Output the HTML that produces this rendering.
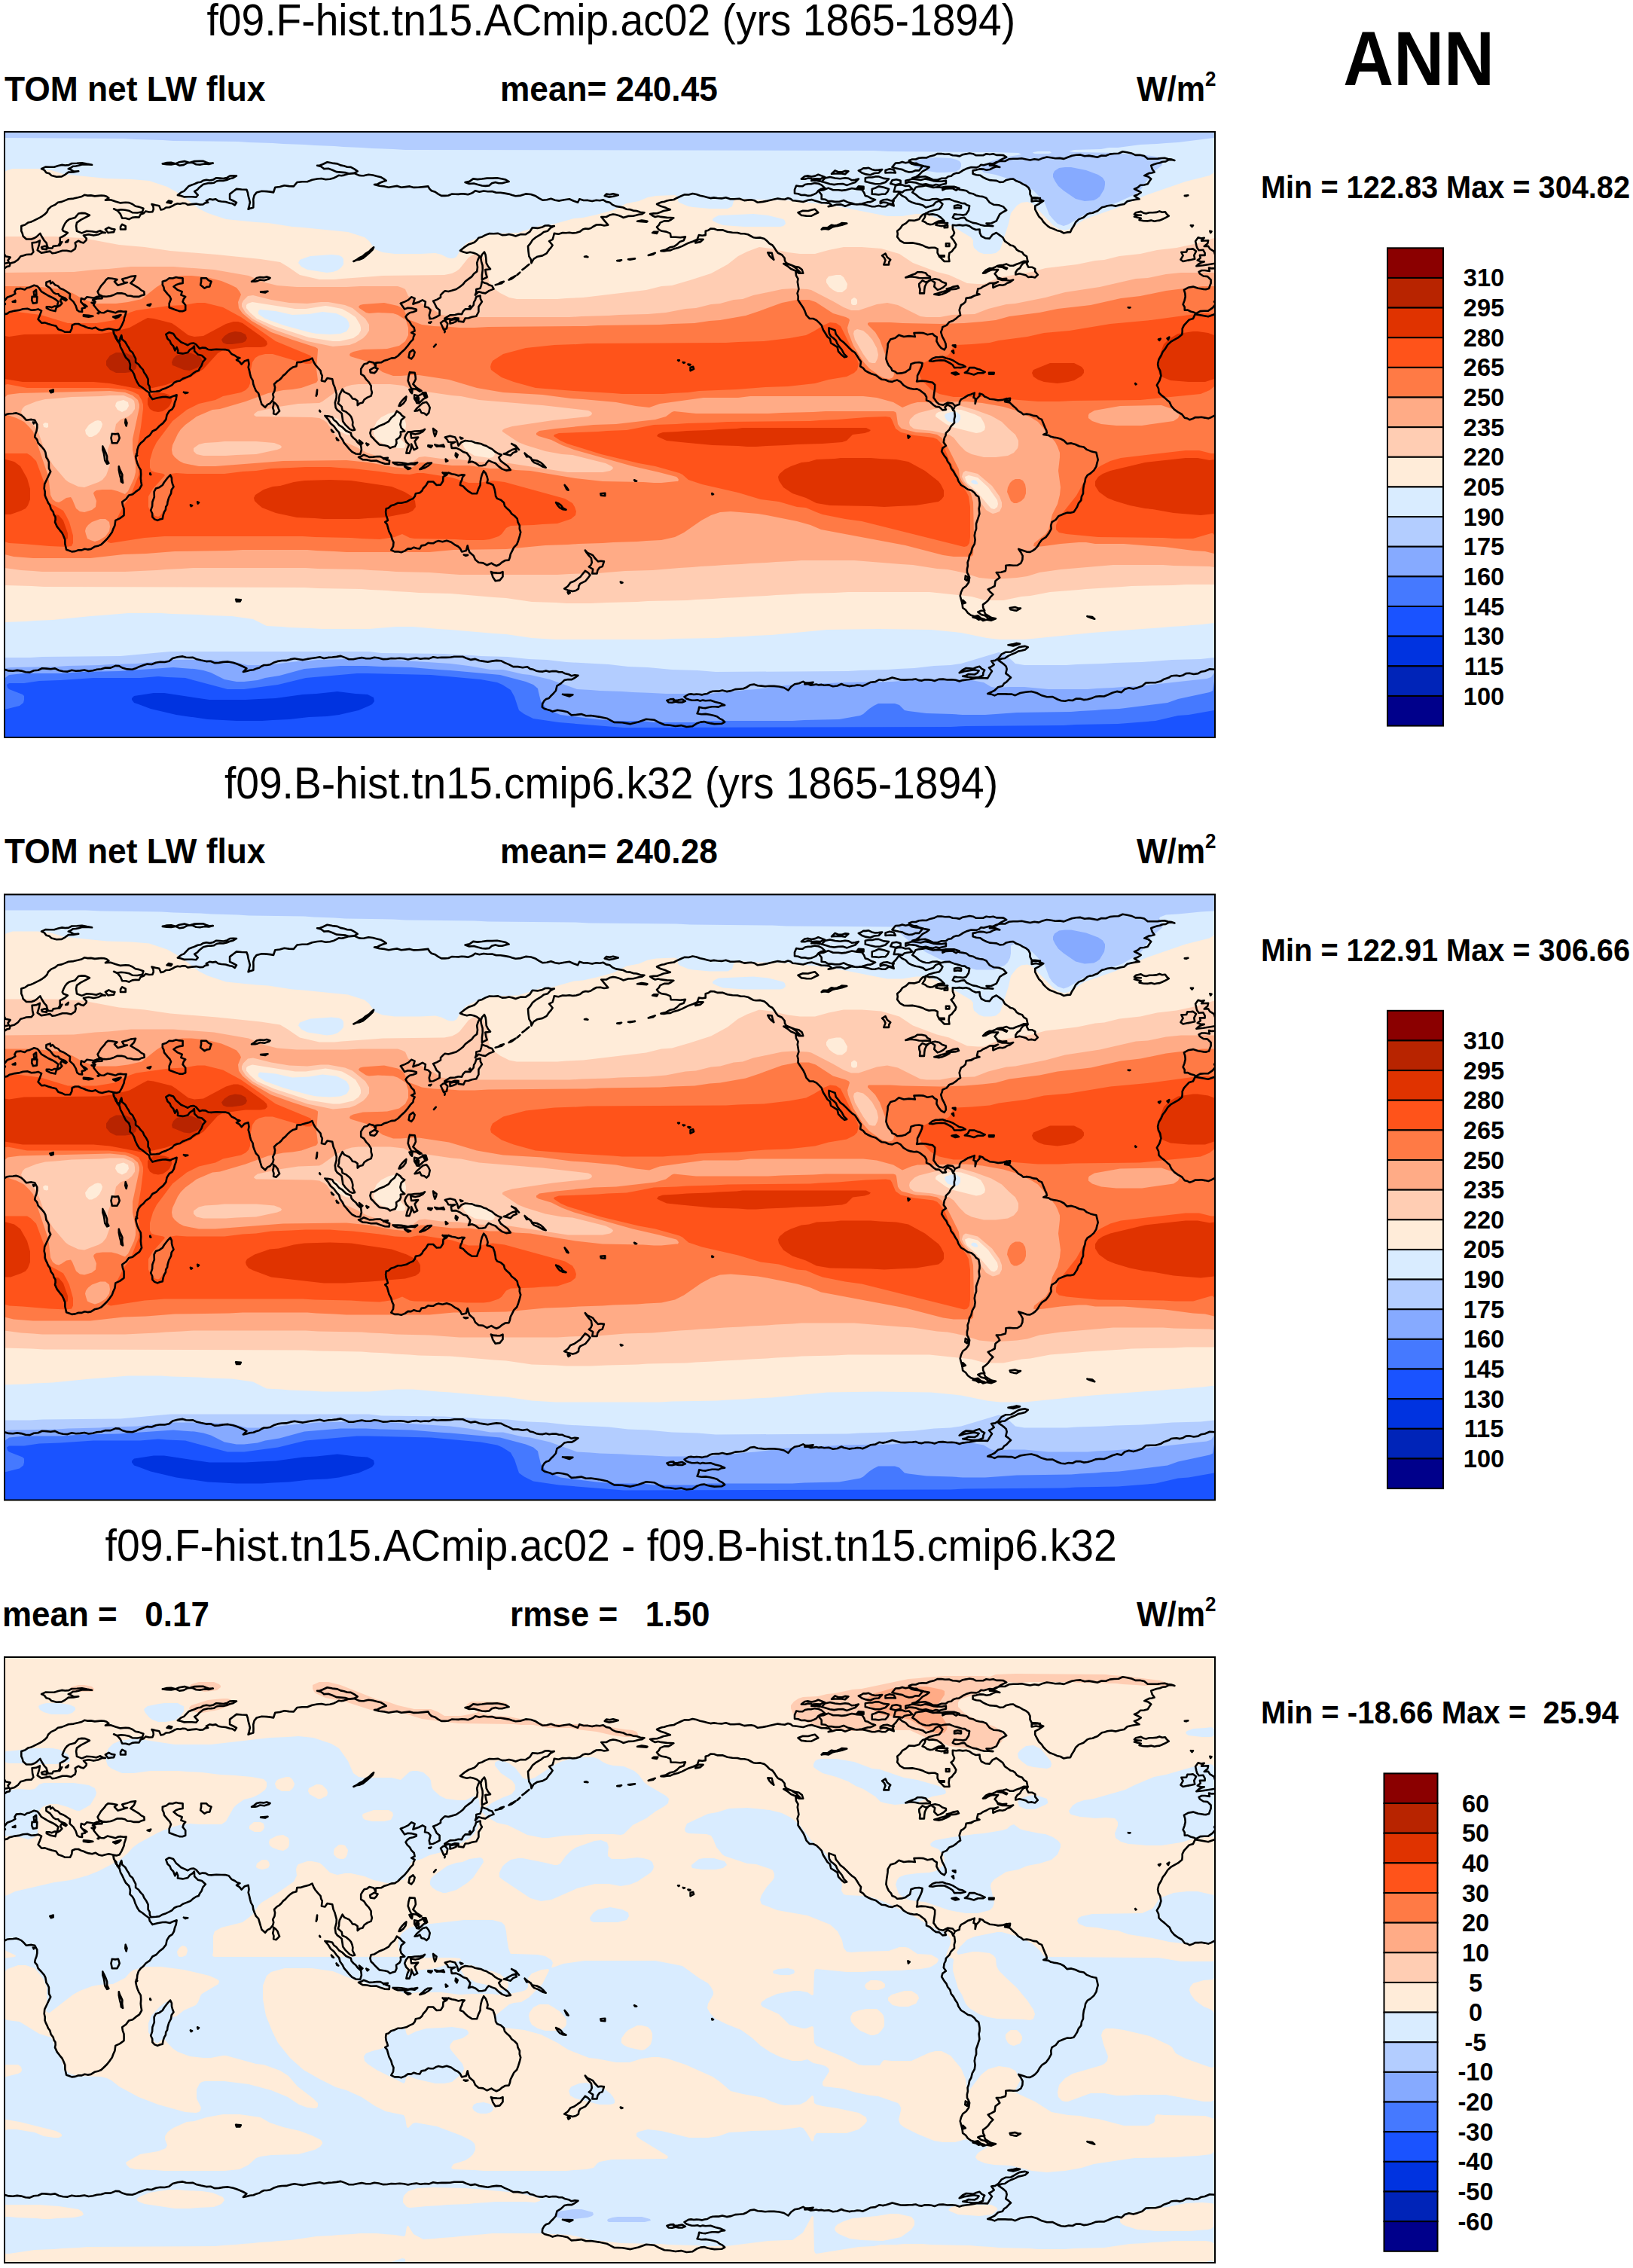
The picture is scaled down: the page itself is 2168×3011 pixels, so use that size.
<!DOCTYPE html>
<html lang="en"><head><meta charset="utf-8"><title>ANN TOM net LW flux</title>
<style>
html,body{margin:0;padding:0;background:#fff;}
svg{display:block;}
text{white-space:pre;font-family:"Liberation Sans",Arial,Helvetica,sans-serif;fill:#000;}
.t{font-size:56px;text-anchor:middle;}
.b{font-size:44px;font-weight:bold;}
.l{font-size:32.6px;font-weight:bold;text-anchor:middle;}
.mm{font-size:41px;font-weight:bold;}
.coast{fill:none;stroke:#000;stroke-width:2.6;stroke-linejoin:round;stroke-linecap:round;}
</style></head><body>
<svg width="2168" height="3011" viewBox="0 0 2168 3011">
<rect width="2168" height="3011" fill="#fff"/>
<defs><clipPath id="mc"><rect x="0" y="0" width="1607" height="804"/></clipPath></defs>
<g transform="translate(6,175)" clip-path="url(#mc)">
<g fill-rule="evenodd" stroke="none">
<rect x="0" y="0" width="1607" height="804" fill="#0033e0"/>
<path fill="#1a53ff" d="M2,0 1606,0 1606,804 0,804 0,0ZM433,744 414,746 396,747 360,752 338,753 320,754 272,754 212,745 198,745 172,749 169,752 169,754 172,758 178,760 194,766 228,774 270,780 290,781 308,782 342,782 356,781 378,780 404,777 428,776 444,774 470,768 484,762 488,760 491,756 490,751 482,747 466,746 442,743Z"/>
<path fill="#4579ff" d="M2,0 1606,0 1606,768 1572,774 1558,775 1528,782 1478,786 1422,787 1406,788 1276,789 1256,790 822,791 736,784 702,779 690,773 683,768 677,750 672,741 661,734 654,731 632,727 566,721 482,719 468,719 400,725 363,734 318,740 296,740 240,725 216,724 204,723 180,725 118,725 74,728 46,729 26,732 6,732 3,734 4,738 6,740 24,747 26,749 26,754 25,758 20,762 0,767 0,0Z"/>
<path fill="#86aaff" d="M2,0 1606,0 1606,730 1604,742 1600,744 1558,753 1544,758 1480,766 1458,767 1448,768 1428,769 1416,770 1344,771 1302,774 1272,774 1258,773 1224,772 1200,769 1195,768 1188,761 1182,759 1166,759 1160,759 1154,762 1148,766 1140,773 1136,775 1108,780 1062,781 1046,782 934,782 918,784 862,784 846,782 810,782 786,780 738,774 724,768 718,764 712,756 709,744 708,739 702,734 692,730 658,721 592,715 576,714 540,711 499,710 480,709 446,709 422,711 398,713 365,722 346,725 336,728 318,730 308,730 292,727 274,718 264,715 252,713 236,712 224,711 152,716 102,717 76,719 26,719 6,721 2,724 0,726 0,0Z"/>
<path fill="#b3cdff" d="M2,0 1606,0 1606,718 1602,724 1596,726 1532,733 1506,736 1484,737 1472,738 1450,739 1438,740 1386,740 1354,737 1334,737 1316,738 1310,737 1300,731 1278,727 1216,727 1178,730 1112,731 1096,732 1062,733 1052,734 1036,735 998,740 984,741 936,746 878,746 860,745 834,744 820,743 790,742 778,741 760,740 724,727 698,721 688,720 662,714 645,714 616,709 592,706 498,700 486,699 470,699 456,700 416,701 406,702 390,703 348,708 322,708 304,703 282,702 272,701 224,701 176,706 140,707 126,708 84,709 70,710 8,711 2,712 0,714 0,0ZM1400,48 1394,52 1392,56 1392,60 1395,66 1399,72 1406,78 1422,89 1434,92 1446,91 1450,89 1454,86 1460,76 1461,70 1461,66 1458,61 1452,57 1436,51 1416,47 1408,47Z"/>
<path fill="#d9ecff" d="M2,8 158,9 174,10 210,11 224,12 310,13 324,14 356,15 370,16 398,17 412,18 438,19 450,20 474,21 488,22 516,23 532,24 1154,25 1174,26 1312,27 1346,28 1350,30 1322,35 1310,39 1298,45 1296,48 1296,50 1300,54 1316,57 1344,66 1365,77 1380,92 1387,110 1392,116 1398,122 1406,125 1412,123 1432,111 1479,93 1499,84 1509,76 1522,57 1526,53 1536,45 1538,40 1536,36 1534,34 1516,31 1494,30 1480,28 1420,27 1413,26 1420,24 1456,23 1466,21 1478,21 1508,17 1530,16 1542,15 1558,14 1606,8 1606,698 1588,700 1550,701 1510,704 1474,705 1458,706 1424,707 1410,708 1354,708 1342,706 1328,693 1320,691 1270,706 1256,708 1234,709 1208,712 1186,713 1172,714 1136,715 1120,716 944,717 932,716 920,715 886,714 854,711 828,710 802,707 746,704 720,701 696,700 668,697 632,696 620,695 598,694 584,693 500,692 484,690 220,690 154,696 50,697 34,698 0,698 0,8ZM1218,36 1210,38 1206,40 1206,42 1207,46 1214,48 1226,52 1238,54 1248,54 1262,53 1268,50 1270,46 1270,42 1268,39 1264,37 1256,35 1236,34ZM1366,27 1372,26 1382,26 1388,26 1390,28 1386,29 1374,29 1368,29 1365,28Z"/>
<path fill="#ffecd9" d="M11,49 44,49 62,51 78,56 96,58 136,62 168,63 192,65 216,73 232,82 258,102 270,108 294,116 334,120 350,121 382,126 396,127 456,133 478,140 484,145 492,156 502,160 518,162 552,162 572,161 580,163 588,167 592,168 596,168 600,166 607,154 613,148 632,139 652,135 682,134 710,125 724,124 756,115 768,114 786,110 808,104 826,95 842,92 854,87 865,85 890,84 894,86 894,92 896,94 908,99 914,100 936,102 960,102 966,99 968,92 970,90 981,89 996,90 1040,91 1096,97 1172,112 1192,112 1210,109 1224,109 1244,117 1283,140 1286,144 1286,150 1287,154 1294,160 1300,162 1310,162 1316,161 1322,156 1333,122 1336,108 1344,98 1350,94 1358,93 1364,95 1392,124 1400,129 1408,131 1414,129 1434,116 1474,102 1516,84 1568,66 1600,58 1606,54 1606,652 1590,654 1576,655 1566,656 1548,657 1538,658 1444,665 1354,674 1322,674 1304,672 1270,665 1230,661 1160,660 1092,661 1018,668 994,669 982,670 960,671 946,672 886,673 870,674 732,674 700,672 666,667 650,666 592,661 576,660 542,657 520,657 484,660 422,660 406,659 378,658 368,657 348,656 330,647 302,643 272,642 258,641 222,640 208,639 164,639 128,642 114,643 64,648 40,649 28,650 0,651 0,53 4,51ZM972,110 948,111 942,114 940,116 940,118 946,121 954,124 982,126 1030,126 1034,125 1037,122 1036,118 1034,116 1014,111 994,109ZM420,164 406,165 400,167 392,170 390,174 394,179 402,183 428,187 436,186 442,184 447,180 450,176 450,172 450,169 448,166 444,164 434,163ZM339,236 337,238 337,242 346,248 371,257 404,266 414,268 432,269 446,268 454,265 456,262 458,258 457,253 454,248 447,244 440,241 422,239 404,242 382,243 360,238ZM1257,372 1250,374 1248,376 1249,380 1252,384 1258,386 1262,387 1266,386 1269,382 1269,376 1264,372ZM1283,464 1284,466 1288,468 1290,468 1292,468 1292,466 1290,463 1286,462Z"/>
<path fill="#ffcdb3" d="M2,139 10,139 68,139 84,140 104,141 152,150 186,153 220,158 282,163 340,169 366,173 376,179 392,190 418,196 438,196 448,195 490,192 502,191 584,190 594,188 600,185 604,182 616,167 622,163 628,162 634,164 638,170 642,182 643,198 650,208 658,214 670,220 680,222 690,222 734,222 746,221 768,220 852,210 872,205 886,204 910,197 938,188 960,176 974,165 986,159 1002,153 1018,155 1040,160 1056,162 1076,162 1094,157 1114,153 1138,153 1164,155 1188,162 1206,174 1238,186 1254,190 1278,201 1292,202 1300,202 1322,193 1364,186 1382,181 1424,176 1448,171 1460,170 1480,165 1508,162 1530,157 1556,154 1584,148 1606,141 1606,601 1568,601 1552,602 1496,603 1484,604 1436,607 1426,608 1388,611 1362,616 1350,617 1326,622 1302,622 1284,617 1228,611 1120,611 1102,612 1058,613 1046,614 1024,615 1012,616 990,617 976,618 954,619 940,620 918,621 906,622 854,623 840,624 800,625 778,626 746,626 732,625 700,624 666,619 650,618 592,613 550,612 538,611 518,610 508,609 486,608 474,607 416,606 398,605 52,604 36,603 0,602 0,140ZM1104,190 1094,192 1091,196 1091,200 1095,206 1100,210 1106,213 1112,213 1116,210 1118,208 1119,202 1114,193 1110,190ZM1125,222 1124,223 1124,228 1126,230 1130,230 1132,228 1132,223 1130,221 1128,220ZM329,226 323,228 321,230 321,234 326,240 335,248 358,258 404,273 436,278 445,278 458,275 463,274 470,269 473,264 473,260 472,256 466,246 457,240 448,235 433,232 426,231 400,235 386,235ZM150,358 148,360 147,364 150,369 156,372 162,369 165,364 164,359 158,356ZM1257,368 1240,372 1237,374 1236,376 1236,378 1250,388 1258,392 1290,400 1296,399 1301,396 1302,392 1301,388 1299,384 1296,379 1288,375 1270,369ZM510,374 500,379 494,385 490,394 490,402 495,410 502,414 522,420 530,420 532,418 532,414 526,408 525,404 526,400 532,395 533,391 533,388 532,384 528,376 524,373 518,372ZM433,380 434,384 442,396 454,402 458,402 459,398 454,392 442,381 436,379ZM120,384 112,389 107,396 108,401 112,405 116,405 122,402 126,398 129,392 130,388 128,384 124,383ZM51,388 52,392 56,393 58,392 58,390 58,387 54,386ZM611,410 608,414 610,419 614,424 624,430 630,431 644,433 648,432 650,430 651,428 650,424 644,419 624,410 618,409ZM1275,458 1276,462 1278,466 1291,478 1308,498 1310,500 1314,501 1318,498 1319,494 1318,489 1306,472 1292,459 1280,456Z"/>
<path fill="#ffab86" d="M168,179 224,179 236,180 278,183 324,191 346,200 362,204 388,206 454,206 472,205 522,205 528,207 532,209 536,218 542,222 566,234 580,243 586,244 612,246 750,246 766,245 802,244 816,243 854,242 878,240 904,235 918,234 938,229 950,228 968,223 980,222 994,217 1032,209 1046,208 1066,209 1071,210 1100,225 1114,233 1124,237 1134,237 1158,229 1172,227 1186,230 1216,245 1224,246 1242,246 1258,243 1288,242 1306,235 1330,229 1342,228 1382,220 1408,213 1454,206 1502,195 1518,194 1542,189 1562,187 1606,187 1606,578 1600,577 1552,576 1538,575 1472,575 1402,581 1374,585 1358,590 1344,592 1314,594 1294,592 1272,585 1252,581 1238,580 1206,575 1190,574 1128,569 1058,569 1046,570 1024,571 1012,572 990,573 978,574 956,575 943,576 924,577 913,578 896,579 860,582 824,583 788,586 750,587 734,588 604,588 564,585 520,584 508,583 486,582 474,581 416,580 400,579 250,579 235,580 214,581 202,582 180,583 160,584 50,584 38,583 22,582 0,579 0,187 92,186 120,183 138,182ZM323,218 317,224 315,228 315,232 320,240 329,248 336,252 356,262 402,278 436,285 458,283 466,280 476,274 480,270 484,264 484,256 479,248 462,234 452,230 430,226 420,226 402,228 378,227 354,223 330,217ZM1128,264 1127,268 1129,276 1140,295 1148,306 1152,307 1156,307 1159,301 1160,296 1158,287 1152,276 1146,269 1140,264 1132,262ZM461,336 454,338 440,345 422,358 418,360 390,361 364,365 336,371 332,374 331,376 334,378 340,378 408,379 418,380 424,383 428,386 432,392 438,402 450,411 466,418 481,426 518,438 532,440 536,441 540,440 550,432 558,431 580,434 604,435 628,438 670,440 748,452 794,452 804,450 807,448 808,446 806,444 798,440 754,429 740,428 718,424 692,416 682,412 661,398 661,396 664,394 674,391 728,383 775,378 779,376 780,374 779,372 775,370 714,363 700,362 690,361 630,356 606,351 594,350 560,345 544,344 530,337 512,335 470,335ZM89,352 68,354 54,355 42,358 27,364 24,367 22,372 24,376 37,388 42,393 46,402 54,425 64,442 81,462 85,465 98,471 106,472 125,465 130,462 135,456 140,442 137,430 137,422 146,398 148,388 154,382 164,378 169,374 173,368 173,362 172,357 168,354 158,350 140,350 128,351ZM1242,366 1214,373 1208,376 1202,382 1201,386 1202,390 1207,394 1212,395 1232,397 1254,402 1260,406 1268,416 1276,424 1284,428 1300,432 1316,432 1332,430 1340,426 1345,420 1346,416 1346,410 1342,402 1334,395 1324,385 1310,377 1288,369 1270,364 1260,364ZM283,412 266,413 258,415 251,420 251,424 255,428 264,430 294,430 308,429 334,428 362,422 367,420 368,418 366,416 358,413 334,411 292,411ZM1273,452 1272,454 1271,458 1274,464 1286,478 1303,502 1308,505 1312,507 1316,506 1321,504 1324,498 1324,492 1321,484 1311,470 1292,454 1280,451 1276,450Z"/>
<path fill="#ff7a45" d="M236,191 248,191 268,193 288,198 300,203 308,207 312,212 314,216 310,226 311,234 316,241 328,251 354,266 382,276 413,286 416,288 416,290 414,314 416,330 414,333 394,340 382,342 370,343 350,347 320,358 286,368 276,369 255,378 240,389 234,395 230,401 223,416 222,422 223,428 226,432 232,437 238,440 258,444 280,444 370,437 454,436 484,439 516,445 536,447 542,445 552,439 558,439 594,443 617,443 644,447 668,447 678,449 698,450 758,460 794,464 848,465 862,466 872,466 892,464 894,464 895,462 894,460 892,458 869,452 834,444 756,422 740,416 726,409 709,404 706,402 706,400 710,397 732,394 782,389 812,388 864,382 878,378 886,372 889,371 918,374 1014,374 1032,373 1074,372 1090,371 1180,371 1183,372 1184,374 1186,388 1188,391 1191,394 1210,399 1228,400 1238,402 1244,406 1250,414 1260,434 1267,448 1268,458 1271,464 1283,480 1286,492 1287,536 1286,562 1283,564 1278,564 1260,564 1246,562 1196,549 1084,528 1070,522 1052,517 1012,509 1000,507 964,504 950,505 938,509 925,516 902,532 890,538 872,542 852,543 840,544 808,545 794,546 762,547 748,548 718,549 666,554 596,555 564,558 454,558 438,557 414,556 402,555 316,555 298,556 226,557 188,560 158,561 114,566 38,566 12,564 0,561 0,373 4,376 16,380 26,385 33,392 38,398 57,454 59,464 61,482 64,488 68,491 72,492 76,490 82,486 88,485 90,488 95,500 100,504 106,505 116,502 121,498 122,490 118,480 119,478 122,476 130,475 142,475 150,477 160,481 164,477 172,460 174,452 174,442 170,422 170,408 179,366 179,362 177,356 170,350 160,346 140,344 20,347 4,349 0,353 0,205 38,205 76,209 90,214 104,222 122,228 148,228 164,226 182,222 202,206 220,195 224,193ZM127,514 116,518 111,522 108,526 107,530 108,534 110,540 114,542 120,544 126,542 134,537 139,530 140,524 139,518 134,514ZM1590,205 1606,205 1606,560 1594,557 1578,556 1540,551 1524,550 1486,547 1448,547 1436,545 1426,545 1402,547 1380,550 1370,551 1366,550 1367,546 1382,534 1386,528 1391,508 1398,494 1401,482 1402,472 1399,450 1401,432 1401,426 1398,418 1395,412 1372,385 1364,380 1346,371 1326,365 1298,360 1276,358 1212,359 1204,361 1192,366 1180,359 1158,353 1140,351 1010,351 990,351 974,353 928,353 870,361 856,366 838,364 812,359 768,355 752,354 714,349 662,346 627,340 590,329 550,323 538,323 526,324 516,324 502,319 482,305 462,299 459,298 458,296 459,294 463,292 476,289 508,288 524,284 532,278 536,270 536,260 533,250 522,243 516,241 496,240 484,241 480,240 471,234 470,232 472,230 476,229 504,227 522,231 528,234 531,238 536,249 554,256 570,258 592,259 604,260 624,260 642,259 772,258 788,257 870,256 886,255 916,254 936,251 950,250 984,244 1002,238 1032,227 1052,223 1068,223 1077,226 1100,241 1117,246 1121,248 1122,250 1119,260 1120,266 1127,284 1140,305 1148,314 1162,324 1168,327 1174,328 1178,327 1180,325 1181,322 1180,318 1173,306 1162,276 1156,266 1146,256 1146,254 1148,253 1176,253 1192,254 1242,255 1274,254 1298,252 1316,250 1334,245 1374,240 1398,235 1442,230 1482,221 1508,218 1542,211ZM1481,364 1447,370 1440,374 1439,376 1439,380 1444,384 1456,388 1476,390 1510,390 1552,384 1558,380 1560,376 1558,372 1556,370 1536,363ZM1342,461 1348,461 1352,463 1355,468 1356,474 1356,480 1354,486 1350,490 1344,493 1340,493 1336,490 1331,478 1332,472 1335,466 1338,463Z"/>
<path fill="#ff531a" d="M256,227 266,227 290,233 314,246 360,278 406,297 408,300 409,304 408,307 406,308 400,308 356,295 346,295 338,297 333,300 329,306 327,316 326,334 324,339 320,343 314,346 290,351 280,356 258,361 242,369 223,384 202,412 197,422 193,436 193,446 195,450 200,452 211,454 213,456 197,474 191,484 191,490 191,498 195,506 200,510 204,511 206,510 214,500 216,494 224,470 223,464 218,456 221,454 228,453 242,454 292,454 316,451 334,450 354,447 380,446 400,445 432,445 444,446 462,447 498,451 518,454 538,455 548,453 556,453 594,459 616,466 630,466 648,463 664,465 744,487 754,493 757,498 759,504 758,509 752,514 734,520 714,521 702,522 672,523 666,526 660,534 656,537 644,541 636,542 614,542 598,541 544,540 538,539 528,534 518,538 498,541 474,540 460,539 412,538 396,537 212,537 200,538 186,539 141,546 138,545 136,544 145,530 148,516 158,496 167,484 178,456 179,442 176,420 181,392 184,368 184,362 182,356 178,349 170,345 160,342 138,340 30,340 4,335 0,336 0,241 8,239 16,239 48,243 84,254 122,254 146,250 166,240 175,237 218,231 238,230ZM1588,241 1596,241 1606,242 1606,338 1600,343 1588,348 1508,356 1418,357 1400,358 1372,358 1334,355 1312,354 1298,352 1260,352 1241,348 1230,342 1218,330 1213,320 1214,314 1218,308 1231,301 1252,297 1255,294 1259,286 1264,283 1284,282 1308,280 1320,277 1358,272 1380,267 1414,264 1468,255 1522,250ZM1096,253 1104,254 1110,258 1132,302 1134,308 1133,312 1132,316 1128,320 1118,325 1094,329 1076,334 1040,338 1010,339 972,342 922,344 908,346 886,347 874,348 820,348 808,347 756,344 705,340 676,332 660,326 650,319 646,316 645,312 646,308 648,304 662,295 692,287 730,283 760,282 774,281 958,280 974,279 1008,278 1042,274 1064,270 1074,265 1089,256ZM1144,379 1170,378 1176,379 1178,382 1183,394 1190,399 1208,403 1233,406 1238,408 1242,412 1248,420 1255,438 1263,452 1267,464 1277,478 1280,484 1282,498 1282,538 1281,546 1278,550 1274,551 1270,550 1138,517 1116,514 1086,508 1078,505 1064,499 1052,498 1028,491 1004,488 974,479 926,468 908,462 900,455 896,453 864,444 842,440 792,428 747,414 738,410 729,404 730,402 736,400 788,398 800,397 826,396 847,392 862,389 892,388 906,387 942,386 960,385 1070,384 1082,383 1106,382 1118,381ZM1568,423 1586,423 1602,427 1606,427 1606,535 1604,533 1602,533 1578,540 1570,540 1554,540 1538,539 1452,538 1410,534 1400,532 1396,528 1396,522 1400,512 1423,483 1438,456 1442,452 1456,443 1468,437 1482,433ZM2,427 30,427 35,430 42,437 52,464 56,484 58,490 62,494 73,500 78,503 82,510 86,518 91,536 91,546 89,550 82,551 60,550 24,547 6,546 0,544 0,427Z"/>
<path fill="#e03300" d="M190,247 198,248 222,254 228,258 244,270 252,272 264,271 294,255 304,252 310,252 316,254 344,274 348,278 349,282 346,285 340,286 320,286 290,290 283,294 264,315 246,326 238,330 228,331 214,336 188,342 182,342 140,334 118,332 24,332 0,328 0,271 6,272 26,269 128,268 142,266 166,260 184,250ZM1578,265 1584,265 1598,267 1606,270 1606,328 1594,332 1572,332 1548,330 1538,326 1533,322 1531,314 1533,298 1539,282 1546,275 1558,268ZM1388,307 1406,307 1420,307 1430,312 1433,316 1433,320 1430,324 1420,330 1412,332 1398,334 1380,332 1372,329 1366,325 1364,320 1366,316ZM198,347 204,346 212,347 218,349 221,352 222,354 222,358 219,364 216,367 210,371 204,372 198,371 193,368 190,362 190,354 192,351ZM980,393 1118,393 1144,393 1150,396 1148,398 1142,400 1126,402 1118,410 1112,412 1086,414 1052,415 1038,416 1012,417 998,418 986,418 974,417 940,416 898,412 879,410 870,406 866,404 868,401 874,399 894,398 906,397 936,396 948,395 972,394ZM1110,433 1150,433 1162,434 1184,435 1200,438 1222,450 1240,464 1243,468 1247,476 1247,480 1247,484 1244,488 1240,491 1210,496 1186,497 1168,498 1150,497 1096,496 1078,493 1064,486 1046,480 1034,472 1028,463 1027,458 1029,454 1036,448 1044,444 1058,439 1068,438 1078,435 1102,434ZM1568,433 1584,433 1600,436 1606,435 1606,507 1588,509 1552,506 1524,501 1514,500 1494,496 1474,490 1464,486 1453,478 1448,470 1448,464 1452,458 1458,454 1468,450 1514,439ZM2,435 13,438 21,444 30,460 34,474 34,488 31,496 28,500 22,503 8,508 0,508 0,435ZM398,463 432,462 460,463 514,471 531,478 541,484 545,490 546,498 542,503 536,506 504,512 482,513 470,514 424,514 412,513 388,512 360,506 342,499 336,494 332,490 331,486 333,482 344,475 356,471 366,470 384,465ZM66,509 68,508 72,509 78,516 84,533 84,540 82,541 80,540 76,534 66,516Z"/>
<path fill="#b82400" d="M306,265 314,266 320,269 322,274 320,278 316,280 302,282 295,282 290,280 288,276 292,271 298,267ZM148,293 160,293 171,298 174,302 176,307 175,312 174,315 168,319 160,320 148,320 140,316 135,310 135,304 140,297ZM240,293 248,294 260,299 263,304 262,308 256,313 246,317 238,316 226,311 223,310 222,306 224,301 228,297Z"/>
</g>
<path class="coast" d="M1580.7,242.1 1598.1,245.2 1607.0,242.1M0.0,242.1 0.0,242.1 3.6,241.4 6.5,239.2 9.9,238.4 13.4,237.6 19.0,236.9 24.5,235.2 30.3,234.7 35.7,236.7 40.2,236.4 44.6,235.4 49.1,237.6 46.9,243.4 44.6,248.8 49.1,253.7 53.7,253.4 58.0,255.0 63.1,256.5 68.3,257.7 71.4,262.2 76.0,263.7 80.4,265.8 87.0,265.8 89.3,261.3 89.7,256.8 93.8,255.0 98.2,255.0 101.4,256.7 104.9,257.8 108.1,259.3 111.6,260.4 116.3,261.3 120.9,259.8 124.9,262.4 129.5,263.5 133.9,262.3 138.4,261.3 144.2,262.6 145.1,268.0 148.3,272.0 149.5,276.9 152.7,280.9 154.0,285.9 156.4,290.2 158.5,294.8 161.1,299.8 165.2,303.7 166.9,309.2 166.5,314.9 169.7,317.9 171.9,321.6 173.7,327.3 176.3,332.8 178.9,336.9 183.0,339.5 187.3,343.0 191.9,346.2 192.8,350.2 196.4,355.1 203.0,353.2 209.8,352.0 214.7,351.9 219.5,353.0 223.9,350.9 228.6,349.3 227.7,355.1 226.0,359.4 225.0,364.0 222.7,368.1 218.7,370.7 215.5,375.9 214.3,381.9 210.3,386.9 205.3,390.8 201.5,395.0 196.4,397.5 192.8,402.9 187.5,406.5 184.5,410.2 180.8,413.2 177.8,417.3 176.3,422.1 175.9,426.8 174.1,431.0 175.0,435.5 176.3,440.0 178.2,444.6 180.8,448.9 181.2,454.5 180.8,460.1 181.3,464.5 182.1,469.0 179.1,474.4 174.1,477.9 170.1,481.2 165.2,482.4 161.4,487.5 156.2,491.3 156.9,495.9 158.5,500.3 158.6,504.7 158.5,509.2 153.2,513.1 147.3,515.9 146.4,522.6 144.4,527.0 142.8,531.5 139.6,536.1 136.1,540.5 133.6,543.0 131.0,545.5 128.3,548.0 125.0,549.4 119.5,550.8 114.7,553.9 110.5,554.6 106.4,553.7 102.5,555.4 98.2,555.2 93.9,556.9 89.3,557.4 85.8,556.0 82.1,554.8 81.3,551.0 80.4,547.2 80.3,541.4 78.1,536.0 76.3,532.4 73.7,529.3 69.7,524.1 67.0,518.1 67.7,514.7 67.5,511.2 65.5,508.2 64.7,504.7 61.6,500.7 60.3,495.8 58.0,492.8 56.6,489.2 54.9,485.9 53.6,482.4 53.7,477.9 52.7,473.5 53.2,467.6 55.8,462.3 58.4,456.7 61.2,451.1 59.0,446.9 58.9,442.2 58.9,438.6 57.5,435.3 55.5,432.3 54.9,428.8 54.3,425.3 52.7,422.1 48.8,417.5 44.6,413.2 43.2,408.7 40.2,405.1 40.9,401.2 42.4,397.5 43.3,393.1 43.3,388.6 40.2,382.8 35.7,381.9 29.0,382.8 25.8,379.3 22.3,376.1 19.0,374.6 15.6,373.4 11.2,374.0 6.7,374.3 3.2,374.8 0.0,376.5 0.0,376.5M1607.0,376.5 1602.6,378.7 1598.1,380.6 1593.6,379.6 1589.1,378.8 1585.1,379.1 1581.0,379.0 1577.4,380.9 1573.5,382.3 1570.4,380.5 1566.8,379.7 1563.1,375.0 1557.9,372.1 1553.0,368.6 1549.0,364.0 1546.7,358.7 1543.3,355.9 1540.0,352.9 1536.0,349.8 1532.5,346.2 1532.1,341.0 1529.8,336.3 1533.3,330.5 1535.4,323.9 1534.2,317.1 1531.9,313.0 1531.1,308.2 1532.4,302.2 1535.6,297.0 1537.6,292.2 1540.9,288.1 1544.3,282.6 1549.0,278.3 1553.4,275.8 1557.9,273.4 1563.3,268.9 1563.7,265.1 1563.7,261.3 1565.9,256.9 1569.1,253.3 1572.8,249.4 1578.0,247.9 1580.7,242.1M220.1,455.6 221.9,459.3 222.0,463.5 223.0,467.5 224.5,471.2 221.7,475.3 221.0,480.2 218.2,485.5 216.5,491.3 216.1,494.9 214.2,498.0 213.9,501.6 212.0,504.7 210.6,509.1 209.8,513.7 206.4,514.5 203.1,515.9 199.2,514.4 196.4,511.4 196.2,506.7 194.2,502.5 196.1,497.1 196.4,491.3 198.8,484.9 198.6,477.9 200.9,473.5 205.7,471.9 209.8,469.0 211.8,465.5 214.3,462.3 217.0,458.8 220.1,455.6M145.5,268.4 148.2,274.7 152.7,278.3 153.1,276.9 153.7,273.4 155.3,270.2 156.2,275.6 160.3,279.0 162.9,283.6 165.0,286.8 166.5,290.3 170.0,293.1 171.9,297.0 174.1,301.2 174.1,306.0 178.0,308.7 180.8,312.7 183.7,315.6 185.3,319.4 188.2,323.6 190.6,328.3 190.6,335.0 192.6,338.1 192.8,341.7 194.2,345.3 200.9,344.8 205.6,344.1 209.8,341.7 214.4,340.2 218.7,338.1 222.4,336.1 225.2,333.0 228.9,331.3 233.0,330.5 236.7,327.8 241.0,326.1 246.9,323.8 250.4,320.6 254.4,318.0 257.6,317.1 259.3,313.6 261.6,310.4 263.4,305.4 266.9,301.5 262.0,297.0 256.7,295.7 252.2,291.2 251.8,284.5 250.0,286.8 246.1,289.3 243.3,293.0 236.6,294.4 229.9,293.5 230.3,290.3 228.6,285.9 226.3,290.3 224.1,284.5 221.0,281.4 219.6,277.5 216.5,274.7 214.3,268.9 218.7,266.2 224.1,268.0 227.7,273.4 231.1,276.2 234.4,279.2 238.8,281.1 243.3,283.2 247.0,281.0 251.3,280.5 254.4,282.3 258.9,287.7 262.8,286.6 266.9,286.9 270.4,289.0 274.5,289.4 281.2,288.7 287.9,289.0 292.9,289.1 297.7,290.3 301.3,294.8 305.8,297.0 308.9,299.2 312.5,300.2 308.0,302.8 311.9,305.2 314.7,308.6 318.4,304.6 323.6,302.8 324.5,308.2 323.7,312.7 325.0,317.1 326.0,321.6 327.2,326.1 329.6,330.2 330.3,335.0 332.0,339.5 333.9,343.9 337.1,347.2 338.4,351.5 339.9,356.7 341.5,361.8 346.0,365.8 349.1,362.2 352.6,360.5 356.2,356.0 357.2,352.2 356.2,348.4 358.5,343.9 359.1,339.4 358.0,335.0 361.6,331.4 364.7,329.5 367.4,327.0 369.7,323.9 372.7,321.6 375.9,318.0 379.4,314.9 383.1,312.4 387.5,311.3 388.4,306.0 392.9,305.9 397.3,304.6 404.0,302.8 408.4,300.6 410.7,306.0 412.9,309.5 416.2,313.4 419.6,317.1 420.2,320.6 421.8,323.8 420.9,330.5 425.4,331.4 428.5,327.0 435.2,328.3 436.6,335.0 438.5,339.3 439.7,343.9 440.8,348.3 440.6,352.9 438.8,359.6 439.7,366.3 441.9,369.4 445.0,371.6 447.7,373.9 448.6,379.7 449.3,384.6 452.2,388.6 455.3,391.7 458.3,394.6 462.0,396.2 465.1,395.7 462.0,389.5 462.4,385.7 461.6,381.9 460.1,378.2 457.5,375.2 453.1,371.6 448.6,369.8 447.7,364.9 442.8,360.5 444.0,356.7 444.2,352.9 444.8,349.4 446.4,346.2 448.6,341.7 450.9,345.3 454.2,346.9 457.5,348.4 460.0,351.1 462.0,354.2 465.7,354.9 468.7,357.3 468.7,363.1 471.6,360.5 475.4,359.6 477.6,355.5 481.8,352.6 486.6,350.6 487.9,346.2 486.7,341.8 486.6,337.2 483.7,332.4 479.9,328.3 477.3,324.2 473.2,321.6 473.2,314.9 475.3,311.5 477.6,308.2 481.3,307.4 484.3,305.1 490.1,306.4 492.8,311.3 492.8,306.9 495.5,306.4 500.3,306.2 504.4,303.7 508.9,302.4 513.3,300.6 518.2,300.1 522.3,297.5 526.7,293.0 531.2,289.0 535.7,283.6 538.7,279.4 542.4,275.6 543.0,272.1 544.6,268.9 540.1,266.7 544.6,264.4 543.7,260.0 540.3,256.6 537.9,252.4 534.7,249.4 532.5,245.7 534.8,242.6 537.9,240.3 542.4,239.3 546.8,237.6 546.8,235.8 540.1,234.1 535.5,233.8 531.2,235.4 529.0,232.3 525.8,227.8 531.2,225.6 536.2,223.2 540.1,219.3 544.6,221.1 543.5,224.9 542.4,228.7 544.6,227.8 549.9,226.0 554.9,223.3 558.9,225.6 558.0,232.3 562.4,233.2 565.6,236.7 563.8,243.4 564.7,248.3 569.4,247.7 573.6,245.7 577.6,243.4 577.6,236.7 573.6,233.4 571.4,228.7 569.1,224.7 574.3,222.6 579.0,219.8 579.0,216.6 582.5,213.1 584.8,211.3 589.3,212.0 593.7,210.8 599.7,209.0 604.9,205.5 608.6,202.6 611.6,198.8 616.0,195.4 620.5,192.1 623.3,188.2 627.2,185.4 628.0,179.8 627.2,174.2 628.6,169.6 630.7,165.3 627.1,162.4 622.7,160.8 618.2,159.7 613.8,160.8 609.2,159.5 604.9,157.7 610.2,153.4 616.0,149.6 619.9,148.3 623.8,146.7 626.9,144.0 629.4,140.7 634.1,139.4 638.3,137.1 643.7,135.0 649.5,135.2 655.3,134.9 660.7,137.1 665.2,137.0 669.7,136.1 674.2,137.1 678.5,138.5 685.0,136.1 691.9,136.2 697.3,132.7 700.8,127.3 707.6,127.9 714.2,126.4 717.8,124.5 721.9,124.3 725.8,125.6 729.8,125.1 724.8,127.7 720.9,131.8 715.9,132.9 712.0,136.2 706.1,139.6 700.8,143.8 698.2,148.1 695.0,151.9 695.5,158.6 696.4,165.3 698.8,169.4 699.5,174.2 702.4,168.9 707.5,165.7 714.2,164.4 719.7,161.4 723.1,156.3 725.6,153.6 727.6,150.5 723.1,145.2 727.6,142.9 728.8,138.9 729.8,134.9 735.5,135.7 741.0,134.0 745.5,134.2 749.9,133.7 754.4,134.5 758.9,134.0 763.8,132.6 767.8,129.5 771.2,128.5 774.8,128.9 778.3,128.0 781.2,126.0 785.8,123.5 791.1,123.3 796.1,124.5 801.3,123.7 796.8,118.4 792.3,113.0 799.0,113.0 803.3,110.6 808.0,109.4 811.5,110.1 814.9,110.9 818.3,112.2 821.4,113.9 827.9,111.9 834.7,111.7 838.5,110.8 842.2,109.8 846.1,109.3 849.5,107.2 844.2,106.7 839.2,105.0 834.6,104.6 830.2,103.1 825.5,102.7 821.4,100.5 816.6,99.6 811.8,98.9 807.3,96.9 803.5,93.8 798.9,92.9 794.9,90.3 790.3,91.3 785.6,90.7 780.1,92.1 774.4,90.9 768.8,91.0 763.3,89.3 761.1,93.8 755.5,91.7 749.9,89.3 743.2,90.2 736.5,91.6 730.9,90.7 725.5,88.8 719.9,90.3 714.2,90.7 709.6,88.2 705.3,85.3 698.8,83.0 691.9,82.4 685.4,84.6 678.5,85.3 674.0,84.0 669.6,82.6 664.0,81.6 658.5,80.7 652.7,80.8 647.3,79.1 641.7,79.2 636.1,78.5 630.5,79.7 624.9,78.2 622.1,80.5 618.8,82.1 615.3,83.3 611.6,82.6 607.1,82.2 602.6,82.9 598.2,82.7 593.7,82.6 589.4,84.5 584.8,84.9 580.0,84.9 575.8,82.6 571.7,79.7 566.9,78.2 564.2,75.6 562.4,72.4 555.8,73.1 549.1,73.7 543.4,73.9 537.9,72.4 532.3,73.1 526.7,73.7 521.3,71.9 515.6,72.7 510.0,73.7 504.4,72.4 497.6,71.8 491.0,70.1 495.2,69.5 498.9,67.5 502.7,66.0 506.7,64.8 503.4,62.4 500.0,60.3 494.5,58.9 489.0,57.5 483.3,56.8 477.6,58.1 474.1,58.2 470.6,57.9 467.4,56.4 464.2,54.9 457.4,55.6 450.8,57.6 447.2,58.3 443.7,57.8 440.6,59.6 437.5,61.2 432.0,62.7 426.4,63.3 420.8,62.0 415.1,62.5 408.4,63.7 402.0,66.3 395.2,66.2 388.4,67.0 383.9,72.4 377.7,72.1 371.5,71.3 365.5,73.0 359.3,73.7 358.2,77.0 357.1,80.4 352.7,79.6 348.2,79.1 341.4,78.8 334.8,80.4 331.6,84.4 330.3,89.3 330.5,94.9 330.3,100.5 326.9,101.4 323.6,102.7 324.8,98.3 325.9,93.8 324.8,89.3 323.6,84.9 322.9,80.7 321.4,76.8 314.7,76.5 308.0,75.9 303.5,79.2 299.1,82.6 299.1,89.3 303.6,91.5 308.0,93.8 305.8,97.4 302.7,95.3 299.1,94.7 293.6,93.0 287.9,92.5 283.8,91.8 280.4,89.4 276.4,90.1 272.3,89.3 267.8,91.6 270.1,93.8 266.4,94.4 263.4,96.5 258.8,96.6 254.4,95.6 248.8,96.1 243.3,96.9 240.2,95.0 236.6,94.7 233.1,95.8 229.6,95.3 226.2,96.4 223.2,98.3 218.9,100.2 214.3,100.5 211.2,102.7 207.6,103.6 205.3,98.3 200.4,97.3 195.5,96.0 197.4,99.1 197.8,102.7 196.4,106.3 191.9,106.5 187.5,105.4 184.6,108.2 180.8,109.4 178.6,113.5 174.1,113.3 169.6,113.9 165.2,116.1 160.8,114.8 156.2,114.8 154.0,109.4 150.3,104.9 145.1,102.3 149.5,104.1 154.7,103.3 159.9,103.8 165.0,104.7 169.6,107.2 176.4,107.5 183.0,106.3 184.4,101.8 178.6,99.6 173.8,98.7 169.9,96.0 165.5,94.1 160.7,93.8 153.9,94.4 147.3,92.5 140.8,90.2 133.9,90.7 138.4,88.0 135.5,85.8 132.1,84.8 128.5,84.5 125.0,84.9 119.8,85.4 114.7,84.4 110.4,84.6 106.1,83.8 102.4,86.0 98.2,87.1 91.6,88.6 84.8,89.3 80.4,91.1 75.9,92.9 70.9,93.8 67.0,96.9 62.0,99.1 58.0,102.7 56.4,106.5 53.6,109.4 50.3,111.8 46.9,113.9 42.4,116.1 37.9,118.4 34.7,119.8 31.2,120.6 27.1,123.5 22.3,125.1 22.3,131.8 23.8,135.0 24.6,138.5 29.0,142.5 35.7,142.5 39.2,141.3 42.4,139.4 47.3,134.9 49.1,138.5 52.7,144.3 55.6,147.3 56.7,151.4 58.0,154.5 63.4,154.5 64.7,151.9 71.4,151.0 73.7,147.4 73.7,140.7 77.1,139.0 80.4,137.1 83.9,134.0 78.1,131.8 76.8,129.5 78.4,125.5 80.4,121.5 82.9,118.4 86.1,116.0 89.9,114.9 93.7,113.9 98.2,108.5 102.6,107.9 107.1,108.1 112.9,110.8 107.1,113.9 101.3,116.9 96.0,120.6 95.1,125.1 96.0,131.8 99.3,133.1 102.7,134.4 109.1,131.8 116.1,132.2 121.8,133.2 127.2,131.3 130.4,133.2 133.9,134.0 129.2,134.0 125.0,136.2 118.3,137.6 111.6,136.2 104.9,137.6 108.9,141.6 108.5,143.8 104.9,147.4 101.4,146.5 98.2,144.7 93.7,147.4 94.7,151.4 93.7,155.4 88.4,159.0 82.6,157.7 76.9,157.8 71.4,159.5 67.5,160.8 63.4,161.2 60.3,158.6 53.6,159.9 49.1,160.8 43.7,157.2 44.6,154.1 46.0,149.6 46.9,144.3 42.0,146.8 36.6,147.4 37.1,154.1 38.4,159.5 35.7,162.6 29.0,163.0 25.3,164.3 21.4,165.3 17.9,169.7 13.4,172.9 7.6,174.6 6.7,178.2 3.0,179.1 0.0,181.3 0.0,181.3M1607.0,181.3 1602.9,181.4 1599.0,180.5 1599.9,184.9 1593.6,184.0 1589.4,184.0 1585.6,185.8 1586.9,188.5 1591.6,191.5 1597.2,192.1 1601.6,196.5 1601.6,201.0 1600.2,204.5 1599.0,208.1 1595.4,209.1 1591.8,208.9 1588.2,208.3 1584.7,207.7 1578.1,205.6 1571.3,206.8 1565.9,209.9 1567.3,214.3 1567.7,218.9 1566.5,224.1 1564.6,229.1 1566.7,232.6 1566.8,236.7 1570.9,236.6 1574.6,238.5 1578.4,239.4 1582.0,241.2 1587.4,238.1 1592.7,237.8 1598.1,237.6 1601.0,235.6 1603.9,233.6 1607.0,229.8M0.0,229.8 0.9,228.7 0.0,227.1M1607.0,227.1 1606.1,225.6 1607.0,224.4M0.0,224.4 3.6,219.8 9.8,217.5 14.3,214.8 13.4,212.2 15.6,208.6 21.4,208.1 26.8,209.5 29.8,207.2 33.5,206.4 39.3,203.7 43.7,205.0 46.0,207.7 49.1,212.2 54.5,215.3 58.0,217.5 63.8,220.2 68.3,222.9 71.4,225.6 70.5,228.7 70.1,232.5 73.7,230.5 76.3,227.8 74.1,224.2 75.9,221.1 81.2,224.2 82.6,222.9 80.4,220.7 76.5,219.3 72.8,217.5 71.4,215.3 67.8,215.0 64.7,213.1 60.7,207.7 55.4,204.1 55.4,199.7 60.7,197.9 61.2,201.4 63.8,199.7 67.0,203.2 70.9,204.6 73.7,207.7 78.3,209.5 82.6,212.2 87.0,215.3 86.6,221.1 91.5,225.6 94.6,230.9 96.4,236.7 99.1,238.5 103.1,239.0 102.7,234.5 107.1,233.6 107.1,232.3 104.0,228.7 101.3,225.6 101.8,221.1 106.2,222.4 109.4,219.3 116.1,220.2 118.3,220.7 122.8,218.9 129.5,218.0 125.4,216.2 123.6,212.2 125.0,209.9 128.1,204.6 132.6,199.7 134.7,196.6 137.5,194.3 142.8,194.7 149.5,196.1 146.0,198.8 150.4,203.7 156.2,201.9 162.9,200.1 158.5,199.7 156.2,195.6 161.9,194.1 167.4,192.1 174.1,191.2 171.9,196.5 167.4,201.0 171.9,203.7 175.2,205.7 178.6,207.7 181.6,210.4 185.3,212.2 185.7,216.2 182.0,217.2 178.6,218.9 171.9,218.9 167.5,217.7 162.9,217.5 159.9,215.3 156.2,214.4 149.5,214.4 145.2,216.4 140.6,218.0 135.1,218.7 129.5,218.4 129.5,221.1 122.8,221.5 117.0,223.3 120.5,225.6 118.3,230.0 121.9,234.5 125.0,238.1 128.1,240.0 131.7,240.3 136.6,237.6 142.8,239.0 147.3,240.3 150.5,238.6 154.0,238.1 157.8,238.7 161.6,238.5 160.3,243.4 159.1,246.9 158.5,250.6 155.8,256.8 152.7,262.2 148.5,263.4 144.2,262.6 145.5,268.4M209.8,198.8 214.7,197.3 218.7,194.3 223.3,194.5 227.7,193.0 232.1,193.9 236.6,194.3 236.6,201.0 232.0,201.6 227.7,203.2 224.5,205.5 229.9,209.9 235.7,212.2 234.4,216.6 240.2,218.9 237.8,221.9 236.6,225.6 240.2,230.0 240.2,236.7 236.3,238.2 232.1,238.1 228.8,236.9 225.4,235.8 222.1,234.5 218.7,233.2 218.7,227.8 221.0,222.0 219.3,218.3 216.5,215.3 212.0,209.9 211.4,206.4 209.8,203.2 209.8,198.8M261.1,194.3 267.8,194.3 270.8,197.1 274.5,198.8 273.3,202.1 272.3,205.5 268.7,205.9 265.6,207.7 260.2,203.2 261.1,198.8 261.1,194.3M328.1,198.8 331.7,196.6 334.8,193.9 339.2,193.0 343.7,193.4 348.2,192.5 352.6,193.9 350.4,195.6 344.9,197.2 339.3,196.5 336.0,197.9 332.6,198.8 328.1,198.8M463.4,172.0 466.9,170.1 470.9,169.7 475.9,167.8 479.9,164.4 484.5,160.5 488.8,156.3 490.1,153.2 487.1,155.7 484.3,158.6 479.6,161.6 475.4,165.3 470.7,167.5 466.5,170.6 463.4,172.0M1582.4,178.2 1591.4,177.3 1602.5,175.5 1607.0,174.8M0.0,174.8 5.8,173.8 4.5,170.6 7.6,166.6 1.3,165.3 0.0,162.6 0.0,162.6M1607.0,162.6 1605.7,158.6 1600.3,155.4 1598.1,151.9 1592.7,151.9 1597.2,148.3 1598.1,144.3 1593.6,144.5 1589.1,144.7 1592.7,140.7 1588.6,141.5 1584.7,140.3 1581.1,145.2 1582.4,151.0 1583.3,154.1 1585.6,157.2 1591.4,156.8 1593.6,160.8 1593.6,163.9 1586.9,163.9 1587.8,167.5 1583.8,170.6 1588.1,172.2 1592.7,172.4 1588.3,173.8 1585.1,175.6 1582.4,178.2M1580.2,168.8 1579.3,163.9 1582.0,158.6 1578.0,155.4 1574.2,155.7 1570.4,155.9 1569.1,159.5 1562.4,159.9 1564.6,164.4 1561.5,169.7 1564.6,172.0 1571.3,170.6 1575.8,169.8 1580.2,168.8M1506.6,117.0 1512.1,118.2 1517.7,118.4 1522.2,117.6 1526.6,118.8 1530.1,118.0 1533.6,117.6 1536.8,116.2 1540.0,114.8 1545.8,111.7 1543.0,109.3 1540.9,106.3 1537.0,106.7 1533.3,105.4 1529.0,106.9 1524.4,107.2 1519.9,107.3 1515.5,108.5 1511.9,107.7 1508.8,105.9 1502.1,107.2 1499.9,109.4 1504.2,110.7 1508.8,110.8 1504.1,110.6 1499.9,112.6 1504.3,113.7 1508.8,114.8 1506.6,117.0M49.1,49.1 52.9,50.9 55.4,54.2 59.4,55.3 62.5,58.1 69.1,59.7 75.9,59.4 80.5,56.8 84.8,53.6 91.6,53.4 98.2,52.3 94.7,52.6 91.2,52.2 88.1,50.4 84.8,49.1 88.1,47.7 91.1,45.7 94.7,45.5 98.2,44.7 102.6,43.4 107.1,43.1 111.6,43.5 116.1,43.8 109.4,42.6 102.8,41.2 96.0,41.7 89.3,42.0 85.1,44.1 80.5,44.5 75.9,43.9 71.4,45.1 65.9,46.8 60.2,46.7 54.3,46.6 49.1,49.1M229.9,84.0 234.4,80.4 238.2,78.9 241.0,75.9 244.8,71.9 250.0,70.1 253.3,68.8 256.6,67.3 260.3,66.8 263.4,64.8 268.0,63.7 272.6,64.5 277.2,63.5 281.2,61.2 285.9,61.6 290.5,62.0 295.1,61.1 299.1,58.5 303.5,58.4 308.0,58.5 303.5,61.2 299.0,62.2 294.8,64.1 290.3,65.0 285.7,64.8 281.6,65.5 278.1,67.7 274.1,68.1 270.1,68.3 263.9,69.7 258.9,73.7 256.0,76.9 252.2,79.1 256.7,84.0 254.4,86.7 248.9,86.2 243.3,86.2 238.7,86.4 234.4,84.9 229.9,84.0M209.8,42.4 215.5,41.1 221.2,40.8 226.9,42.2 232.1,44.7 237.9,43.9 243.1,41.1 249.1,40.8 254.4,43.3 260.1,43.6 265.6,42.4 271.3,42.9 276.8,41.5 272.2,41.9 267.8,40.4 263.5,38.7 258.9,38.9 252.1,39.1 245.6,40.9 238.9,39.1 232.1,40.2 226.8,42.4 221.2,43.4 215.5,43.3 209.8,42.4M424.1,49.1 429.9,48.8 435.4,50.7 440.6,53.1 446.4,53.6 452.2,54.1 457.7,55.8 463.6,55.3 468.7,52.3 464.4,49.4 459.8,46.9 455.1,46.7 450.7,45.3 446.1,44.4 441.9,42.4 435.2,41.6 428.5,40.2 425.3,41.7 422.1,43.2 418.7,44.5 415.1,44.7 420.1,45.9 424.1,49.1M611.6,67.0 617.0,69.0 622.9,68.5 628.3,70.1 633.9,71.5 638.6,71.9 643.3,71.4 647.0,68.2 651.7,67.0 656.2,68.2 660.7,68.3 665.1,67.1 669.6,66.1 665.4,63.6 660.7,62.5 654.0,61.2 647.3,61.6 640.5,61.6 633.9,62.5 628.0,63.1 622.2,62.4 617.4,65.9 611.6,67.0M796.8,84.9 802.3,86.6 808.0,85.8 814.7,84.0 808.0,82.2 803.5,83.3 799.0,82.6 796.8,84.9M633.9,196.5 637.2,194.7 640.6,193.0 639.1,188.1 638.3,183.1 645.0,182.2 641.9,178.5 639.7,174.2 639.2,167.5 638.6,163.3 637.0,159.5 633.9,163.0 632.3,167.4 633.0,172.0 634.6,177.4 634.8,183.1 633.9,189.8 633.9,196.5M624.9,216.6 629.4,212.2 633.8,213.6 638.3,214.4 643.6,210.9 649.5,208.6 647.3,204.6 643.7,203.6 640.7,201.5 637.1,200.6 633.9,198.8 633.0,203.3 631.6,207.7 626.3,209.0 626.3,213.0 624.9,216.6M631.6,217.5 631.9,221.8 633.9,225.6 631.6,228.9 629.4,232.3 629.4,239.0 626.3,244.8 620.5,245.7 616.1,247.2 611.6,247.5 609.3,252.4 602.6,251.5 602.6,247.5 598.0,247.2 593.7,248.8 589.1,248.3 584.8,250.1 584.3,247.9 587.8,245.6 591.5,243.4 598.2,243.0 602.5,241.7 607.1,242.1 608.8,238.4 611.6,235.4 618.2,235.4 622.7,230.0 623.1,226.4 624.9,223.3 626.3,218.9 631.6,217.5M584.8,250.6 588.3,254.6 587.0,261.3 583.0,262.6 581.2,258.2 579.0,253.7 582.5,251.0 584.8,250.6M591.5,250.1 595.9,249.3 600.4,249.2 599.5,251.9 595.0,253.7 591.5,254.6 591.5,250.1M542.4,289.4 544.6,292.6 543.3,297.5 540.1,301.5 536.6,299.3 537.9,292.6 542.4,289.4M485.2,316.2 491.0,312.7 495.5,314.5 493.7,317.7 491.0,320.3 485.7,319.4 485.2,316.2M357.1,358.7 360.1,361.0 362.5,364.0 363.7,367.4 365.1,370.7 360.7,375.2 357.1,374.3 357.5,370.2 356.2,366.3 357.2,362.5 357.1,358.7M537.9,319.4 544.6,319.8 545.5,324.0 545.9,328.3 544.3,331.7 542.4,335.0 546.8,339.5 550.1,341.7 553.5,343.9 551.3,344.8 546.8,341.7 540.1,340.8 537.9,336.3 535.7,330.5 536.4,324.9 537.9,319.4M544.6,370.7 547.6,366.9 551.3,363.6 555.2,360.1 560.2,358.7 562.9,362.2 564.7,366.3 563.3,373.0 560.2,376.1 557.3,373.7 553.5,373.0 551.3,368.5 548.2,370.3 544.6,370.7M544.6,355.1 549.1,350.6 553.5,348.4 558.0,346.2 558.9,349.6 560.2,352.9 556.4,354.5 553.5,357.3 550.0,360.5 546.8,358.2 544.6,355.1M523.6,364.0 525.2,360.3 527.6,357.1 530.4,354.1 533.4,351.5 532.5,356.4 529.6,360.4 525.8,363.6 523.6,364.0M486.6,395.3 491.0,394.4 496.8,390.8 500.6,389.2 504.4,387.7 509.8,384.7 513.3,379.7 518.0,375.9 520.9,370.7 525.4,373.9 527.8,376.9 531.2,378.8 526.7,382.8 525.4,388.6 526.7,393.1 531.2,397.5 525.8,398.4 526.1,402.2 524.5,405.6 520.0,408.7 520.5,413.3 518.7,417.6 515.2,418.4 512.0,419.9 508.6,417.3 504.4,416.3 497.7,415.4 494.8,412.5 491.9,409.6 489.4,406.8 486.6,404.2 485.4,399.8 486.6,395.3M425.4,377.0 430.4,377.6 435.2,378.8 437.2,382.5 440.6,385.0 444.0,389.3 448.6,392.2 453.5,397.0 459.8,399.8 460.7,403.6 463.4,406.5 466.4,409.0 468.7,412.3 473.2,416.3 473.9,422.2 472.3,427.9 466.5,427.5 461.4,424.9 457.5,420.8 454.2,416.9 450.9,413.2 448.6,408.4 445.5,404.2 444.1,399.2 440.6,395.3 437.3,390.8 433.0,387.3 429.6,381.8 425.4,377.0M470.0,431.9 473.6,430.8 476.7,428.8 480.6,430.3 484.3,431.9 489.5,431.6 494.6,431.0 499.1,431.1 503.1,433.3 506.9,435.4 511.1,436.4 510.7,440.9 505.2,440.7 500.0,439.1 493.5,436.5 486.6,436.8 481.1,435.5 475.4,435.1 470.0,431.9M533.4,426.6 534.7,420.8 537.0,415.4 533.2,411.5 531.2,406.5 532.9,402.2 535.7,398.4 540.2,398.3 544.6,397.5 550.2,397.4 555.8,396.2 558.0,394.9 555.2,398.2 551.3,400.2 545.3,401.6 539.2,400.2 540.1,406.5 544.6,406.1 549.1,405.6 544.6,410.9 546.2,415.5 548.2,419.9 543.7,422.1 541.7,418.4 540.1,414.5 539.7,420.7 537.5,426.6 533.4,426.6M551.3,448.0 554.8,445.3 558.0,442.2 562.1,439.7 566.9,439.5 562.4,443.5 558.2,446.0 553.5,447.6 551.3,448.0M515.6,439.1 522.3,439.1 526.7,439.4 531.2,440.0 535.7,441.0 540.1,440.0 544.2,439.8 548.2,439.1 544.6,441.8 539.0,440.9 533.4,442.2 527.9,442.3 522.3,442.2 518.7,441.1 515.6,439.1M569.1,394.0 573.6,397.5 572.9,401.0 571.4,404.2 570.0,399.8 569.1,394.0M571.4,415.4 577.0,416.7 582.5,415.4 583.9,418.1 578.8,417.3 573.6,417.6 571.4,415.4M584.8,405.6 591.5,403.8 598.2,405.6 601.0,410.9 602.6,416.7 606.3,412.3 611.6,410.0 616.0,410.5 620.5,410.9 624.8,412.7 629.4,413.6 633.0,414.3 636.2,416.0 639.7,417.0 642.8,419.0 647.2,421.1 650.8,424.3 655.1,427.0 659.8,428.8 656.2,432.4 658.7,436.9 662.9,440.0 668.0,443.8 671.8,448.9 666.1,449.6 660.7,447.6 655.9,444.1 651.7,440.0 647.2,438.4 642.8,436.4 640.3,439.1 638.3,442.2 633.9,443.3 629.4,443.1 625.4,439.7 620.5,437.7 616.0,439.1 617.5,435.9 618.2,432.4 616.0,429.5 613.8,426.6 609.0,425.0 604.9,422.1 599.5,419.6 593.7,419.9 592.8,414.5 598.2,411.8 593.7,412.3 589.2,411.8 587.5,408.3 584.8,405.6M662.9,427.5 666.4,426.4 669.6,424.3 673.9,422.1 678.5,420.8 679.9,424.3 675.2,426.1 671.8,429.7 667.3,428.6 662.9,427.5M691.9,428.8 696.9,431.4 700.8,435.5 706.7,436.5 712.0,439.1 715.5,442.3 718.7,445.8 714.2,444.4 708.9,441.3 703.1,439.1 700.3,436.3 698.7,432.6 695.2,430.9 691.9,428.8M743.7,469.0 746.8,472.6 748.6,475.7 746.4,474.8 743.7,469.0M732.1,492.2 735.7,493.5 738.8,495.8 741.4,499.5 745.5,501.6 741.0,501.2 737.2,499.1 734.3,495.8 732.1,492.2M791.4,480.2 797.3,479.7 797.3,483.3 791.9,482.8 791.4,480.2M506.7,500.3 509.8,499.4 513.3,496.2 517.8,494.9 522.0,492.8 526.7,492.7 533.4,491.3 537.8,488.9 542.4,486.9 544.8,483.9 545.9,480.2 551.3,479.3 554.1,476.8 555.8,473.5 559.6,469.4 562.4,464.5 569.1,464.5 573.6,469.0 579.0,468.6 582.1,463.7 582.5,457.8 586.5,455.9 589.2,452.5 593.7,454.3 598.3,455.0 602.6,456.5 606.6,455.4 610.7,455.6 608.1,458.5 607.1,462.3 605.5,465.5 604.9,469.0 608.7,470.4 611.6,473.5 615.7,477.2 620.5,480.2 627.2,480.2 629.1,474.4 631.6,469.0 631.8,464.5 632.5,460.1 633.9,455.0 636.1,450.2 639.0,453.7 640.6,457.8 641.6,461.9 640.6,465.9 644.8,467.0 648.6,469.0 650.6,474.5 651.7,480.2 652.1,483.8 654.0,486.9 658.9,488.7 662.9,492.2 664.1,496.8 667.4,500.3 670.8,503.2 673.2,507.0 677.2,510.0 680.7,513.7 681.6,518.4 683.9,522.6 683.8,527.2 685.2,531.5 683.8,537.2 682.1,542.7 680.2,547.8 676.3,551.6 674.1,556.1 671.8,560.6 671.0,564.7 669.6,568.6 664.8,569.0 660.7,571.3 657.3,574.3 653.1,576.2 649.6,574.6 646.4,572.6 640.6,575.3 635.4,572.4 629.4,571.7 625.0,568.1 622.7,562.8 617.4,558.3 615.8,553.9 614.7,549.4 612.9,556.1 607.1,557.4 604.9,553.0 601.9,550.2 598.2,548.5 593.0,544.8 587.0,542.7 581.5,544.3 575.8,543.1 572.5,544.3 569.5,546.1 565.9,546.3 562.4,545.8 558.4,548.6 553.5,549.4 551.3,553.4 547.3,553.0 543.5,551.7 539.8,553.6 535.7,553.4 531.5,556.4 526.7,558.3 522.3,557.3 517.8,557.4 513.3,555.2 516.0,550.4 516.5,544.9 514.5,540.6 513.3,536.0 510.5,530.7 508.9,524.8 507.9,521.1 505.3,518.1 508.9,515.9 508.0,512.5 506.7,509.2 506.1,504.7 506.7,500.3M645.9,584.2 649.9,585.4 654.0,585.6 657.9,585.7 661.5,584.2 661.5,590.5 657.5,595.4 651.7,596.3 648.2,590.9 647.3,587.5 645.9,584.2M770.9,555.7 773.9,558.9 778.1,560.6 781.3,562.4 783.4,565.5 787.9,570.4 791.9,569.8 795.9,570.4 794.8,573.8 793.7,577.1 790.1,578.4 787.4,582.0 786.5,586.5 780.3,586.5 781.2,580.7 775.8,577.5 778.5,575.1 779.8,571.7 778.9,565.9 775.8,562.7 773.1,559.2 770.9,555.7M770.9,582.9 774.6,585.1 777.6,588.3 774.6,592.4 771.4,596.3 767.8,598.1 764.2,599.9 762.4,603.0 762.0,606.6 758.5,609.0 754.4,610.1 747.7,608.4 743.2,606.6 747.9,603.2 751.3,598.5 756.5,596.5 761.1,593.2 764.4,591.0 766.9,587.8 770.9,582.9M857.1,109.0 861.7,108.4 866.3,108.2 870.7,106.8 874.9,105.0 879.4,104.3 883.9,103.2 880.4,102.1 877.2,100.5 871.4,98.8 866.0,96.0 869.2,94.5 872.5,93.3 876.0,92.7 879.4,91.6 884.0,90.6 888.7,90.0 892.9,87.7 897.2,85.8 902.6,83.4 908.4,83.5 913.5,82.0 918.6,83.1 923.5,84.7 928.5,85.8 932.9,86.9 937.3,88.1 941.8,87.4 946.3,88.0 952.0,88.4 957.6,87.2 963.0,89.1 968.7,89.3 975.6,88.7 982.1,91.1 986.7,90.6 991.3,90.3 995.9,91.3 999.9,93.8 1006.6,92.9 1013.3,91.6 1017.7,90.5 1022.1,89.6 1026.6,88.6 1031.2,89.3 1035.8,89.8 1040.1,88.0 1043.6,89.1 1046.4,91.3 1049.9,91.5 1053.5,92.0 1060.3,93.0 1066.9,90.7 1071.5,90.1 1076.0,91.4 1080.4,92.7 1084.7,94.2 1088.2,94.3 1091.8,94.4 1095.3,95.1 1098.1,97.4 1093.7,99.2 1099.3,98.3 1104.8,96.6 1110.6,96.4 1116.0,98.7 1120.4,97.1 1124.9,95.6 1131.6,96.5 1138.3,96.0 1145.0,97.4 1151.7,99.2 1156.2,99.1 1160.6,97.9 1165.0,99.2 1169.5,99.2 1174.0,96.0 1177.4,97.0 1180.7,98.3 1179.8,94.8 1178.5,91.6 1183.4,86.8 1187.4,81.3 1191.5,84.8 1196.3,87.1 1200.2,91.3 1205.2,93.8 1209.6,95.3 1214.2,96.0 1219.1,97.4 1223.1,100.5 1228.0,99.1 1232.8,97.6 1236.2,93.6 1241.0,91.6 1245.4,96.0 1243.6,99.6 1241.0,102.7 1234.2,104.1 1227.6,105.9 1223.3,108.4 1218.6,110.3 1216.1,113.0 1214.2,116.1 1207.6,117.9 1200.8,117.5 1196.8,121.4 1191.9,124.2 1189.0,128.4 1185.2,131.8 1185.8,135.6 1185.2,139.4 1188.8,144.3 1194.1,147.4 1199.7,147.6 1205.2,147.4 1209.8,148.3 1214.4,149.3 1218.9,150.7 1223.1,152.8 1226.9,154.1 1231.0,153.7 1235.0,153.8 1238.7,155.4 1238.6,160.6 1241.0,165.3 1244.3,168.6 1247.7,172.0 1254.4,172.0 1253.6,166.4 1254.4,160.8 1257.5,158.9 1259.7,155.9 1262.3,153.2 1263.3,149.6 1260.3,144.5 1256.6,139.8 1259.6,137.5 1261.0,134.0 1258.9,129.1 1258.8,123.7 1263.3,124.2 1267.7,123.6 1272.2,124.4 1276.7,123.7 1281.2,125.2 1285.1,128.1 1289.6,130.0 1294.5,129.5 1294.9,134.2 1296.8,138.5 1302.0,141.2 1307.9,141.6 1311.5,136.7 1316.8,134.0 1321.1,137.1 1325.4,140.3 1328.0,145.1 1332.5,148.3 1335.3,150.4 1338.8,151.2 1341.7,153.4 1343.6,156.3 1347.1,158.6 1351.0,159.7 1353.4,163.2 1357.0,165.3 1358.4,172.0 1353.0,171.8 1348.1,174.2 1343.6,175.8 1339.2,177.8 1334.5,177.7 1330.3,175.6 1325.9,176.8 1321.3,177.3 1317.9,178.1 1314.7,179.8 1311.5,181.2 1307.9,181.3 1302.9,183.6 1299.0,187.6 1302.6,187.1 1305.6,185.2 1308.9,183.8 1312.4,183.1 1319.1,183.1 1314.6,188.5 1317.3,191.6 1319.1,195.2 1324.5,196.9 1330.2,197.0 1334.8,197.8 1339.2,196.5 1334.7,199.7 1331.3,200.7 1328.4,202.8 1324.9,203.7 1321.3,203.2 1316.8,204.8 1312.4,206.8 1312.4,202.3 1315.8,201.0 1319.1,199.2 1313.6,200.9 1307.9,201.0 1303.6,203.5 1299.0,205.5 1295.9,207.7 1292.3,208.6 1291.0,214.4 1294.5,215.7 1287.8,217.5 1282.5,219.9 1276.7,220.7 1275.8,225.6 1273.2,228.2 1270.0,230.0 1268.7,233.3 1267.7,236.7 1269.1,243.4 1266.0,245.4 1263.3,247.9 1259.2,250.8 1254.4,252.4 1250.7,256.9 1245.4,259.1 1244.6,262.5 1243.2,265.8 1244.9,271.6 1247.7,276.9 1249.5,281.2 1249.9,285.9 1247.7,289.4 1243.2,286.8 1239.9,282.6 1237.4,277.8 1237.8,272.5 1234.6,270.7 1232.0,268.0 1225.3,269.3 1220.0,267.1 1214.2,266.7 1207.5,267.1 1208.8,272.0 1204.8,271.5 1200.8,271.1 1193.9,272.0 1187.4,269.8 1182.4,273.8 1176.2,275.6 1172.7,281.4 1172.5,285.9 1171.8,290.3 1171.0,295.9 1170.4,301.5 1171.9,306.1 1174.0,310.4 1176.9,313.3 1178.5,317.1 1182.1,318.3 1185.2,320.7 1190.8,320.4 1196.3,318.9 1199.1,316.8 1202.1,314.9 1203.5,308.2 1208.7,306.5 1214.2,306.0 1218.6,306.9 1217.9,311.0 1216.4,314.9 1214.2,319.4 1212.0,323.6 1211.9,328.3 1211.1,331.4 1217.1,330.6 1223.1,331.0 1227.5,332.0 1232.0,332.8 1235.2,335.9 1235.1,341.1 1234.3,346.2 1233.4,352.9 1235.5,355.7 1237.4,358.7 1241.0,361.8 1246.3,362.7 1252.1,359.6 1258.8,360.5 1261.9,364.0 1259.3,369.8 1257.5,365.4 1252.1,362.2 1248.5,365.4 1249.9,368.9 1245.4,369.4 1241.0,365.4 1236.5,364.9 1233.4,362.7 1228.5,358.2 1224.0,356.4 1224.0,352.0 1221.9,348.3 1218.6,345.7 1215.1,343.0 1211.4,341.4 1207.5,341.7 1202.9,340.9 1198.6,339.5 1193.5,336.4 1189.6,331.9 1185.2,329.6 1181.7,330.4 1178.5,331.9 1173.8,331.2 1169.5,329.2 1164.7,328.8 1160.6,326.1 1156.6,322.9 1151.7,321.6 1147.1,319.5 1142.8,317.1 1139.9,313.7 1136.1,311.3 1137.0,305.1 1134.1,301.2 1131.6,297.0 1128.9,293.0 1124.9,290.3 1121.5,287.1 1118.2,283.6 1113.7,279.2 1109.8,276.4 1107.0,272.5 1103.7,268.6 1102.6,263.5 1098.6,261.9 1094.5,260.4 1094.5,264.2 1095.0,268.0 1097.1,271.5 1100.3,273.8 1103.8,277.0 1105.7,281.4 1108.4,285.4 1111.5,289.0 1114.6,294.8 1118.2,298.4 1115.1,299.3 1110.8,295.7 1107.0,291.7 1105.7,285.9 1101.5,283.2 1097.2,280.5 1095.9,274.7 1092.4,271.9 1090.1,268.0 1086.8,262.7 1084.7,256.8 1081.4,253.4 1078.0,250.1 1073.6,248.0 1068.7,247.9 1064.5,243.4 1062.4,237.6 1060.2,233.2 1056.8,228.3 1053.5,223.3 1053.7,218.8 1052.6,214.4 1054.4,208.9 1053.5,203.2 1052.8,199.2 1053.5,195.2 1051.0,190.8 1050.4,185.8 1055.1,187.8 1060.2,187.6 1058.8,183.1 1054.5,179.7 1049.0,178.7 1043.4,176.5 1037.9,174.2 1036.0,171.1 1035.6,167.5 1031.9,163.2 1026.7,160.8 1024.3,157.6 1022.2,154.1 1019.5,150.5 1015.5,148.3 1012.4,145.0 1008.8,142.0 1003.4,140.4 997.7,140.7 994.1,140.2 991.0,138.5 986.8,136.2 982.1,135.3 977.5,135.3 973.1,134.0 966.4,133.7 959.7,132.7 953.2,130.3 946.3,130.4 942.0,128.8 937.4,128.6 934.3,130.8 930.7,131.8 930.7,137.1 926.3,137.8 921.8,137.1 919.6,142.9 914.1,145.5 908.4,147.4 903.9,149.6 899.5,151.9 894.0,154.0 888.3,155.4 884.1,157.4 879.4,157.7 875.4,158.4 871.4,158.1 877.9,156.4 883.9,153.2 888.7,152.3 892.8,149.6 896.6,145.9 901.7,144.3 903.9,139.4 897.2,140.3 891.0,139.8 884.7,139.8 883.9,134.9 878.5,132.6 872.7,131.8 868.7,129.9 866.0,126.4 868.7,123.9 870.5,120.6 875.8,118.4 881.6,118.4 885.1,116.5 888.3,114.3 883.9,114.0 879.4,113.9 875.5,113.4 871.6,112.9 867.7,112.1 863.8,113.0 860.2,111.3 857.1,109.0M1055.7,185.8 1049.0,184.0 1044.1,182.0 1040.1,178.7 1034.3,175.1 1039.5,175.4 1044.5,176.9 1047.9,179.1 1051.2,181.3 1055.7,185.8M1021.3,169.7 1018.2,167.3 1015.5,164.4 1013.3,160.4 1018.7,160.8 1020.0,166.2 1021.3,169.7M917.3,147.4 924.0,146.1 927.6,142.9 921.8,142.9 917.3,145.2 917.3,147.4M1342.3,189.4 1347.4,188.2 1352.6,189.4 1356.2,190.6 1359.3,193.0 1363.8,192.4 1368.2,193.4 1371.8,189.8 1368.2,185.4 1368.2,181.8 1364.0,179.7 1359.3,179.6 1357.0,175.1 1358.8,172.0 1352.6,174.2 1350.0,177.3 1348.1,180.9 1344.6,183.2 1342.3,186.7 1342.3,189.4M1319.1,179.1 1324.9,179.7 1330.2,182.2 1331.1,180.9 1326.4,179.1 1321.3,178.7 1319.1,179.1M1228.0,304.2 1231.8,300.9 1236.5,299.3 1241.0,299.1 1245.4,298.8 1249.8,300.5 1254.4,301.5 1259.0,303.4 1263.3,306.0 1267.4,308.6 1272.2,309.5 1275.8,311.8 1270.0,313.1 1265.5,313.0 1261.0,313.1 1258.8,309.5 1255.6,307.4 1252.1,305.5 1247.9,303.5 1243.2,303.3 1236.5,303.7 1232.3,304.8 1228.0,304.2M1274.9,319.8 1278.9,317.3 1281.1,313.1 1287.8,313.1 1291.5,314.7 1295.4,315.8 1301.7,318.9 1299.0,320.3 1292.3,320.3 1286.9,322.5 1281.1,320.7 1274.9,319.8M1257.5,320.3 1263.3,319.4 1266.9,321.6 1262.4,322.5 1257.5,320.3M1307.0,319.8 1313.7,319.8 1313.3,321.6 1307.0,321.6 1307.0,319.8M1258.8,283.6 1262.4,283.2 1262.4,285.9 1258.8,283.6M1257.9,291.2 1260.2,293.9 1259.7,290.3 1257.9,291.2M1331.1,354.2 1335.1,353.8 1334.7,356.9 1331.1,356.9 1331.1,354.2M910.6,317.1 915.1,314.9 914.2,311.8 910.6,312.7 910.6,317.1M907.5,308.6 910.6,309.1 909.3,310.0 907.5,308.6M900.8,306.0 903.0,306.4 901.7,306.9 900.8,306.0M894.1,303.3 895.9,303.3 895.0,304.2 894.1,303.3M1196.3,193.4 1200.7,191.4 1205.2,189.8 1208.9,188.6 1211.9,186.3 1217.6,186.2 1223.1,187.6 1225.4,190.6 1228.9,192.1 1228.9,194.3 1223.8,194.1 1218.6,194.3 1214.1,194.0 1209.7,193.0 1203.0,192.3 1196.3,193.4M1215.1,214.4 1220.9,214.4 1221.2,209.9 1221.8,205.5 1224.0,201.0 1227.6,197.4 1228.9,197.4 1223.1,199.7 1218.6,197.4 1214.2,201.9 1214.4,205.6 1215.5,209.0 1215.1,214.4M1229.8,196.5 1235.4,195.2 1241.0,196.5 1245.1,199.5 1249.9,201.0 1249.9,203.2 1246.4,206.4 1242.3,208.6 1238.7,209.9 1234.3,205.5 1235.2,200.1 1229.8,196.5M1234.3,215.7 1241.0,216.6 1245.5,215.4 1249.9,213.5 1254.8,210.8 1251.1,210.4 1247.7,211.7 1243.1,212.9 1238.7,214.4 1234.3,215.7M1250.8,208.6 1257.0,209.1 1263.3,208.6 1266.9,207.3 1265.5,204.6 1258.8,205.9 1254.9,207.6 1250.8,208.6M1167.3,176.4 1174.0,176.4 1174.3,172.8 1176.2,169.7 1171.9,166.5 1169.5,161.7 1165.1,164.4 1167.9,167.1 1169.5,170.6 1167.3,176.4M1057.9,110.8 1064.6,111.6 1071.3,111.7 1075.7,109.3 1080.3,107.2 1075.8,102.7 1071.3,103.8 1066.9,105.0 1059.9,104.7 1053.5,107.2 1057.9,110.8M1084.7,129.5 1089.2,128.7 1093.7,129.5 1098.9,126.5 1104.8,125.1 1111.7,123.8 1118.2,121.5 1111.5,121.0 1108.4,122.8 1105.1,124.0 1101.6,124.6 1098.1,123.7 1093.0,127.0 1087.0,127.3 1084.7,129.5M1249.9,72.8 1256.6,72.8 1263.3,73.7 1267.7,76.8 1272.4,77.4 1277.1,78.2 1280.9,81.2 1285.6,82.2 1289.8,84.4 1294.4,85.5 1299.1,86.1 1303.5,88.0 1305.6,91.0 1307.9,93.8 1313.5,96.8 1319.9,97.2 1325.9,99.4 1330.2,104.1 1325.6,106.5 1321.3,109.4 1319.1,113.9 1316.8,118.4 1310.4,121.2 1303.5,121.5 1307.5,124.3 1312.4,125.1 1306.7,124.8 1301.0,124.8 1295.4,123.4 1290.1,121.5 1285.7,120.9 1281.6,119.1 1277.4,117.3 1274.4,113.9 1270.4,114.2 1266.6,115.5 1262.5,115.7 1258.8,113.9 1261.0,109.4 1264.9,109.8 1268.9,110.0 1272.8,110.6 1276.7,109.4 1280.0,104.3 1281.1,98.3 1277.7,97.3 1274.8,95.1 1271.2,95.0 1267.7,93.8 1264.4,92.7 1260.9,91.9 1257.6,90.6 1254.4,89.3 1248.7,89.6 1243.2,90.7 1237.7,89.1 1232.0,89.3 1227.5,90.7 1222.8,90.5 1218.3,89.2 1214.2,87.1 1210.0,83.4 1205.2,80.4 1207.6,77.1 1209.7,73.7 1214.1,72.6 1218.6,72.3 1223.1,71.3 1227.6,72.4 1233.0,74.0 1238.7,73.4 1244.3,73.9 1249.9,72.8M1084.7,89.3 1089.4,89.7 1093.5,92.1 1098.1,92.1 1102.6,92.9 1108.4,92.7 1114.0,90.9 1119.2,93.4 1124.9,94.7 1129.3,96.2 1133.9,96.1 1138.4,95.6 1142.8,94.2 1146.2,93.2 1149.7,93.1 1153.0,91.7 1156.1,90.2 1152.7,89.1 1149.4,87.7 1146.3,85.8 1142.8,84.9 1141.0,80.6 1138.3,76.8 1131.6,76.1 1124.9,75.0 1120.5,76.2 1116.1,77.4 1111.6,77.9 1107.0,77.3 1100.1,77.3 1093.7,74.6 1087.2,77.3 1080.3,78.2 1084.7,83.5 1084.7,89.3M1049.0,81.7 1053.6,82.3 1057.8,84.0 1062.4,83.8 1066.9,84.9 1070.7,84.5 1074.4,83.1 1077.9,81.3 1080.3,78.2 1084.5,75.7 1089.2,74.6 1084.7,70.6 1080.5,68.8 1075.9,68.1 1071.4,69.1 1066.9,69.2 1062.8,70.0 1059.3,72.3 1055.3,72.3 1051.2,71.5 1049.0,76.8 1049.0,81.7M1205.2,61.2 1210.9,60.8 1216.4,59.7 1222.2,59.2 1227.6,61.2 1232.8,63.7 1238.7,63.8 1244.1,61.7 1249.9,61.6 1253.0,59.3 1256.8,58.7 1259.7,56.2 1263.3,54.9 1267.0,54.6 1270.3,52.7 1273.3,50.7 1276.7,49.1 1283.3,47.0 1290.3,47.4 1293.7,46.1 1296.4,43.7 1300.0,44.3 1303.5,43.3 1308.2,42.0 1313.1,42.9 1317.4,40.8 1321.3,38.0 1325.7,35.7 1330.2,33.5 1326.2,31.1 1321.6,30.7 1316.9,30.9 1312.6,29.2 1308.0,30.0 1303.4,29.3 1299.2,31.2 1294.5,31.3 1289.9,31.3 1285.7,29.2 1281.2,28.5 1276.7,29.4 1272.1,30.2 1268.0,32.4 1263.4,31.5 1258.8,31.3 1253.9,29.6 1248.7,29.7 1243.6,29.0 1238.4,29.1 1233.8,31.3 1228.7,32.4 1223.9,34.5 1218.6,34.4 1214.0,34.7 1209.8,36.5 1205.2,36.5 1200.8,38.0 1203.6,40.5 1207.1,41.7 1210.9,41.9 1214.2,43.8 1220.8,45.6 1227.6,46.9 1223.4,50.2 1218.6,52.7 1214.2,57.2 1210.0,59.9 1205.2,61.2M1196.3,68.3 1200.7,66.5 1205.3,66.9 1209.9,67.5 1214.2,69.2 1218.7,70.1 1223.2,69.3 1227.6,70.6 1232.1,71.4 1236.6,70.1 1241.1,71.1 1245.5,69.7 1249.9,68.8 1249.9,64.8 1244.3,65.7 1238.6,65.8 1233.0,65.1 1227.6,63.4 1221.9,62.4 1216.4,64.0 1210.8,63.3 1205.2,62.5 1200.8,63.8 1196.3,64.8 1196.3,68.3M1178.5,46.9 1183.0,48.2 1187.5,49.3 1192.1,50.1 1196.3,52.3 1200.7,53.5 1205.3,53.1 1209.6,51.3 1214.2,51.4 1218.6,46.0 1214.2,44.1 1209.5,43.8 1204.8,42.8 1200.8,40.2 1196.3,41.2 1191.8,39.9 1187.5,41.4 1182.9,41.5 1178.5,46.9M1084.7,66.1 1090.2,67.6 1095.7,69.2 1101.4,70.1 1107.0,69.2 1112.9,69.1 1118.5,70.9 1123.9,68.9 1129.4,67.0 1133.8,62.5 1129.3,63.7 1124.7,64.2 1120.6,61.9 1116.0,61.2 1109.3,62.2 1102.6,61.5 1095.9,60.0 1089.2,61.6 1084.7,66.1M1180.7,79.5 1186.3,79.3 1191.9,80.4 1194.7,78.1 1198.2,77.2 1201.8,76.8 1205.2,75.9 1200.8,71.5 1196.2,72.0 1191.9,70.5 1187.3,70.3 1182.9,71.5 1181.8,75.5 1180.7,79.5M1151.7,82.6 1156.2,82.9 1160.6,83.5 1165.0,82.8 1169.5,82.6 1172.3,79.6 1174.0,75.9 1167.4,73.7 1160.6,72.4 1156.3,74.5 1151.7,75.9 1151.7,82.6M1218.6,118.4 1222.0,119.8 1224.9,122.0 1228.4,123.1 1232.0,122.8 1235.7,120.9 1239.4,118.9 1243.5,118.4 1247.7,118.4 1243.2,113.9 1238.1,110.5 1232.0,109.4 1227.4,109.9 1223.1,108.1 1221.7,113.6 1218.6,118.4M1142.8,66.1 1149.4,67.8 1156.1,69.2 1162.9,69.0 1169.5,67.0 1174.0,62.5 1167.1,61.9 1160.6,59.4 1156.1,59.4 1151.7,60.5 1147.2,60.5 1142.8,61.2 1142.8,66.1M1406.1,134.4 1410.5,133.4 1415.1,133.1 1416.9,128.9 1419.5,125.1 1422.1,120.0 1426.2,116.1 1432.4,113.8 1437.4,109.4 1440.8,108.1 1444.5,107.7 1447.8,106.2 1451.2,105.0 1454.1,102.6 1457.0,100.3 1460.6,99.5 1464.2,98.3 1469.8,97.5 1475.5,98.6 1480.9,97.0 1486.5,96.0 1490.6,92.3 1495.9,91.0 1501.2,89.9 1506.6,89.3 1503.1,87.2 1499.9,84.9 1504.6,83.3 1508.8,80.4 1504.4,78.0 1499.9,75.9 1504.4,74.0 1508.1,70.8 1513.0,70.5 1517.7,69.2 1519.9,65.8 1522.2,62.5 1518.2,59.4 1513.3,58.1 1516.5,56.5 1519.6,54.9 1523.2,54.5 1526.6,53.6 1523.7,49.5 1522.2,44.7 1525.9,43.2 1529.8,42.0 1533.7,41.2 1537.5,39.7 1541.6,39.4 1545.3,37.3 1549.4,37.0 1553.4,38.0 1549.1,36.6 1544.6,36.0 1540.2,34.8 1535.7,35.0 1531.2,35.6 1526.7,35.8 1522.2,35.8 1517.7,35.7 1513.1,31.9 1507.3,30.7 1501.4,30.9 1496.0,28.4 1490.3,27.2 1484.5,26.3 1479.0,28.7 1473.1,29.0 1467.4,29.6 1462.1,31.8 1456.3,31.5 1450.9,33.7 1445.3,32.6 1439.7,31.6 1434.0,32.2 1428.4,30.4 1422.7,30.8 1417.1,31.7 1411.7,33.7 1406.4,35.9 1400.8,34.9 1395.1,35.2 1389.4,34.3 1383.8,33.5 1378.3,34.9 1373.0,37.1 1367.3,36.3 1361.6,37.5 1356.1,36.4 1350.5,35.3 1344.8,35.8 1339.2,35.7 1333.4,36.3 1328.2,39.0 1322.4,38.8 1316.8,40.2 1312.4,42.4 1307.9,44.7 1314.8,44.6 1321.3,46.9 1316.7,46.3 1312.3,47.9 1308.2,50.0 1303.7,50.7 1299.2,49.6 1294.6,49.4 1290.1,50.6 1285.6,51.4 1285.6,55.8 1290.2,57.2 1295.1,57.7 1299.1,60.4 1303.5,62.5 1307.8,64.1 1312.4,64.5 1317.1,64.9 1321.3,66.9 1326.1,66.5 1330.0,63.9 1334.5,62.9 1339.2,62.5 1343.4,65.3 1348.1,67.0 1351.9,69.4 1355.9,71.2 1359.4,74.1 1361.5,78.2 1361.5,82.9 1363.7,87.1 1367.9,87.2 1372.0,87.7 1375.4,90.2 1379.3,91.6 1374.0,95.3 1368.2,98.3 1368.2,103.0 1370.4,107.2 1373.1,112.2 1377.1,116.1 1379.2,119.5 1382.0,122.4 1385.0,125.1 1388.3,127.3 1392.8,128.9 1397.2,130.9 1401.9,132.0 1406.1,134.4M1261.9,364.0 1267.7,361.8 1268.1,358.2 1270.0,355.1 1274.4,352.9 1278.6,350.1 1283.4,348.4 1287.8,346.6 1286.5,352.9 1288.7,353.8 1288.9,357.3 1288.7,360.9 1290.1,355.1 1294.5,350.6 1294.5,347.5 1298.4,348.7 1301.2,351.5 1304.6,352.9 1307.9,354.7 1313.5,355.3 1319.1,356.4 1324.8,355.9 1330.2,354.2 1328.0,358.2 1334.7,359.6 1339.2,364.0 1342.8,367.1 1345.9,370.7 1349.5,372.6 1352.6,375.2 1357.0,374.6 1361.5,375.2 1365.8,376.9 1370.4,377.4 1373.3,380.4 1377.1,381.9 1379.3,387.5 1381.6,393.1 1383.2,396.3 1383.8,399.8 1379.3,402.0 1386.0,402.9 1389.2,404.8 1392.7,405.6 1397.2,406.2 1401.7,407.4 1406.6,410.0 1410.6,414.1 1416.3,413.4 1421.7,415.0 1427.1,417.5 1432.9,418.5 1436.9,421.9 1441.8,423.9 1445.6,425.0 1449.4,425.7 1450.6,430.6 1451.7,435.5 1450.4,439.9 1449.4,444.4 1446.3,449.4 1441.8,453.4 1437.7,455.9 1435.1,460.1 1434.4,464.6 1432.9,469.0 1432.1,474.6 1432.0,480.2 1429.9,484.4 1429.3,489.1 1425.9,493.1 1424.0,498.0 1421.8,501.4 1419.5,504.7 1415.1,505.7 1410.6,505.6 1405.0,507.7 1399.4,510.1 1395.7,515.0 1390.5,518.1 1389.3,522.5 1389.6,527.1 1386.5,532.9 1382.5,538.2 1377.5,541.3 1374.0,545.8 1371.6,550.2 1368.2,553.9 1365.0,556.1 1361.5,557.9 1356.9,557.6 1352.6,556.1 1346.3,553.9 1349.2,558.2 1351.7,562.8 1351.4,567.9 1349.4,572.6 1344.7,575.5 1339.2,575.8 1334.3,575.2 1329.3,575.8 1329.5,579.4 1328.9,582.9 1323.0,584.8 1316.8,585.1 1319.4,588.3 1321.3,591.8 1318.4,594.1 1315.5,596.3 1314.6,603.0 1310.2,605.4 1305.7,607.5 1308.8,611.1 1312.4,614.2 1308.7,617.9 1305.7,622.2 1302.5,625.1 1299.0,627.6 1299.2,631.8 1301.2,635.6 1296.6,635.7 1292.3,637.4 1296.8,641.0 1301.7,642.2 1305.7,645.4 1310.7,646.8 1316.0,646.3 1310.2,648.6 1304.5,647.6 1299.0,649.0 1293.8,645.3 1287.8,643.2 1283.0,641.8 1278.9,638.7 1276.1,634.8 1272.2,632.0 1271.5,626.4 1270.0,620.9 1268.7,616.0 1270.0,611.0 1272.3,606.2 1276.7,603.0 1280.2,597.9 1281.1,591.8 1279.8,588.4 1278.0,585.1 1277.9,580.6 1278.9,576.2 1278.6,571.6 1280.2,567.3 1281.0,562.5 1283.4,558.3 1284.8,552.4 1287.8,547.2 1288.6,541.6 1287.8,536.0 1288.6,531.4 1290.1,527.1 1290.0,520.2 1292.3,513.7 1294.4,507.1 1293.6,500.3 1294.5,496.4 1294.6,492.4 1294.0,488.5 1293.2,484.6 1290.0,482.4 1287.8,479.3 1283.8,476.1 1278.9,474.8 1274.6,471.7 1270.0,469.0 1266.4,463.6 1265.0,459.3 1262.4,455.6 1259.9,450.9 1256.6,446.7 1255.3,441.7 1252.1,437.7 1250.5,433.6 1247.7,430.1 1244.1,424.3 1245.4,419.9 1249.9,416.7 1246.8,412.3 1247.7,406.5 1249.4,403.3 1249.9,399.8 1254.4,395.3 1256.6,390.8 1261.0,386.4 1260.8,381.8 1261.9,377.4 1261.0,370.7 1259.3,369.8 1261.9,364.0M1334.7,632.0 1341.4,631.1 1345.1,632.3 1349.0,632.5 1343.6,635.6 1339.6,635.1 1335.6,634.3 1334.7,632.0M1300.8,636.9 1302.1,640.1 1310.2,645.0 1316.0,646.3M1437.4,643.2 1444.1,644.1 1447.2,646.8 1441.8,645.0 1437.4,643.2M307.1,620.9 313.8,621.3 312.5,623.5 308.0,623.5 307.1,620.9M1199.4,403.3 1201.7,404.7 1199.9,406.5 1199.4,403.3M246.9,495.4 249.1,496.2 247.7,497.1 246.9,495.4M256.2,491.3 258.0,492.2 256.7,493.6 256.2,491.3M237.9,345.7 243.3,346.2 240.2,347.1 237.9,345.7M144.2,245.7 149.5,244.3 154.5,243.0 151.8,245.7 147.3,247.5 144.2,245.7M104.9,243.4 111.6,243.9 117.4,244.8 111.6,245.7 104.9,244.8 104.9,243.4M55.8,232.3 59.4,232.2 62.8,233.2 66.1,231.6 69.6,231.4 68.4,234.7 67.4,238.1 61.4,236.8 55.8,234.1 55.8,232.3M36.6,218.9 43.3,218.9 43.1,222.9 42.9,226.9 37.9,227.8 36.2,223.5 36.6,218.9M38.8,212.2 42.0,209.9 42.4,216.6 39.3,216.6 38.8,212.2M10.7,225.6 14.3,223.8 14.3,226.0 10.7,225.6M1532.0,275.6 1534.7,274.7 1533.3,276.9 1532.0,275.6M1543.6,274.3 1546.3,272.5 1545.0,276.0 1543.6,274.3M1491.8,233.2 1494.5,233.2 1493.2,233.6 1491.8,233.2M1501.2,334.1 1502.5,335.0 1501.7,335.4 1501.2,334.1M1566.8,84.9 1571.3,84.4 1569.1,85.3 1566.8,84.9M1574.9,124.2 1578.0,124.2 1576.6,126.0 1574.9,124.2M1600.3,131.8 1602.5,132.2 1601.2,134.0 1600.3,131.8M81.2,146.5 84.8,143.4 83.9,146.1 81.2,146.5M137.5,134.0 141.3,133.5 145.1,133.1 146.4,129.5 142.2,128.9 138.4,126.9 133.9,129.5 137.5,134.0M154.0,129.5 160.7,129.5 160.7,125.1 156.2,122.8 154.0,126.0 154.0,129.5M215.6,93.8 221.0,94.7 222.3,92.5 217.8,91.6 215.6,93.8M854.8,163.9 861.5,162.6 863.8,160.8 860.4,161.9 857.1,163.0 854.8,163.9M828.1,169.3 837.0,168.4 830.3,169.7 828.1,169.3M813.3,171.1 819.1,170.2 816.9,171.5 813.3,171.1M770.0,165.7 774.5,166.2 772.3,165.3 770.0,165.7M840.1,118.8 846.4,119.3 852.6,119.7 853.5,118.8 849.7,118.1 845.9,117.5 840.1,118.8M860.2,134.0 866.0,134.9 867.3,132.7 862.4,132.7 860.2,134.0M651.7,203.2 655.4,202.3 658.4,200.1 662.9,198.8 659.9,201.2 656.2,201.9 651.7,203.2M669.6,196.5 673.2,195.3 676.3,193.0 678.5,191.2 675.2,193.0 671.8,194.7 669.6,196.5M687.4,183.1 690.9,180.6 694.1,177.8 696.4,176.0 691.0,180.5 687.4,183.1M680.7,189.8 684.3,186.7 682.1,188.9 680.7,189.8M570.0,285.4 572.7,282.3 570.9,284.5 570.0,285.4M413.8,350.6 415.1,342.6 414.7,348.4 413.8,350.6M470.9,409.6 475.4,413.2 473.2,415.4 470.9,409.6M673.2,414.1 678.5,416.7 683.0,422.1 680.7,419.9 677.2,416.6 673.2,414.1M690.6,426.6 695.5,431.0 693.2,431.5 690.6,426.6M836.1,462.3 839.2,463.6 837.0,463.6 836.1,462.3M939.2,480.2 941.0,481.1 939.6,481.5 939.2,480.2M817.8,597.6 820.5,598.5 818.7,599.0 817.8,597.6M747.7,611.0 750.8,611.9 748.6,613.3 747.7,611.0M609.8,561.5 615.1,561.9 612.4,562.8 609.8,561.5M581.6,452.5 587.0,452.9 583.9,454.7 581.6,452.5M1275.8,589.6 1278.9,590.9 1278.0,595.9 1275.3,594.1 1275.8,589.6M142.8,400.7 146.9,401.4 150.9,400.7 152.7,406.5 151.3,409.9 149.5,413.2 142.8,413.2 141.5,406.5 142.8,400.7M130.3,417.6 132.6,422.1 134.6,426.5 136.1,431.0 136.2,435.8 138.4,440.0 136.1,440.9 133.3,436.3 132.6,431.0 131.8,426.5 130.3,422.1 130.3,417.6M151.8,444.4 152.9,447.9 154.5,451.1 156.4,455.4 156.2,460.1 157.1,465.9 154.9,464.5 154.3,460.0 153.1,455.6 151.8,448.9 151.8,444.4M0.0,713.8 5.4,715.4 11.1,715.7 16.7,714.9 22.3,715.6 27.8,717.3 33.6,717.6 38.9,715.2 44.6,714.7 49.9,712.3 55.7,712.6 61.3,713.3 67.0,712.4 72.2,715.0 77.8,716.3 83.7,716.6 89.3,714.7 94.8,715.7 100.4,715.4 106.1,714.5 111.6,716.0 117.2,715.2 122.7,713.7 128.4,713.2 133.9,711.5 140.9,711.6 147.3,708.9 152.1,709.1 156.2,711.5 162.8,713.4 169.6,713.8 174.2,712.3 178.6,710.2 184.0,708.3 189.5,706.6 195.4,707.0 200.9,704.8 206.7,703.7 212.6,704.0 218.5,702.8 223.2,699.0 229.8,697.2 236.6,696.4 241.0,697.7 245.5,698.0 250.2,697.8 254.4,699.9 261.1,701.6 267.8,703.1 273.6,702.7 278.9,705.1 284.6,704.9 290.2,703.9 296.9,703.4 303.5,704.8 308.1,706.3 312.5,708.0 317.0,710.0 321.4,712.4 316.9,716.9 321.4,715.9 325.9,714.7 330.5,714.3 334.8,712.4 338.3,711.5 341.2,709.5 344.5,708.0 348.2,708.0 352.9,707.2 357.1,704.8 362.5,702.9 368.2,702.0 373.9,701.9 379.4,700.4 385.0,699.3 390.6,700.2 396.2,701.1 401.8,699.9 407.3,699.0 412.9,698.2 418.6,697.3 424.1,699.0 429.6,697.9 435.2,697.5 440.8,696.9 446.4,695.9 451.8,697.9 457.2,700.2 463.0,700.2 468.7,699.0 474.3,698.1 479.9,699.3 485.6,699.3 491.0,697.7 496.6,698.5 502.1,700.1 507.8,700.0 513.3,699.0 519.0,699.3 524.6,698.7 530.2,699.3 535.7,700.4 541.2,699.2 546.8,698.6 552.3,699.7 558.0,699.0 563.7,699.4 569.1,697.2 574.7,698.3 580.3,697.7 585.9,697.9 591.5,697.7 597.0,696.7 602.6,696.8 608.4,696.7 613.7,699.1 619.2,700.9 624.9,699.9 630.3,702.0 635.9,702.9 641.6,703.7 647.3,702.6 653.1,701.9 659.0,702.2 664.1,704.9 669.6,707.1 675.3,710.1 681.7,710.1 687.9,711.2 694.1,710.2 697.7,712.9 702.0,713.8 706.0,715.7 710.3,716.5 714.7,716.6 718.9,715.4 723.2,716.7 727.6,716.0 732.0,716.1 736.1,717.3 740.6,717.3 744.5,719.3 748.9,720.2 752.8,722.3 757.1,721.3 761.5,721.8 757.5,724.7 753.1,727.1 748.1,727.1 743.2,728.1 738.7,732.4 733.4,735.7 731.9,742.0 727.6,746.8 725.0,749.3 722.7,752.0 719.2,753.0 716.5,755.3 714.2,759.3 713.8,763.8 716.9,766.0 720.5,767.1 724.2,768.0 727.6,769.6 734.1,767.7 740.8,768.7 747.5,770.2 752.8,774.4 759.3,773.9 765.7,773.1 771.9,775.3 778.5,775.0 789.1,776.6 799.6,778.7 809.3,783.9 820.2,784.2 831.0,786.1 841.6,783.5 851.9,779.7 862.9,780.8 869.3,784.3 876.1,787.2 883.5,787.7 890.7,789.0 898.2,788.1 905.5,790.0 913.1,789.3 919.6,785.2 924.0,783.6 928.8,783.1 933.3,784.4 937.9,785.4 942.5,786.1 947.2,786.0 952.0,785.8 956.2,783.5 953.1,780.6 949.3,778.8 945.9,776.2 941.9,775.0 936.4,773.7 930.8,772.9 925.1,773.3 919.6,772.3 921.3,768.2 922.2,763.8 926.5,764.8 930.8,765.1 935.0,764.0 939.3,763.3 943.6,763.3 947.9,763.6 951.8,761.6 956.2,761.1 950.1,758.5 943.7,757.0 937.4,754.8 930.7,755.3 927.1,754.6 923.5,755.6 920.0,754.2 916.3,754.7 912.5,754.8 908.9,753.8 905.3,752.6 902.6,750.0 908.0,746.8 911.5,746.4 915.0,747.0 918.6,746.6 922.1,746.7 925.7,747.4 929.3,746.5 932.9,746.0 936.1,744.1 940.2,742.7 944.5,742.6 948.9,742.6 953.0,741.5 958.7,743.1 964.5,742.1 970.0,740.1 975.8,739.7 980.9,739.3 985.6,737.2 989.9,734.3 995.0,733.6 999.9,735.3 1005.0,735.6 1010.0,736.2 1015.1,735.7 1021.7,735.9 1028.3,736.5 1034.8,738.0 1040.5,741.5 1044.2,736.8 1049.0,733.3 1054.8,732.3 1060.2,729.9 1063.3,731.7 1066.7,733.1 1070.1,734.6 1073.9,734.3 1077.5,733.5 1081.1,734.4 1084.7,733.9 1088.3,734.8 1094.3,734.3 1099.9,736.3 1105.7,735.5 1111.1,733.0 1114.3,734.5 1117.9,735.2 1121.4,736.1 1125.0,735.5 1128.6,735.3 1132.1,734.6 1135.7,734.7 1139.2,735.7 1144.7,733.4 1150.1,730.7 1156.1,730.1 1161.5,727.2 1165.8,728.1 1170.2,727.3 1174.4,725.9 1178.5,724.5 1184.1,725.9 1189.6,727.5 1195.4,727.6 1201.2,727.2 1205.5,727.1 1209.7,726.5 1213.7,728.1 1217.9,728.6 1222.0,727.2 1226.4,727.4 1230.6,727.8 1234.7,729.0 1240.2,726.9 1246.0,726.6 1251.7,727.5 1257.5,727.2 1262.7,727.8 1267.7,729.4 1272.1,728.1 1276.6,727.5 1281.1,727.0 1285.6,726.3 1290.5,725.3 1295.4,724.9 1300.3,725.2 1305.2,725.4 1308.0,720.6 1311.0,716.0 1307.0,711.5 1310.5,709.8 1313.7,707.5 1310.2,702.6 1315.2,701.9 1319.5,699.0 1323.5,693.7 1329.4,690.7 1336.0,690.5 1339.9,688.4 1343.6,686.1 1347.1,684.1 1351.0,683.4 1355.0,682.9 1358.8,684.3 1355.0,687.4 1350.3,688.8 1345.8,689.6 1341.8,691.9 1337.1,693.7 1332.5,695.9 1328.0,699.0 1323.5,699.5 1319.5,701.7 1323.4,704.3 1327.1,707.1 1329.7,709.7 1330.7,713.3 1329.3,719.1 1332.9,721.6 1336.0,724.5 1333.0,727.3 1330.2,730.3 1327.0,732.4 1324.9,735.7 1319.0,737.3 1314.6,741.5 1310.0,743.8 1305.2,745.9 1310.0,746.6 1314.4,748.4 1318.8,746.4 1323.6,746.2 1328.2,746.4 1332.8,746.6 1337.4,746.6 1341.8,748.2 1348.5,745.0 1355.9,743.7 1363.3,743.0 1370.5,745.0 1377.0,748.3 1384.0,750.2 1391.5,750.1 1398.1,753.5 1402.9,755.2 1407.9,755.8 1412.9,754.6 1418.0,755.0 1422.5,752.6 1427.8,752.5 1432.7,754.1 1437.8,753.5 1443.2,752.0 1448.5,749.9 1454.1,749.2 1459.7,749.5 1465.3,747.2 1470.8,744.7 1476.8,742.9 1482.9,744.1 1487.2,740.0 1492.8,738.3 1498.6,739.6 1504.3,737.9 1510.4,735.7 1515.3,731.5 1521.6,731.3 1528.0,731.2 1531.7,730.3 1535.4,729.2 1538.6,727.1 1542.3,725.8 1545.8,724.6 1548.8,722.5 1552.4,722.0 1556.1,721.8 1560.4,722.6 1564.6,721.4 1568.5,719.1 1573.1,718.7 1578.8,720.0 1584.7,719.1 1588.8,716.7 1593.6,716.0 1600.0,713.2 1607.0,713.8M1267.7,718.2 1271.8,714.5 1276.7,712.0 1281.3,712.3 1285.9,712.9 1290.1,711.0 1294.5,709.8 1297.4,712.8 1301.2,714.7 1299.4,718.0 1299.0,721.8 1292.5,724.4 1285.6,724.5 1278.9,723.8 1272.2,722.7 1276.2,722.0 1279.8,720.0 1283.8,720.2 1287.8,720.5 1291.3,718.7 1293.6,715.6 1287.4,714.2 1281.1,715.1 1274.3,716.2 1267.7,718.2M888.3,754.9 893.9,754.6 899.5,753.5 903.9,755.8 899.6,757.5 895.0,757.5 891.5,756.7 888.3,754.9M741.0,746.8 754.4,747.3 749.9,749.5 741.0,746.8M1057.9,62.5 1062.6,62.8 1067.1,61.4 1071.6,62.3 1075.8,64.3 1079.2,63.5 1082.7,63.1 1085.7,61.1 1089.2,60.3 1084.8,58.4 1080.3,56.7 1076.1,58.6 1071.5,59.5 1067.0,58.4 1062.4,59.0 1057.9,62.5M1098.1,55.8 1102.6,55.5 1107.1,55.3 1111.6,55.4 1116.0,56.3 1120.4,52.3 1115.8,51.9 1111.4,53.4 1106.8,53.2 1102.6,51.4 1098.1,55.8M1138.3,54.5 1143.8,56.4 1149.5,57.3 1154.8,55.0 1160.6,54.5 1165.1,50.0 1160.5,50.6 1155.9,51.0 1151.4,49.9 1147.2,47.8 1143.7,48.4 1140.2,48.2 1137.2,50.3 1133.8,51.4 1138.3,54.5M1169.5,54.5 1176.2,54.0 1182.9,54.5 1180.7,50.5 1175.1,49.3 1169.5,50.9 1169.5,54.5M1176.2,68.8 1182.9,70.5 1189.6,68.8 1189.6,64.8 1184.1,63.3 1178.5,64.3 1176.2,68.8M1162.8,95.1 1166.7,93.6 1170.7,94.0 1174.5,95.4 1178.5,96.0 1180.7,91.6 1176.1,91.2 1171.8,89.8 1167.0,90.2 1162.8,92.5 1162.8,95.1M1261.0,101.4 1265.5,100.9 1270.0,101.4 1270.0,98.3 1265.5,97.2 1261.0,98.3 1261.0,101.4M1245.4,77.3 1249.7,75.4 1254.4,75.2 1259.2,75.3 1263.3,77.7 1267.7,75.0 1261.2,72.9 1254.4,72.8 1250.0,74.1 1245.4,74.6 1245.4,77.3M1236.5,123.7 1243.2,125.1 1249.9,124.2 1252.1,121.0 1245.4,120.7 1238.7,120.6 1236.5,123.7M1247.7,127.3 1252.1,126.9 1252.1,123.7 1248.5,123.7 1247.7,127.3M1241.0,165.7 1247.7,165.7 1247.7,164.4 1241.0,164.4 1241.0,165.7M1249.9,151.9 1254.4,151.9 1254.4,148.3 1249.9,148.3 1249.9,151.9M1363.7,92.5 1369.3,91.5 1374.9,92.5 1374.9,88.0 1369.3,88.4 1363.7,88.4 1363.7,92.5M1320.0,193.9 1325.0,195.4 1330.2,194.7 1328.0,196.5 1321.3,195.6 1320.0,193.9M1071.3,64.8 1077.0,64.4 1082.5,65.7 1082.5,62.5 1078.0,62.4 1073.6,62.5 1071.3,64.8M1131.6,75.0 1136.1,74.6 1140.5,75.9 1140.5,72.8 1133.8,72.4 1131.6,75.0M1277.6,220.7 1285.6,218.9 1283.4,220.2 1277.6,220.7M73.2,151.0 76.3,146.1 74.1,149.2 73.2,151.0M49.1,153.2 52.6,151.9 56.2,151.9 55.8,156.3 50.0,155.4 49.1,153.2M103.6,228.2 109.4,231.8 107.1,230.0 103.6,228.2M123.6,240.8 125.9,239.4 125.0,241.2 123.6,240.8M115.6,226.9 118.7,226.5 117.4,227.8 115.6,226.9M563.3,253.3 566.5,252.4 565.1,253.7 563.3,253.3M616.9,232.3 618.2,230.9 618.2,232.7 616.9,232.3M584.3,266.2 584.8,264.4 584.3,265.8M531.2,444.4 539.2,446.7 535.7,448.0 531.2,444.4M562.4,416.3 567.8,416.7 566.0,419.0 562.4,417.6 562.4,416.3M604.9,405.6 608.4,406.9 606.2,407.4 604.9,405.6M599.1,426.6 601.7,428.8 600.4,432.4 598.6,429.7 599.1,426.6M585.7,434.6 588.3,436.8 586.1,437.7 585.7,434.6M433.9,395.7 437.0,398.9 435.2,398.0 433.9,395.7M440.6,406.5 443.3,409.6 441.5,409.1 440.6,406.5M480.3,413.6 483.4,415.0 481.7,416.3 480.3,413.6M503.1,433.3 508.9,432.8 508.0,434.2 503.1,434.2 503.1,433.3M537.5,342.1 541.5,342.1 541.0,347.1 539.2,345.7 537.5,342.1M554.9,346.2 559.3,346.2 561.1,352.0 558.0,352.0 554.9,346.2M546.4,357.3 550.0,353.3 549.7,356.9 550.4,360.5 547.3,360.0 546.4,357.3M544.1,349.3 549.5,350.6 546.8,355.1 544.1,354.2 544.1,349.3M175.0,427.9 176.3,429.7 175.4,430.6 175.0,427.9M193.3,453.4 194.2,455.2 193.3,454.7 193.3,453.4M37.9,385.5 39.7,385.9 38.8,387.3 37.9,385.5M60.3,343.9 64.7,342.6 64.7,345.3 61.6,346.2 60.3,343.9M160.7,381.9 162.5,386.4 161.6,390.4 160.3,386.4 160.7,381.9M340.1,212.6 349.5,211.7 346.0,213.5 340.1,212.6M189.7,230.0 194.2,228.7 192.8,230.9 189.7,230.0M418.3,369.8 419.2,371.6 418.3,370.7M1292.3,642.3 1288.8,643.1 1285.6,644.5 1289.6,645.5 1293.2,647.7 1297.2,646.6 1301.2,647.2 1296.2,645.7 1292.3,642.3M1272.2,621.8 1275.8,625.3 1271.3,626.7 1272.2,621.8M1332.5,681.2 1338.1,680.4 1343.6,678.9 1348.1,679.8 1343.6,681.2 1339.2,682.5 1332.5,681.2M879.4,754.9 883.7,753.4 888.3,753.1 890.5,756.7 886.2,757.8 881.6,757.5 879.4,754.9M1062.4,731.6 1068.0,731.5 1073.6,730.7 1071.3,733.4 1066.9,732.9 1062.4,733.4 1062.4,731.6"/>
</g>
<rect x="6" y="175" width="1607" height="804" fill="none" stroke="#000" stroke-width="2"/>
<g transform="translate(6,1187.5)" clip-path="url(#mc)">
<g fill-rule="evenodd" stroke="none">
<rect x="0" y="0" width="1607" height="804" fill="#0033e0"/>
<path fill="#1a53ff" d="M2,0 1606,0 1606,804 0,804 0,0ZM433,744 414,746 396,747 360,752 338,753 320,754 272,754 212,745 198,745 172,749 169,752 169,754 172,758 178,760 194,766 228,774 270,780 290,781 308,782 342,782 356,781 378,780 404,777 428,776 444,774 470,768 484,762 488,760 491,756 490,751 482,747 466,746 442,743Z"/>
<path fill="#4579ff" d="M2,0 1606,0 1606,768 1572,774 1558,775 1528,782 1478,786 1422,787 1406,788 1276,789 1256,790 822,791 736,784 702,779 690,773 683,768 677,750 672,741 661,734 654,731 632,727 566,721 482,719 468,719 400,725 363,734 318,740 296,740 240,725 216,724 204,723 180,725 118,725 74,728 46,729 26,732 6,732 3,734 4,738 6,740 24,747 26,749 26,754 25,758 20,762 0,767 0,0Z"/>
<path fill="#86aaff" d="M2,0 1606,0 1606,730 1604,742 1600,744 1558,753 1544,758 1480,766 1458,767 1448,768 1428,769 1416,770 1344,771 1302,774 1272,774 1258,773 1224,772 1200,769 1195,768 1188,761 1182,759 1166,759 1160,759 1154,762 1148,766 1140,773 1136,775 1108,780 1062,781 1046,782 934,782 918,784 862,784 846,782 810,782 786,780 738,774 724,768 718,764 712,756 709,744 708,739 702,734 692,730 658,721 592,715 576,714 540,711 499,710 480,709 446,709 422,711 398,713 365,722 346,725 336,728 318,730 308,730 292,727 274,718 264,715 252,713 236,712 224,711 152,716 102,717 76,719 26,719 6,721 2,724 0,726 0,0Z"/>
<path fill="#b3cdff" d="M2,0 1606,0 1606,718 1602,724 1596,726 1532,733 1506,736 1484,737 1472,738 1450,739 1438,740 1386,740 1354,737 1334,737 1316,738 1310,737 1300,731 1278,727 1216,727 1178,730 1112,731 1096,732 1062,733 1052,734 1036,735 998,740 984,741 936,746 878,746 860,745 834,744 820,743 790,742 778,741 760,740 724,727 698,721 688,720 662,714 645,714 616,709 592,706 498,700 486,699 470,699 456,700 416,701 406,702 390,703 348,708 322,708 304,703 282,702 272,701 224,701 176,706 140,707 126,708 84,709 70,710 8,711 2,712 0,714 0,0ZM1400,48 1394,52 1392,56 1392,60 1395,66 1399,72 1406,78 1422,89 1434,92 1446,91 1450,89 1454,86 1460,76 1461,70 1461,66 1458,61 1452,57 1436,51 1416,47 1408,47Z"/>
<path fill="#d9ecff" d="M2,21 108,21 128,22 208,23 224,24 260,25 274,26 310,27 324,28 398,29 410,30 438,31 452,32 516,33 532,34 624,35 642,36 758,37 776,38 892,39 910,40 1019,41 1038,42 1182,43 1186,44 1188,45 1190,52 1194,56 1206,66 1224,77 1244,87 1290,100 1314,100 1328,94 1332,90 1335,84 1336,78 1336,68 1340,66 1344,66 1364,76 1370,82 1381,94 1387,110 1391,116 1398,122 1406,125 1412,123 1432,111 1484,92 1505,80 1510,75 1523,56 1537,44 1538,40 1536,36 1533,32 1534,30 1542,27 1558,26 1588,23 1606,22 1606,698 1588,700 1550,701 1510,704 1474,705 1458,706 1424,707 1410,708 1354,708 1342,706 1328,693 1320,691 1270,706 1256,708 1234,709 1208,712 1186,713 1172,714 1136,715 1120,716 944,717 932,716 920,715 886,714 854,711 828,710 802,707 746,704 720,701 696,700 668,697 632,696 620,695 598,694 584,693 500,692 484,690 220,690 154,696 50,697 34,698 0,698 0,21Z"/>
<path fill="#ffecd9" d="M11,49 44,49 62,51 78,56 96,58 136,62 168,63 192,65 216,73 232,82 258,102 270,108 294,116 334,120 350,121 382,126 396,127 456,133 478,140 484,145 492,156 502,160 518,162 552,162 572,161 580,163 588,167 592,168 596,168 600,166 607,154 613,148 632,139 652,135 682,134 710,125 724,124 756,115 768,114 786,110 808,104 826,95 842,92 854,87 865,85 890,84 894,86 894,92 896,94 908,99 914,100 936,102 960,102 966,99 968,92 970,90 981,89 996,90 1040,91 1096,97 1172,112 1192,112 1210,109 1224,109 1244,117 1283,140 1286,144 1286,150 1287,154 1294,160 1300,162 1310,162 1316,161 1322,156 1333,122 1336,108 1344,98 1350,94 1358,93 1364,95 1392,124 1400,129 1408,131 1414,129 1434,116 1474,102 1516,84 1568,66 1600,58 1606,54 1606,652 1590,654 1576,655 1566,656 1548,657 1538,658 1444,665 1354,674 1322,674 1304,672 1270,665 1230,661 1160,660 1092,661 1018,668 994,669 982,670 960,671 946,672 886,673 870,674 732,674 700,672 666,667 650,666 592,661 576,660 542,657 520,657 484,660 422,660 406,659 378,658 368,657 348,656 330,647 302,643 272,642 258,641 222,640 208,639 164,639 128,642 114,643 64,648 40,649 28,650 0,651 0,53 4,51ZM972,110 948,111 942,114 940,116 940,118 946,121 954,124 982,126 1030,126 1034,125 1037,122 1036,118 1034,116 1014,111 994,109ZM420,164 406,165 400,167 392,170 390,174 394,179 402,183 428,187 436,186 442,184 447,180 450,176 450,172 450,169 448,166 444,164 434,163ZM339,236 337,238 337,242 346,248 371,257 404,266 414,268 432,269 446,268 454,265 456,262 458,258 457,253 454,248 447,244 440,241 422,239 404,242 382,243 360,238ZM1257,372 1250,374 1248,376 1249,380 1252,384 1258,386 1262,387 1266,386 1269,382 1269,376 1264,372ZM1283,464 1284,466 1288,468 1290,468 1292,468 1292,466 1290,463 1286,462Z"/>
<path fill="#ffcdb3" d="M2,139 10,139 68,139 84,140 104,141 152,150 186,153 220,158 282,163 340,169 366,173 376,179 392,190 418,196 438,196 448,195 490,192 502,191 584,190 594,188 600,185 604,182 616,167 622,163 628,162 634,164 638,170 642,182 643,198 650,208 658,214 670,220 680,222 690,222 734,222 746,221 768,220 852,210 872,205 886,204 910,197 938,188 960,176 974,165 986,159 1002,153 1018,155 1040,160 1056,162 1076,162 1094,157 1114,153 1138,153 1164,155 1188,162 1206,174 1238,186 1254,190 1278,201 1292,202 1300,202 1322,193 1364,186 1382,181 1424,176 1448,171 1460,170 1480,165 1508,162 1530,157 1556,154 1584,148 1606,141 1606,601 1568,601 1552,602 1496,603 1484,604 1436,607 1426,608 1388,611 1362,616 1350,617 1326,622 1302,622 1284,617 1228,611 1120,611 1102,612 1058,613 1046,614 1024,615 1012,616 990,617 976,618 954,619 940,620 918,621 906,622 854,623 840,624 800,625 778,626 746,626 732,625 700,624 666,619 650,618 592,613 550,612 538,611 518,610 508,609 486,608 474,607 416,606 398,605 52,604 36,603 0,602 0,140ZM1104,190 1094,192 1091,196 1091,200 1095,206 1100,210 1106,213 1112,213 1116,210 1118,208 1119,202 1114,193 1110,190ZM1125,222 1124,223 1124,228 1126,230 1130,230 1132,228 1132,223 1130,221 1128,220ZM329,226 323,228 321,230 321,234 326,240 335,248 358,258 404,273 436,278 445,278 458,275 463,274 470,269 473,264 473,260 472,256 466,246 457,240 448,235 433,232 426,231 400,235 386,235ZM150,358 148,360 147,364 150,369 156,372 162,369 165,364 164,359 158,356ZM1257,368 1240,372 1237,374 1236,376 1236,378 1250,388 1258,392 1290,400 1296,399 1301,396 1302,392 1301,388 1299,384 1296,379 1288,375 1270,369ZM510,374 500,379 494,385 490,394 490,402 495,410 502,414 522,420 530,420 532,418 532,414 526,408 525,404 526,400 532,395 533,391 533,388 532,384 528,376 524,373 518,372ZM433,380 434,384 442,396 454,402 458,402 459,398 454,392 442,381 436,379ZM120,384 112,389 107,396 108,401 112,405 116,405 122,402 126,398 129,392 130,388 128,384 124,383ZM51,388 52,392 56,393 58,392 58,390 58,387 54,386ZM611,410 608,414 610,419 614,424 624,430 630,431 644,433 648,432 650,430 651,428 650,424 644,419 624,410 618,409ZM1275,458 1276,462 1278,466 1291,478 1308,498 1310,500 1314,501 1318,498 1319,494 1318,489 1306,472 1292,459 1280,456Z"/>
<path fill="#ffab86" d="M168,179 224,179 236,180 278,183 324,191 346,200 362,204 388,206 454,206 472,205 522,205 528,207 532,209 536,218 542,222 566,234 580,243 586,244 612,246 750,246 766,245 802,244 816,243 854,242 878,240 904,235 918,234 938,229 950,228 968,223 980,222 994,217 1032,209 1046,208 1066,209 1071,210 1100,225 1114,233 1124,237 1134,237 1158,229 1172,227 1186,230 1216,245 1224,246 1242,246 1258,243 1288,242 1306,235 1330,229 1342,228 1382,220 1408,213 1454,206 1502,195 1518,194 1542,189 1562,187 1606,187 1606,578 1600,577 1552,576 1538,575 1472,575 1402,581 1374,585 1358,590 1344,592 1314,594 1294,592 1272,585 1252,581 1238,580 1206,575 1190,574 1128,569 1058,569 1046,570 1024,571 1012,572 990,573 978,574 956,575 943,576 924,577 913,578 896,579 860,582 824,583 788,586 750,587 734,588 604,588 564,585 520,584 508,583 486,582 474,581 416,580 400,579 250,579 235,580 214,581 202,582 180,583 160,584 50,584 38,583 22,582 0,579 0,187 92,186 120,183 138,182ZM323,218 317,224 315,228 315,232 320,240 329,248 336,252 356,262 402,278 436,285 458,283 466,280 476,274 480,270 484,264 484,256 479,248 462,234 452,230 430,226 420,226 402,228 378,227 354,223 330,217ZM1128,264 1127,268 1129,276 1140,295 1148,306 1152,307 1156,307 1159,301 1160,296 1158,287 1152,276 1146,269 1140,264 1132,262ZM461,336 454,338 440,345 422,358 418,360 390,361 364,365 336,371 332,374 331,376 334,378 340,378 408,379 418,380 424,383 428,386 432,392 438,402 450,411 466,418 481,426 518,438 532,440 536,441 540,440 550,432 558,431 580,434 604,435 628,438 670,440 748,452 794,452 804,450 807,448 808,446 806,444 798,440 754,429 740,428 718,424 692,416 682,412 661,398 661,396 664,394 674,391 728,383 775,378 779,376 780,374 779,372 775,370 714,363 700,362 690,361 630,356 606,351 594,350 560,345 544,344 530,337 512,335 470,335ZM89,352 68,354 54,355 42,358 27,364 24,367 22,372 24,376 37,388 42,393 46,402 54,425 64,442 81,462 85,465 98,471 106,472 125,465 130,462 135,456 140,442 137,430 137,422 146,398 148,388 154,382 164,378 169,374 173,368 173,362 172,357 168,354 158,350 140,350 128,351ZM1242,366 1214,373 1208,376 1202,382 1201,386 1202,390 1207,394 1212,395 1232,397 1254,402 1260,406 1268,416 1276,424 1284,428 1300,432 1316,432 1332,430 1340,426 1345,420 1346,416 1346,410 1342,402 1334,395 1324,385 1310,377 1288,369 1270,364 1260,364ZM283,412 266,413 258,415 251,420 251,424 255,428 264,430 294,430 308,429 334,428 362,422 367,420 368,418 366,416 358,413 334,411 292,411ZM1273,452 1272,454 1271,458 1274,464 1286,478 1303,502 1308,505 1312,507 1316,506 1321,504 1324,498 1324,492 1321,484 1311,470 1292,454 1280,451 1276,450Z"/>
<path fill="#ff7a45" d="M236,191 248,191 268,193 288,198 300,203 308,207 312,212 314,216 310,226 311,234 316,241 328,251 354,266 382,276 413,286 416,288 416,290 414,314 416,330 414,333 394,340 382,342 370,343 350,347 320,358 286,368 276,369 255,378 240,389 234,395 230,401 223,416 222,422 223,428 226,432 232,437 238,440 258,444 280,444 370,437 454,436 484,439 516,445 536,447 542,445 552,439 558,439 594,443 617,443 644,447 668,447 678,449 698,450 758,460 794,464 848,465 862,466 872,466 892,464 894,464 895,462 894,460 892,458 869,452 834,444 756,422 740,416 726,409 709,404 706,402 706,400 710,397 732,394 782,389 812,388 864,382 878,378 886,372 889,371 918,374 1014,374 1032,373 1074,372 1090,371 1180,371 1183,372 1184,374 1186,388 1188,391 1191,394 1210,399 1228,400 1238,402 1244,406 1250,414 1260,434 1267,448 1268,458 1271,464 1283,480 1286,492 1287,536 1286,562 1283,564 1278,564 1260,564 1246,562 1196,549 1084,528 1070,522 1052,517 1012,509 1000,507 964,504 950,505 938,509 925,516 902,532 890,538 872,542 852,543 840,544 808,545 794,546 762,547 748,548 718,549 666,554 596,555 564,558 454,558 438,557 414,556 402,555 316,555 298,556 226,557 188,560 158,561 114,566 38,566 12,564 0,561 0,373 4,376 16,380 26,385 33,392 38,398 57,454 59,464 61,482 64,488 68,491 72,492 76,490 82,486 88,485 90,488 95,500 100,504 106,505 116,502 121,498 122,490 118,480 119,478 122,476 130,475 142,475 150,477 160,481 164,477 172,460 174,452 174,442 170,422 170,408 179,366 179,362 177,356 170,350 160,346 140,344 20,347 4,349 0,353 0,205 38,205 76,209 90,214 104,222 122,228 148,228 164,226 182,222 202,206 220,195 224,193ZM127,514 116,518 111,522 108,526 107,530 108,534 110,540 114,542 120,544 126,542 134,537 139,530 140,524 139,518 134,514ZM1590,205 1606,205 1606,560 1594,557 1578,556 1540,551 1524,550 1486,547 1448,547 1436,545 1426,545 1402,547 1380,550 1370,551 1366,550 1367,546 1382,534 1386,528 1391,508 1398,494 1401,482 1402,472 1399,450 1401,432 1401,426 1398,418 1395,412 1372,385 1364,380 1346,371 1326,365 1298,360 1276,358 1212,359 1204,361 1192,366 1180,359 1158,353 1140,351 1010,351 990,351 974,353 928,353 870,361 856,366 838,364 812,359 768,355 752,354 714,349 662,346 627,340 590,329 550,323 538,323 526,324 516,324 502,319 482,305 462,299 459,298 458,296 459,294 463,292 476,289 508,288 524,284 532,278 536,270 536,260 533,250 522,243 516,241 496,240 484,241 480,240 471,234 470,232 472,230 476,229 504,227 522,231 528,234 531,238 536,249 554,256 570,258 592,259 604,260 624,260 642,259 772,258 788,257 870,256 886,255 916,254 936,251 950,250 984,244 1002,238 1032,227 1052,223 1068,223 1077,226 1100,241 1117,246 1121,248 1122,250 1119,260 1120,266 1127,284 1140,305 1148,314 1162,324 1168,327 1174,328 1178,327 1180,325 1181,322 1180,318 1173,306 1162,276 1156,266 1146,256 1146,254 1148,253 1176,253 1192,254 1242,255 1274,254 1298,252 1316,250 1334,245 1374,240 1398,235 1442,230 1482,221 1508,218 1542,211ZM1481,364 1447,370 1440,374 1439,376 1439,380 1444,384 1456,388 1476,390 1510,390 1552,384 1558,380 1560,376 1558,372 1556,370 1536,363ZM1342,461 1348,461 1352,463 1355,468 1356,474 1356,480 1354,486 1350,490 1344,493 1340,493 1336,490 1331,478 1332,472 1335,466 1338,463Z"/>
<path fill="#ff531a" d="M256,227 266,227 290,233 314,246 360,278 406,297 408,300 409,304 408,307 406,308 400,308 356,295 346,295 338,297 333,300 329,306 327,316 326,334 324,339 320,343 314,346 290,351 280,356 258,361 242,369 223,384 202,412 197,422 193,436 193,446 195,450 200,452 211,454 213,456 197,474 191,484 191,490 191,498 195,506 200,510 204,511 206,510 214,500 216,494 224,470 223,464 218,456 221,454 228,453 242,454 292,454 316,451 334,450 354,447 380,446 400,445 432,445 444,446 462,447 498,451 518,454 538,455 548,453 556,453 594,459 616,466 630,466 648,463 664,465 744,487 754,493 757,498 759,504 758,509 752,514 734,520 714,521 702,522 672,523 666,526 660,534 656,537 644,541 636,542 614,542 598,541 544,540 538,539 528,534 518,538 498,541 474,540 460,539 412,538 396,537 212,537 200,538 186,539 141,546 138,545 136,544 145,530 148,516 158,496 167,484 178,456 179,442 176,420 181,392 184,368 184,362 182,356 178,349 170,345 160,342 138,340 30,340 4,335 0,336 0,241 8,239 16,239 48,243 84,254 122,254 146,250 166,240 175,237 218,231 238,230ZM1588,241 1596,241 1606,242 1606,338 1600,343 1588,348 1508,356 1418,357 1400,358 1372,358 1334,355 1312,354 1298,352 1260,352 1241,348 1230,342 1218,330 1213,320 1214,314 1218,308 1231,301 1252,297 1255,294 1259,286 1264,283 1284,282 1308,280 1320,277 1358,272 1380,267 1414,264 1468,255 1522,250ZM1096,253 1104,254 1110,258 1132,302 1134,308 1133,312 1132,316 1128,320 1118,325 1094,329 1076,334 1040,338 1010,339 972,342 922,344 908,346 886,347 874,348 820,348 808,347 756,344 705,340 676,332 660,326 650,319 646,316 645,312 646,308 648,304 662,295 692,287 730,283 760,282 774,281 958,280 974,279 1008,278 1042,274 1064,270 1074,265 1089,256ZM1144,379 1170,378 1176,379 1178,382 1183,394 1190,399 1208,403 1233,406 1238,408 1242,412 1248,420 1255,438 1263,452 1267,464 1277,478 1280,484 1282,498 1282,538 1281,546 1278,550 1274,551 1270,550 1138,517 1116,514 1086,508 1078,505 1064,499 1052,498 1028,491 1004,488 974,479 926,468 908,462 900,455 896,453 864,444 842,440 792,428 747,414 738,410 729,404 730,402 736,400 788,398 800,397 826,396 847,392 862,389 892,388 906,387 942,386 960,385 1070,384 1082,383 1106,382 1118,381ZM1568,423 1586,423 1602,427 1606,427 1606,535 1604,533 1602,533 1578,540 1570,540 1554,540 1538,539 1452,538 1410,534 1400,532 1396,528 1396,522 1400,512 1423,483 1438,456 1442,452 1456,443 1468,437 1482,433ZM2,427 30,427 35,430 42,437 52,464 56,484 58,490 62,494 73,500 78,503 82,510 86,518 91,536 91,546 89,550 82,551 60,550 24,547 6,546 0,544 0,427Z"/>
<path fill="#e03300" d="M190,247 198,248 222,254 228,258 244,270 252,272 264,271 294,255 304,252 310,252 316,254 344,274 348,278 349,282 346,285 340,286 320,286 290,290 283,294 264,315 246,326 238,330 228,331 214,336 188,342 182,342 140,334 118,332 24,332 0,328 0,271 6,272 26,269 128,268 142,266 166,260 184,250ZM1578,265 1584,265 1598,267 1606,270 1606,328 1594,332 1572,332 1548,330 1538,326 1533,322 1531,314 1533,298 1539,282 1546,275 1558,268ZM1388,307 1406,307 1420,307 1430,312 1433,316 1433,320 1430,324 1420,330 1412,332 1398,334 1380,332 1372,329 1366,325 1364,320 1366,316ZM198,347 204,346 212,347 218,349 221,352 222,354 222,358 219,364 216,367 210,371 204,372 198,371 193,368 190,362 190,354 192,351ZM980,393 1118,393 1144,393 1150,396 1148,398 1142,400 1126,402 1118,410 1112,412 1086,414 1052,415 1038,416 1012,417 998,418 986,418 974,417 940,416 898,412 879,410 870,406 866,404 868,401 874,399 894,398 906,397 936,396 948,395 972,394ZM1110,433 1150,433 1162,434 1184,435 1200,438 1222,450 1240,464 1243,468 1247,476 1247,480 1247,484 1244,488 1240,491 1210,496 1186,497 1168,498 1150,497 1096,496 1078,493 1064,486 1046,480 1034,472 1028,463 1027,458 1029,454 1036,448 1044,444 1058,439 1068,438 1078,435 1102,434ZM1568,433 1584,433 1600,436 1606,435 1606,507 1588,509 1552,506 1524,501 1514,500 1494,496 1474,490 1464,486 1453,478 1448,470 1448,464 1452,458 1458,454 1468,450 1514,439ZM2,435 13,438 21,444 30,460 34,474 34,488 31,496 28,500 22,503 8,508 0,508 0,435ZM398,463 432,462 460,463 514,471 534,478 548,485 552,492 552,500 550,503 546,506 532,510 485,514 466,515 452,516 424,516 354,508 330,499 324,496 321,492 320,488 322,484 332,478 352,471 364,470 384,465ZM66,509 68,508 72,509 78,516 84,533 84,540 82,541 80,540 76,534 66,516Z"/>
<path fill="#b82400" d="M306,265 314,266 320,269 322,274 320,278 316,280 302,282 295,282 290,280 288,276 292,271 298,267ZM148,293 160,293 171,298 174,302 176,307 175,312 174,315 168,319 160,320 148,320 140,316 135,310 135,304 140,297ZM240,293 248,294 260,299 263,304 262,308 256,313 246,317 238,316 226,311 223,310 222,306 224,301 228,297Z"/>
</g>
<path class="coast" d="M1580.7,242.1 1598.1,245.2 1607.0,242.1M0.0,242.1 0.0,242.1 3.6,241.4 6.5,239.2 9.9,238.4 13.4,237.6 19.0,236.9 24.5,235.2 30.3,234.7 35.7,236.7 40.2,236.4 44.6,235.4 49.1,237.6 46.9,243.4 44.6,248.8 49.1,253.7 53.7,253.4 58.0,255.0 63.1,256.5 68.3,257.7 71.4,262.2 76.0,263.7 80.4,265.8 87.0,265.8 89.3,261.3 89.7,256.8 93.8,255.0 98.2,255.0 101.4,256.7 104.9,257.8 108.1,259.3 111.6,260.4 116.3,261.3 120.9,259.8 124.9,262.4 129.5,263.5 133.9,262.3 138.4,261.3 144.2,262.6 145.1,268.0 148.3,272.0 149.5,276.9 152.7,280.9 154.0,285.9 156.4,290.2 158.5,294.8 161.1,299.8 165.2,303.7 166.9,309.2 166.5,314.9 169.7,317.9 171.9,321.6 173.7,327.3 176.3,332.8 178.9,336.9 183.0,339.5 187.3,343.0 191.9,346.2 192.8,350.2 196.4,355.1 203.0,353.2 209.8,352.0 214.7,351.9 219.5,353.0 223.9,350.9 228.6,349.3 227.7,355.1 226.0,359.4 225.0,364.0 222.7,368.1 218.7,370.7 215.5,375.9 214.3,381.9 210.3,386.9 205.3,390.8 201.5,395.0 196.4,397.5 192.8,402.9 187.5,406.5 184.5,410.2 180.8,413.2 177.8,417.3 176.3,422.1 175.9,426.8 174.1,431.0 175.0,435.5 176.3,440.0 178.2,444.6 180.8,448.9 181.2,454.5 180.8,460.1 181.3,464.5 182.1,469.0 179.1,474.4 174.1,477.9 170.1,481.2 165.2,482.4 161.4,487.5 156.2,491.3 156.9,495.9 158.5,500.3 158.6,504.7 158.5,509.2 153.2,513.1 147.3,515.9 146.4,522.6 144.4,527.0 142.8,531.5 139.6,536.1 136.1,540.5 133.6,543.0 131.0,545.5 128.3,548.0 125.0,549.4 119.5,550.8 114.7,553.9 110.5,554.6 106.4,553.7 102.5,555.4 98.2,555.2 93.9,556.9 89.3,557.4 85.8,556.0 82.1,554.8 81.3,551.0 80.4,547.2 80.3,541.4 78.1,536.0 76.3,532.4 73.7,529.3 69.7,524.1 67.0,518.1 67.7,514.7 67.5,511.2 65.5,508.2 64.7,504.7 61.6,500.7 60.3,495.8 58.0,492.8 56.6,489.2 54.9,485.9 53.6,482.4 53.7,477.9 52.7,473.5 53.2,467.6 55.8,462.3 58.4,456.7 61.2,451.1 59.0,446.9 58.9,442.2 58.9,438.6 57.5,435.3 55.5,432.3 54.9,428.8 54.3,425.3 52.7,422.1 48.8,417.5 44.6,413.2 43.2,408.7 40.2,405.1 40.9,401.2 42.4,397.5 43.3,393.1 43.3,388.6 40.2,382.8 35.7,381.9 29.0,382.8 25.8,379.3 22.3,376.1 19.0,374.6 15.6,373.4 11.2,374.0 6.7,374.3 3.2,374.8 0.0,376.5 0.0,376.5M1607.0,376.5 1602.6,378.7 1598.1,380.6 1593.6,379.6 1589.1,378.8 1585.1,379.1 1581.0,379.0 1577.4,380.9 1573.5,382.3 1570.4,380.5 1566.8,379.7 1563.1,375.0 1557.9,372.1 1553.0,368.6 1549.0,364.0 1546.7,358.7 1543.3,355.9 1540.0,352.9 1536.0,349.8 1532.5,346.2 1532.1,341.0 1529.8,336.3 1533.3,330.5 1535.4,323.9 1534.2,317.1 1531.9,313.0 1531.1,308.2 1532.4,302.2 1535.6,297.0 1537.6,292.2 1540.9,288.1 1544.3,282.6 1549.0,278.3 1553.4,275.8 1557.9,273.4 1563.3,268.9 1563.7,265.1 1563.7,261.3 1565.9,256.9 1569.1,253.3 1572.8,249.4 1578.0,247.9 1580.7,242.1M220.1,455.6 221.9,459.3 222.0,463.5 223.0,467.5 224.5,471.2 221.7,475.3 221.0,480.2 218.2,485.5 216.5,491.3 216.1,494.9 214.2,498.0 213.9,501.6 212.0,504.7 210.6,509.1 209.8,513.7 206.4,514.5 203.1,515.9 199.2,514.4 196.4,511.4 196.2,506.7 194.2,502.5 196.1,497.1 196.4,491.3 198.8,484.9 198.6,477.9 200.9,473.5 205.7,471.9 209.8,469.0 211.8,465.5 214.3,462.3 217.0,458.8 220.1,455.6M145.5,268.4 148.2,274.7 152.7,278.3 153.1,276.9 153.7,273.4 155.3,270.2 156.2,275.6 160.3,279.0 162.9,283.6 165.0,286.8 166.5,290.3 170.0,293.1 171.9,297.0 174.1,301.2 174.1,306.0 178.0,308.7 180.8,312.7 183.7,315.6 185.3,319.4 188.2,323.6 190.6,328.3 190.6,335.0 192.6,338.1 192.8,341.7 194.2,345.3 200.9,344.8 205.6,344.1 209.8,341.7 214.4,340.2 218.7,338.1 222.4,336.1 225.2,333.0 228.9,331.3 233.0,330.5 236.7,327.8 241.0,326.1 246.9,323.8 250.4,320.6 254.4,318.0 257.6,317.1 259.3,313.6 261.6,310.4 263.4,305.4 266.9,301.5 262.0,297.0 256.7,295.7 252.2,291.2 251.8,284.5 250.0,286.8 246.1,289.3 243.3,293.0 236.6,294.4 229.9,293.5 230.3,290.3 228.6,285.9 226.3,290.3 224.1,284.5 221.0,281.4 219.6,277.5 216.5,274.7 214.3,268.9 218.7,266.2 224.1,268.0 227.7,273.4 231.1,276.2 234.4,279.2 238.8,281.1 243.3,283.2 247.0,281.0 251.3,280.5 254.4,282.3 258.9,287.7 262.8,286.6 266.9,286.9 270.4,289.0 274.5,289.4 281.2,288.7 287.9,289.0 292.9,289.1 297.7,290.3 301.3,294.8 305.8,297.0 308.9,299.2 312.5,300.2 308.0,302.8 311.9,305.2 314.7,308.6 318.4,304.6 323.6,302.8 324.5,308.2 323.7,312.7 325.0,317.1 326.0,321.6 327.2,326.1 329.6,330.2 330.3,335.0 332.0,339.5 333.9,343.9 337.1,347.2 338.4,351.5 339.9,356.7 341.5,361.8 346.0,365.8 349.1,362.2 352.6,360.5 356.2,356.0 357.2,352.2 356.2,348.4 358.5,343.9 359.1,339.4 358.0,335.0 361.6,331.4 364.7,329.5 367.4,327.0 369.7,323.9 372.7,321.6 375.9,318.0 379.4,314.9 383.1,312.4 387.5,311.3 388.4,306.0 392.9,305.9 397.3,304.6 404.0,302.8 408.4,300.6 410.7,306.0 412.9,309.5 416.2,313.4 419.6,317.1 420.2,320.6 421.8,323.8 420.9,330.5 425.4,331.4 428.5,327.0 435.2,328.3 436.6,335.0 438.5,339.3 439.7,343.9 440.8,348.3 440.6,352.9 438.8,359.6 439.7,366.3 441.9,369.4 445.0,371.6 447.7,373.9 448.6,379.7 449.3,384.6 452.2,388.6 455.3,391.7 458.3,394.6 462.0,396.2 465.1,395.7 462.0,389.5 462.4,385.7 461.6,381.9 460.1,378.2 457.5,375.2 453.1,371.6 448.6,369.8 447.7,364.9 442.8,360.5 444.0,356.7 444.2,352.9 444.8,349.4 446.4,346.2 448.6,341.7 450.9,345.3 454.2,346.9 457.5,348.4 460.0,351.1 462.0,354.2 465.7,354.9 468.7,357.3 468.7,363.1 471.6,360.5 475.4,359.6 477.6,355.5 481.8,352.6 486.6,350.6 487.9,346.2 486.7,341.8 486.6,337.2 483.7,332.4 479.9,328.3 477.3,324.2 473.2,321.6 473.2,314.9 475.3,311.5 477.6,308.2 481.3,307.4 484.3,305.1 490.1,306.4 492.8,311.3 492.8,306.9 495.5,306.4 500.3,306.2 504.4,303.7 508.9,302.4 513.3,300.6 518.2,300.1 522.3,297.5 526.7,293.0 531.2,289.0 535.7,283.6 538.7,279.4 542.4,275.6 543.0,272.1 544.6,268.9 540.1,266.7 544.6,264.4 543.7,260.0 540.3,256.6 537.9,252.4 534.7,249.4 532.5,245.7 534.8,242.6 537.9,240.3 542.4,239.3 546.8,237.6 546.8,235.8 540.1,234.1 535.5,233.8 531.2,235.4 529.0,232.3 525.8,227.8 531.2,225.6 536.2,223.2 540.1,219.3 544.6,221.1 543.5,224.9 542.4,228.7 544.6,227.8 549.9,226.0 554.9,223.3 558.9,225.6 558.0,232.3 562.4,233.2 565.6,236.7 563.8,243.4 564.7,248.3 569.4,247.7 573.6,245.7 577.6,243.4 577.6,236.7 573.6,233.4 571.4,228.7 569.1,224.7 574.3,222.6 579.0,219.8 579.0,216.6 582.5,213.1 584.8,211.3 589.3,212.0 593.7,210.8 599.7,209.0 604.9,205.5 608.6,202.6 611.6,198.8 616.0,195.4 620.5,192.1 623.3,188.2 627.2,185.4 628.0,179.8 627.2,174.2 628.6,169.6 630.7,165.3 627.1,162.4 622.7,160.8 618.2,159.7 613.8,160.8 609.2,159.5 604.9,157.7 610.2,153.4 616.0,149.6 619.9,148.3 623.8,146.7 626.9,144.0 629.4,140.7 634.1,139.4 638.3,137.1 643.7,135.0 649.5,135.2 655.3,134.9 660.7,137.1 665.2,137.0 669.7,136.1 674.2,137.1 678.5,138.5 685.0,136.1 691.9,136.2 697.3,132.7 700.8,127.3 707.6,127.9 714.2,126.4 717.8,124.5 721.9,124.3 725.8,125.6 729.8,125.1 724.8,127.7 720.9,131.8 715.9,132.9 712.0,136.2 706.1,139.6 700.8,143.8 698.2,148.1 695.0,151.9 695.5,158.6 696.4,165.3 698.8,169.4 699.5,174.2 702.4,168.9 707.5,165.7 714.2,164.4 719.7,161.4 723.1,156.3 725.6,153.6 727.6,150.5 723.1,145.2 727.6,142.9 728.8,138.9 729.8,134.9 735.5,135.7 741.0,134.0 745.5,134.2 749.9,133.7 754.4,134.5 758.9,134.0 763.8,132.6 767.8,129.5 771.2,128.5 774.8,128.9 778.3,128.0 781.2,126.0 785.8,123.5 791.1,123.3 796.1,124.5 801.3,123.7 796.8,118.4 792.3,113.0 799.0,113.0 803.3,110.6 808.0,109.4 811.5,110.1 814.9,110.9 818.3,112.2 821.4,113.9 827.9,111.9 834.7,111.7 838.5,110.8 842.2,109.8 846.1,109.3 849.5,107.2 844.2,106.7 839.2,105.0 834.6,104.6 830.2,103.1 825.5,102.7 821.4,100.5 816.6,99.6 811.8,98.9 807.3,96.9 803.5,93.8 798.9,92.9 794.9,90.3 790.3,91.3 785.6,90.7 780.1,92.1 774.4,90.9 768.8,91.0 763.3,89.3 761.1,93.8 755.5,91.7 749.9,89.3 743.2,90.2 736.5,91.6 730.9,90.7 725.5,88.8 719.9,90.3 714.2,90.7 709.6,88.2 705.3,85.3 698.8,83.0 691.9,82.4 685.4,84.6 678.5,85.3 674.0,84.0 669.6,82.6 664.0,81.6 658.5,80.7 652.7,80.8 647.3,79.1 641.7,79.2 636.1,78.5 630.5,79.7 624.9,78.2 622.1,80.5 618.8,82.1 615.3,83.3 611.6,82.6 607.1,82.2 602.6,82.9 598.2,82.7 593.7,82.6 589.4,84.5 584.8,84.9 580.0,84.9 575.8,82.6 571.7,79.7 566.9,78.2 564.2,75.6 562.4,72.4 555.8,73.1 549.1,73.7 543.4,73.9 537.9,72.4 532.3,73.1 526.7,73.7 521.3,71.9 515.6,72.7 510.0,73.7 504.4,72.4 497.6,71.8 491.0,70.1 495.2,69.5 498.9,67.5 502.7,66.0 506.7,64.8 503.4,62.4 500.0,60.3 494.5,58.9 489.0,57.5 483.3,56.8 477.6,58.1 474.1,58.2 470.6,57.9 467.4,56.4 464.2,54.9 457.4,55.6 450.8,57.6 447.2,58.3 443.7,57.8 440.6,59.6 437.5,61.2 432.0,62.7 426.4,63.3 420.8,62.0 415.1,62.5 408.4,63.7 402.0,66.3 395.2,66.2 388.4,67.0 383.9,72.4 377.7,72.1 371.5,71.3 365.5,73.0 359.3,73.7 358.2,77.0 357.1,80.4 352.7,79.6 348.2,79.1 341.4,78.8 334.8,80.4 331.6,84.4 330.3,89.3 330.5,94.9 330.3,100.5 326.9,101.4 323.6,102.7 324.8,98.3 325.9,93.8 324.8,89.3 323.6,84.9 322.9,80.7 321.4,76.8 314.7,76.5 308.0,75.9 303.5,79.2 299.1,82.6 299.1,89.3 303.6,91.5 308.0,93.8 305.8,97.4 302.7,95.3 299.1,94.7 293.6,93.0 287.9,92.5 283.8,91.8 280.4,89.4 276.4,90.1 272.3,89.3 267.8,91.6 270.1,93.8 266.4,94.4 263.4,96.5 258.8,96.6 254.4,95.6 248.8,96.1 243.3,96.9 240.2,95.0 236.6,94.7 233.1,95.8 229.6,95.3 226.2,96.4 223.2,98.3 218.9,100.2 214.3,100.5 211.2,102.7 207.6,103.6 205.3,98.3 200.4,97.3 195.5,96.0 197.4,99.1 197.8,102.7 196.4,106.3 191.9,106.5 187.5,105.4 184.6,108.2 180.8,109.4 178.6,113.5 174.1,113.3 169.6,113.9 165.2,116.1 160.8,114.8 156.2,114.8 154.0,109.4 150.3,104.9 145.1,102.3 149.5,104.1 154.7,103.3 159.9,103.8 165.0,104.7 169.6,107.2 176.4,107.5 183.0,106.3 184.4,101.8 178.6,99.6 173.8,98.7 169.9,96.0 165.5,94.1 160.7,93.8 153.9,94.4 147.3,92.5 140.8,90.2 133.9,90.7 138.4,88.0 135.5,85.8 132.1,84.8 128.5,84.5 125.0,84.9 119.8,85.4 114.7,84.4 110.4,84.6 106.1,83.8 102.4,86.0 98.2,87.1 91.6,88.6 84.8,89.3 80.4,91.1 75.9,92.9 70.9,93.8 67.0,96.9 62.0,99.1 58.0,102.7 56.4,106.5 53.6,109.4 50.3,111.8 46.9,113.9 42.4,116.1 37.9,118.4 34.7,119.8 31.2,120.6 27.1,123.5 22.3,125.1 22.3,131.8 23.8,135.0 24.6,138.5 29.0,142.5 35.7,142.5 39.2,141.3 42.4,139.4 47.3,134.9 49.1,138.5 52.7,144.3 55.6,147.3 56.7,151.4 58.0,154.5 63.4,154.5 64.7,151.9 71.4,151.0 73.7,147.4 73.7,140.7 77.1,139.0 80.4,137.1 83.9,134.0 78.1,131.8 76.8,129.5 78.4,125.5 80.4,121.5 82.9,118.4 86.1,116.0 89.9,114.9 93.7,113.9 98.2,108.5 102.6,107.9 107.1,108.1 112.9,110.8 107.1,113.9 101.3,116.9 96.0,120.6 95.1,125.1 96.0,131.8 99.3,133.1 102.7,134.4 109.1,131.8 116.1,132.2 121.8,133.2 127.2,131.3 130.4,133.2 133.9,134.0 129.2,134.0 125.0,136.2 118.3,137.6 111.6,136.2 104.9,137.6 108.9,141.6 108.5,143.8 104.9,147.4 101.4,146.5 98.2,144.7 93.7,147.4 94.7,151.4 93.7,155.4 88.4,159.0 82.6,157.7 76.9,157.8 71.4,159.5 67.5,160.8 63.4,161.2 60.3,158.6 53.6,159.9 49.1,160.8 43.7,157.2 44.6,154.1 46.0,149.6 46.9,144.3 42.0,146.8 36.6,147.4 37.1,154.1 38.4,159.5 35.7,162.6 29.0,163.0 25.3,164.3 21.4,165.3 17.9,169.7 13.4,172.9 7.6,174.6 6.7,178.2 3.0,179.1 0.0,181.3 0.0,181.3M1607.0,181.3 1602.9,181.4 1599.0,180.5 1599.9,184.9 1593.6,184.0 1589.4,184.0 1585.6,185.8 1586.9,188.5 1591.6,191.5 1597.2,192.1 1601.6,196.5 1601.6,201.0 1600.2,204.5 1599.0,208.1 1595.4,209.1 1591.8,208.9 1588.2,208.3 1584.7,207.7 1578.1,205.6 1571.3,206.8 1565.9,209.9 1567.3,214.3 1567.7,218.9 1566.5,224.1 1564.6,229.1 1566.7,232.6 1566.8,236.7 1570.9,236.6 1574.6,238.5 1578.4,239.4 1582.0,241.2 1587.4,238.1 1592.7,237.8 1598.1,237.6 1601.0,235.6 1603.9,233.6 1607.0,229.8M0.0,229.8 0.9,228.7 0.0,227.1M1607.0,227.1 1606.1,225.6 1607.0,224.4M0.0,224.4 3.6,219.8 9.8,217.5 14.3,214.8 13.4,212.2 15.6,208.6 21.4,208.1 26.8,209.5 29.8,207.2 33.5,206.4 39.3,203.7 43.7,205.0 46.0,207.7 49.1,212.2 54.5,215.3 58.0,217.5 63.8,220.2 68.3,222.9 71.4,225.6 70.5,228.7 70.1,232.5 73.7,230.5 76.3,227.8 74.1,224.2 75.9,221.1 81.2,224.2 82.6,222.9 80.4,220.7 76.5,219.3 72.8,217.5 71.4,215.3 67.8,215.0 64.7,213.1 60.7,207.7 55.4,204.1 55.4,199.7 60.7,197.9 61.2,201.4 63.8,199.7 67.0,203.2 70.9,204.6 73.7,207.7 78.3,209.5 82.6,212.2 87.0,215.3 86.6,221.1 91.5,225.6 94.6,230.9 96.4,236.7 99.1,238.5 103.1,239.0 102.7,234.5 107.1,233.6 107.1,232.3 104.0,228.7 101.3,225.6 101.8,221.1 106.2,222.4 109.4,219.3 116.1,220.2 118.3,220.7 122.8,218.9 129.5,218.0 125.4,216.2 123.6,212.2 125.0,209.9 128.1,204.6 132.6,199.7 134.7,196.6 137.5,194.3 142.8,194.7 149.5,196.1 146.0,198.8 150.4,203.7 156.2,201.9 162.9,200.1 158.5,199.7 156.2,195.6 161.9,194.1 167.4,192.1 174.1,191.2 171.9,196.5 167.4,201.0 171.9,203.7 175.2,205.7 178.6,207.7 181.6,210.4 185.3,212.2 185.7,216.2 182.0,217.2 178.6,218.9 171.9,218.9 167.5,217.7 162.9,217.5 159.9,215.3 156.2,214.4 149.5,214.4 145.2,216.4 140.6,218.0 135.1,218.7 129.5,218.4 129.5,221.1 122.8,221.5 117.0,223.3 120.5,225.6 118.3,230.0 121.9,234.5 125.0,238.1 128.1,240.0 131.7,240.3 136.6,237.6 142.8,239.0 147.3,240.3 150.5,238.6 154.0,238.1 157.8,238.7 161.6,238.5 160.3,243.4 159.1,246.9 158.5,250.6 155.8,256.8 152.7,262.2 148.5,263.4 144.2,262.6 145.5,268.4M209.8,198.8 214.7,197.3 218.7,194.3 223.3,194.5 227.7,193.0 232.1,193.9 236.6,194.3 236.6,201.0 232.0,201.6 227.7,203.2 224.5,205.5 229.9,209.9 235.7,212.2 234.4,216.6 240.2,218.9 237.8,221.9 236.6,225.6 240.2,230.0 240.2,236.7 236.3,238.2 232.1,238.1 228.8,236.9 225.4,235.8 222.1,234.5 218.7,233.2 218.7,227.8 221.0,222.0 219.3,218.3 216.5,215.3 212.0,209.9 211.4,206.4 209.8,203.2 209.8,198.8M261.1,194.3 267.8,194.3 270.8,197.1 274.5,198.8 273.3,202.1 272.3,205.5 268.7,205.9 265.6,207.7 260.2,203.2 261.1,198.8 261.1,194.3M328.1,198.8 331.7,196.6 334.8,193.9 339.2,193.0 343.7,193.4 348.2,192.5 352.6,193.9 350.4,195.6 344.9,197.2 339.3,196.5 336.0,197.9 332.6,198.8 328.1,198.8M463.4,172.0 466.9,170.1 470.9,169.7 475.9,167.8 479.9,164.4 484.5,160.5 488.8,156.3 490.1,153.2 487.1,155.7 484.3,158.6 479.6,161.6 475.4,165.3 470.7,167.5 466.5,170.6 463.4,172.0M1582.4,178.2 1591.4,177.3 1602.5,175.5 1607.0,174.8M0.0,174.8 5.8,173.8 4.5,170.6 7.6,166.6 1.3,165.3 0.0,162.6 0.0,162.6M1607.0,162.6 1605.7,158.6 1600.3,155.4 1598.1,151.9 1592.7,151.9 1597.2,148.3 1598.1,144.3 1593.6,144.5 1589.1,144.7 1592.7,140.7 1588.6,141.5 1584.7,140.3 1581.1,145.2 1582.4,151.0 1583.3,154.1 1585.6,157.2 1591.4,156.8 1593.6,160.8 1593.6,163.9 1586.9,163.9 1587.8,167.5 1583.8,170.6 1588.1,172.2 1592.7,172.4 1588.3,173.8 1585.1,175.6 1582.4,178.2M1580.2,168.8 1579.3,163.9 1582.0,158.6 1578.0,155.4 1574.2,155.7 1570.4,155.9 1569.1,159.5 1562.4,159.9 1564.6,164.4 1561.5,169.7 1564.6,172.0 1571.3,170.6 1575.8,169.8 1580.2,168.8M1506.6,117.0 1512.1,118.2 1517.7,118.4 1522.2,117.6 1526.6,118.8 1530.1,118.0 1533.6,117.6 1536.8,116.2 1540.0,114.8 1545.8,111.7 1543.0,109.3 1540.9,106.3 1537.0,106.7 1533.3,105.4 1529.0,106.9 1524.4,107.2 1519.9,107.3 1515.5,108.5 1511.9,107.7 1508.8,105.9 1502.1,107.2 1499.9,109.4 1504.2,110.7 1508.8,110.8 1504.1,110.6 1499.9,112.6 1504.3,113.7 1508.8,114.8 1506.6,117.0M49.1,49.1 52.9,50.9 55.4,54.2 59.4,55.3 62.5,58.1 69.1,59.7 75.9,59.4 80.5,56.8 84.8,53.6 91.6,53.4 98.2,52.3 94.7,52.6 91.2,52.2 88.1,50.4 84.8,49.1 88.1,47.7 91.1,45.7 94.7,45.5 98.2,44.7 102.6,43.4 107.1,43.1 111.6,43.5 116.1,43.8 109.4,42.6 102.8,41.2 96.0,41.7 89.3,42.0 85.1,44.1 80.5,44.5 75.9,43.9 71.4,45.1 65.9,46.8 60.2,46.7 54.3,46.6 49.1,49.1M229.9,84.0 234.4,80.4 238.2,78.9 241.0,75.9 244.8,71.9 250.0,70.1 253.3,68.8 256.6,67.3 260.3,66.8 263.4,64.8 268.0,63.7 272.6,64.5 277.2,63.5 281.2,61.2 285.9,61.6 290.5,62.0 295.1,61.1 299.1,58.5 303.5,58.4 308.0,58.5 303.5,61.2 299.0,62.2 294.8,64.1 290.3,65.0 285.7,64.8 281.6,65.5 278.1,67.7 274.1,68.1 270.1,68.3 263.9,69.7 258.9,73.7 256.0,76.9 252.2,79.1 256.7,84.0 254.4,86.7 248.9,86.2 243.3,86.2 238.7,86.4 234.4,84.9 229.9,84.0M209.8,42.4 215.5,41.1 221.2,40.8 226.9,42.2 232.1,44.7 237.9,43.9 243.1,41.1 249.1,40.8 254.4,43.3 260.1,43.6 265.6,42.4 271.3,42.9 276.8,41.5 272.2,41.9 267.8,40.4 263.5,38.7 258.9,38.9 252.1,39.1 245.6,40.9 238.9,39.1 232.1,40.2 226.8,42.4 221.2,43.4 215.5,43.3 209.8,42.4M424.1,49.1 429.9,48.8 435.4,50.7 440.6,53.1 446.4,53.6 452.2,54.1 457.7,55.8 463.6,55.3 468.7,52.3 464.4,49.4 459.8,46.9 455.1,46.7 450.7,45.3 446.1,44.4 441.9,42.4 435.2,41.6 428.5,40.2 425.3,41.7 422.1,43.2 418.7,44.5 415.1,44.7 420.1,45.9 424.1,49.1M611.6,67.0 617.0,69.0 622.9,68.5 628.3,70.1 633.9,71.5 638.6,71.9 643.3,71.4 647.0,68.2 651.7,67.0 656.2,68.2 660.7,68.3 665.1,67.1 669.6,66.1 665.4,63.6 660.7,62.5 654.0,61.2 647.3,61.6 640.5,61.6 633.9,62.5 628.0,63.1 622.2,62.4 617.4,65.9 611.6,67.0M796.8,84.9 802.3,86.6 808.0,85.8 814.7,84.0 808.0,82.2 803.5,83.3 799.0,82.6 796.8,84.9M633.9,196.5 637.2,194.7 640.6,193.0 639.1,188.1 638.3,183.1 645.0,182.2 641.9,178.5 639.7,174.2 639.2,167.5 638.6,163.3 637.0,159.5 633.9,163.0 632.3,167.4 633.0,172.0 634.6,177.4 634.8,183.1 633.9,189.8 633.9,196.5M624.9,216.6 629.4,212.2 633.8,213.6 638.3,214.4 643.6,210.9 649.5,208.6 647.3,204.6 643.7,203.6 640.7,201.5 637.1,200.6 633.9,198.8 633.0,203.3 631.6,207.7 626.3,209.0 626.3,213.0 624.9,216.6M631.6,217.5 631.9,221.8 633.9,225.6 631.6,228.9 629.4,232.3 629.4,239.0 626.3,244.8 620.5,245.7 616.1,247.2 611.6,247.5 609.3,252.4 602.6,251.5 602.6,247.5 598.0,247.2 593.7,248.8 589.1,248.3 584.8,250.1 584.3,247.9 587.8,245.6 591.5,243.4 598.2,243.0 602.5,241.7 607.1,242.1 608.8,238.4 611.6,235.4 618.2,235.4 622.7,230.0 623.1,226.4 624.9,223.3 626.3,218.9 631.6,217.5M584.8,250.6 588.3,254.6 587.0,261.3 583.0,262.6 581.2,258.2 579.0,253.7 582.5,251.0 584.8,250.6M591.5,250.1 595.9,249.3 600.4,249.2 599.5,251.9 595.0,253.7 591.5,254.6 591.5,250.1M542.4,289.4 544.6,292.6 543.3,297.5 540.1,301.5 536.6,299.3 537.9,292.6 542.4,289.4M485.2,316.2 491.0,312.7 495.5,314.5 493.7,317.7 491.0,320.3 485.7,319.4 485.2,316.2M357.1,358.7 360.1,361.0 362.5,364.0 363.7,367.4 365.1,370.7 360.7,375.2 357.1,374.3 357.5,370.2 356.2,366.3 357.2,362.5 357.1,358.7M537.9,319.4 544.6,319.8 545.5,324.0 545.9,328.3 544.3,331.7 542.4,335.0 546.8,339.5 550.1,341.7 553.5,343.9 551.3,344.8 546.8,341.7 540.1,340.8 537.9,336.3 535.7,330.5 536.4,324.9 537.9,319.4M544.6,370.7 547.6,366.9 551.3,363.6 555.2,360.1 560.2,358.7 562.9,362.2 564.7,366.3 563.3,373.0 560.2,376.1 557.3,373.7 553.5,373.0 551.3,368.5 548.2,370.3 544.6,370.7M544.6,355.1 549.1,350.6 553.5,348.4 558.0,346.2 558.9,349.6 560.2,352.9 556.4,354.5 553.5,357.3 550.0,360.5 546.8,358.2 544.6,355.1M523.6,364.0 525.2,360.3 527.6,357.1 530.4,354.1 533.4,351.5 532.5,356.4 529.6,360.4 525.8,363.6 523.6,364.0M486.6,395.3 491.0,394.4 496.8,390.8 500.6,389.2 504.4,387.7 509.8,384.7 513.3,379.7 518.0,375.9 520.9,370.7 525.4,373.9 527.8,376.9 531.2,378.8 526.7,382.8 525.4,388.6 526.7,393.1 531.2,397.5 525.8,398.4 526.1,402.2 524.5,405.6 520.0,408.7 520.5,413.3 518.7,417.6 515.2,418.4 512.0,419.9 508.6,417.3 504.4,416.3 497.7,415.4 494.8,412.5 491.9,409.6 489.4,406.8 486.6,404.2 485.4,399.8 486.6,395.3M425.4,377.0 430.4,377.6 435.2,378.8 437.2,382.5 440.6,385.0 444.0,389.3 448.6,392.2 453.5,397.0 459.8,399.8 460.7,403.6 463.4,406.5 466.4,409.0 468.7,412.3 473.2,416.3 473.9,422.2 472.3,427.9 466.5,427.5 461.4,424.9 457.5,420.8 454.2,416.9 450.9,413.2 448.6,408.4 445.5,404.2 444.1,399.2 440.6,395.3 437.3,390.8 433.0,387.3 429.6,381.8 425.4,377.0M470.0,431.9 473.6,430.8 476.7,428.8 480.6,430.3 484.3,431.9 489.5,431.6 494.6,431.0 499.1,431.1 503.1,433.3 506.9,435.4 511.1,436.4 510.7,440.9 505.2,440.7 500.0,439.1 493.5,436.5 486.6,436.8 481.1,435.5 475.4,435.1 470.0,431.9M533.4,426.6 534.7,420.8 537.0,415.4 533.2,411.5 531.2,406.5 532.9,402.2 535.7,398.4 540.2,398.3 544.6,397.5 550.2,397.4 555.8,396.2 558.0,394.9 555.2,398.2 551.3,400.2 545.3,401.6 539.2,400.2 540.1,406.5 544.6,406.1 549.1,405.6 544.6,410.9 546.2,415.5 548.2,419.9 543.7,422.1 541.7,418.4 540.1,414.5 539.7,420.7 537.5,426.6 533.4,426.6M551.3,448.0 554.8,445.3 558.0,442.2 562.1,439.7 566.9,439.5 562.4,443.5 558.2,446.0 553.5,447.6 551.3,448.0M515.6,439.1 522.3,439.1 526.7,439.4 531.2,440.0 535.7,441.0 540.1,440.0 544.2,439.8 548.2,439.1 544.6,441.8 539.0,440.9 533.4,442.2 527.9,442.3 522.3,442.2 518.7,441.1 515.6,439.1M569.1,394.0 573.6,397.5 572.9,401.0 571.4,404.2 570.0,399.8 569.1,394.0M571.4,415.4 577.0,416.7 582.5,415.4 583.9,418.1 578.8,417.3 573.6,417.6 571.4,415.4M584.8,405.6 591.5,403.8 598.2,405.6 601.0,410.9 602.6,416.7 606.3,412.3 611.6,410.0 616.0,410.5 620.5,410.9 624.8,412.7 629.4,413.6 633.0,414.3 636.2,416.0 639.7,417.0 642.8,419.0 647.2,421.1 650.8,424.3 655.1,427.0 659.8,428.8 656.2,432.4 658.7,436.9 662.9,440.0 668.0,443.8 671.8,448.9 666.1,449.6 660.7,447.6 655.9,444.1 651.7,440.0 647.2,438.4 642.8,436.4 640.3,439.1 638.3,442.2 633.9,443.3 629.4,443.1 625.4,439.7 620.5,437.7 616.0,439.1 617.5,435.9 618.2,432.4 616.0,429.5 613.8,426.6 609.0,425.0 604.9,422.1 599.5,419.6 593.7,419.9 592.8,414.5 598.2,411.8 593.7,412.3 589.2,411.8 587.5,408.3 584.8,405.6M662.9,427.5 666.4,426.4 669.6,424.3 673.9,422.1 678.5,420.8 679.9,424.3 675.2,426.1 671.8,429.7 667.3,428.6 662.9,427.5M691.9,428.8 696.9,431.4 700.8,435.5 706.7,436.5 712.0,439.1 715.5,442.3 718.7,445.8 714.2,444.4 708.9,441.3 703.1,439.1 700.3,436.3 698.7,432.6 695.2,430.9 691.9,428.8M743.7,469.0 746.8,472.6 748.6,475.7 746.4,474.8 743.7,469.0M732.1,492.2 735.7,493.5 738.8,495.8 741.4,499.5 745.5,501.6 741.0,501.2 737.2,499.1 734.3,495.8 732.1,492.2M791.4,480.2 797.3,479.7 797.3,483.3 791.9,482.8 791.4,480.2M506.7,500.3 509.8,499.4 513.3,496.2 517.8,494.9 522.0,492.8 526.7,492.7 533.4,491.3 537.8,488.9 542.4,486.9 544.8,483.9 545.9,480.2 551.3,479.3 554.1,476.8 555.8,473.5 559.6,469.4 562.4,464.5 569.1,464.5 573.6,469.0 579.0,468.6 582.1,463.7 582.5,457.8 586.5,455.9 589.2,452.5 593.7,454.3 598.3,455.0 602.6,456.5 606.6,455.4 610.7,455.6 608.1,458.5 607.1,462.3 605.5,465.5 604.9,469.0 608.7,470.4 611.6,473.5 615.7,477.2 620.5,480.2 627.2,480.2 629.1,474.4 631.6,469.0 631.8,464.5 632.5,460.1 633.9,455.0 636.1,450.2 639.0,453.7 640.6,457.8 641.6,461.9 640.6,465.9 644.8,467.0 648.6,469.0 650.6,474.5 651.7,480.2 652.1,483.8 654.0,486.9 658.9,488.7 662.9,492.2 664.1,496.8 667.4,500.3 670.8,503.2 673.2,507.0 677.2,510.0 680.7,513.7 681.6,518.4 683.9,522.6 683.8,527.2 685.2,531.5 683.8,537.2 682.1,542.7 680.2,547.8 676.3,551.6 674.1,556.1 671.8,560.6 671.0,564.7 669.6,568.6 664.8,569.0 660.7,571.3 657.3,574.3 653.1,576.2 649.6,574.6 646.4,572.6 640.6,575.3 635.4,572.4 629.4,571.7 625.0,568.1 622.7,562.8 617.4,558.3 615.8,553.9 614.7,549.4 612.9,556.1 607.1,557.4 604.9,553.0 601.9,550.2 598.2,548.5 593.0,544.8 587.0,542.7 581.5,544.3 575.8,543.1 572.5,544.3 569.5,546.1 565.9,546.3 562.4,545.8 558.4,548.6 553.5,549.4 551.3,553.4 547.3,553.0 543.5,551.7 539.8,553.6 535.7,553.4 531.5,556.4 526.7,558.3 522.3,557.3 517.8,557.4 513.3,555.2 516.0,550.4 516.5,544.9 514.5,540.6 513.3,536.0 510.5,530.7 508.9,524.8 507.9,521.1 505.3,518.1 508.9,515.9 508.0,512.5 506.7,509.2 506.1,504.7 506.7,500.3M645.9,584.2 649.9,585.4 654.0,585.6 657.9,585.7 661.5,584.2 661.5,590.5 657.5,595.4 651.7,596.3 648.2,590.9 647.3,587.5 645.9,584.2M770.9,555.7 773.9,558.9 778.1,560.6 781.3,562.4 783.4,565.5 787.9,570.4 791.9,569.8 795.9,570.4 794.8,573.8 793.7,577.1 790.1,578.4 787.4,582.0 786.5,586.5 780.3,586.5 781.2,580.7 775.8,577.5 778.5,575.1 779.8,571.7 778.9,565.9 775.8,562.7 773.1,559.2 770.9,555.7M770.9,582.9 774.6,585.1 777.6,588.3 774.6,592.4 771.4,596.3 767.8,598.1 764.2,599.9 762.4,603.0 762.0,606.6 758.5,609.0 754.4,610.1 747.7,608.4 743.2,606.6 747.9,603.2 751.3,598.5 756.5,596.5 761.1,593.2 764.4,591.0 766.9,587.8 770.9,582.9M857.1,109.0 861.7,108.4 866.3,108.2 870.7,106.8 874.9,105.0 879.4,104.3 883.9,103.2 880.4,102.1 877.2,100.5 871.4,98.8 866.0,96.0 869.2,94.5 872.5,93.3 876.0,92.7 879.4,91.6 884.0,90.6 888.7,90.0 892.9,87.7 897.2,85.8 902.6,83.4 908.4,83.5 913.5,82.0 918.6,83.1 923.5,84.7 928.5,85.8 932.9,86.9 937.3,88.1 941.8,87.4 946.3,88.0 952.0,88.4 957.6,87.2 963.0,89.1 968.7,89.3 975.6,88.7 982.1,91.1 986.7,90.6 991.3,90.3 995.9,91.3 999.9,93.8 1006.6,92.9 1013.3,91.6 1017.7,90.5 1022.1,89.6 1026.6,88.6 1031.2,89.3 1035.8,89.8 1040.1,88.0 1043.6,89.1 1046.4,91.3 1049.9,91.5 1053.5,92.0 1060.3,93.0 1066.9,90.7 1071.5,90.1 1076.0,91.4 1080.4,92.7 1084.7,94.2 1088.2,94.3 1091.8,94.4 1095.3,95.1 1098.1,97.4 1093.7,99.2 1099.3,98.3 1104.8,96.6 1110.6,96.4 1116.0,98.7 1120.4,97.1 1124.9,95.6 1131.6,96.5 1138.3,96.0 1145.0,97.4 1151.7,99.2 1156.2,99.1 1160.6,97.9 1165.0,99.2 1169.5,99.2 1174.0,96.0 1177.4,97.0 1180.7,98.3 1179.8,94.8 1178.5,91.6 1183.4,86.8 1187.4,81.3 1191.5,84.8 1196.3,87.1 1200.2,91.3 1205.2,93.8 1209.6,95.3 1214.2,96.0 1219.1,97.4 1223.1,100.5 1228.0,99.1 1232.8,97.6 1236.2,93.6 1241.0,91.6 1245.4,96.0 1243.6,99.6 1241.0,102.7 1234.2,104.1 1227.6,105.9 1223.3,108.4 1218.6,110.3 1216.1,113.0 1214.2,116.1 1207.6,117.9 1200.8,117.5 1196.8,121.4 1191.9,124.2 1189.0,128.4 1185.2,131.8 1185.8,135.6 1185.2,139.4 1188.8,144.3 1194.1,147.4 1199.7,147.6 1205.2,147.4 1209.8,148.3 1214.4,149.3 1218.9,150.7 1223.1,152.8 1226.9,154.1 1231.0,153.7 1235.0,153.8 1238.7,155.4 1238.6,160.6 1241.0,165.3 1244.3,168.6 1247.7,172.0 1254.4,172.0 1253.6,166.4 1254.4,160.8 1257.5,158.9 1259.7,155.9 1262.3,153.2 1263.3,149.6 1260.3,144.5 1256.6,139.8 1259.6,137.5 1261.0,134.0 1258.9,129.1 1258.8,123.7 1263.3,124.2 1267.7,123.6 1272.2,124.4 1276.7,123.7 1281.2,125.2 1285.1,128.1 1289.6,130.0 1294.5,129.5 1294.9,134.2 1296.8,138.5 1302.0,141.2 1307.9,141.6 1311.5,136.7 1316.8,134.0 1321.1,137.1 1325.4,140.3 1328.0,145.1 1332.5,148.3 1335.3,150.4 1338.8,151.2 1341.7,153.4 1343.6,156.3 1347.1,158.6 1351.0,159.7 1353.4,163.2 1357.0,165.3 1358.4,172.0 1353.0,171.8 1348.1,174.2 1343.6,175.8 1339.2,177.8 1334.5,177.7 1330.3,175.6 1325.9,176.8 1321.3,177.3 1317.9,178.1 1314.7,179.8 1311.5,181.2 1307.9,181.3 1302.9,183.6 1299.0,187.6 1302.6,187.1 1305.6,185.2 1308.9,183.8 1312.4,183.1 1319.1,183.1 1314.6,188.5 1317.3,191.6 1319.1,195.2 1324.5,196.9 1330.2,197.0 1334.8,197.8 1339.2,196.5 1334.7,199.7 1331.3,200.7 1328.4,202.8 1324.9,203.7 1321.3,203.2 1316.8,204.8 1312.4,206.8 1312.4,202.3 1315.8,201.0 1319.1,199.2 1313.6,200.9 1307.9,201.0 1303.6,203.5 1299.0,205.5 1295.9,207.7 1292.3,208.6 1291.0,214.4 1294.5,215.7 1287.8,217.5 1282.5,219.9 1276.7,220.7 1275.8,225.6 1273.2,228.2 1270.0,230.0 1268.7,233.3 1267.7,236.7 1269.1,243.4 1266.0,245.4 1263.3,247.9 1259.2,250.8 1254.4,252.4 1250.7,256.9 1245.4,259.1 1244.6,262.5 1243.2,265.8 1244.9,271.6 1247.7,276.9 1249.5,281.2 1249.9,285.9 1247.7,289.4 1243.2,286.8 1239.9,282.6 1237.4,277.8 1237.8,272.5 1234.6,270.7 1232.0,268.0 1225.3,269.3 1220.0,267.1 1214.2,266.7 1207.5,267.1 1208.8,272.0 1204.8,271.5 1200.8,271.1 1193.9,272.0 1187.4,269.8 1182.4,273.8 1176.2,275.6 1172.7,281.4 1172.5,285.9 1171.8,290.3 1171.0,295.9 1170.4,301.5 1171.9,306.1 1174.0,310.4 1176.9,313.3 1178.5,317.1 1182.1,318.3 1185.2,320.7 1190.8,320.4 1196.3,318.9 1199.1,316.8 1202.1,314.9 1203.5,308.2 1208.7,306.5 1214.2,306.0 1218.6,306.9 1217.9,311.0 1216.4,314.9 1214.2,319.4 1212.0,323.6 1211.9,328.3 1211.1,331.4 1217.1,330.6 1223.1,331.0 1227.5,332.0 1232.0,332.8 1235.2,335.9 1235.1,341.1 1234.3,346.2 1233.4,352.9 1235.5,355.7 1237.4,358.7 1241.0,361.8 1246.3,362.7 1252.1,359.6 1258.8,360.5 1261.9,364.0 1259.3,369.8 1257.5,365.4 1252.1,362.2 1248.5,365.4 1249.9,368.9 1245.4,369.4 1241.0,365.4 1236.5,364.9 1233.4,362.7 1228.5,358.2 1224.0,356.4 1224.0,352.0 1221.9,348.3 1218.6,345.7 1215.1,343.0 1211.4,341.4 1207.5,341.7 1202.9,340.9 1198.6,339.5 1193.5,336.4 1189.6,331.9 1185.2,329.6 1181.7,330.4 1178.5,331.9 1173.8,331.2 1169.5,329.2 1164.7,328.8 1160.6,326.1 1156.6,322.9 1151.7,321.6 1147.1,319.5 1142.8,317.1 1139.9,313.7 1136.1,311.3 1137.0,305.1 1134.1,301.2 1131.6,297.0 1128.9,293.0 1124.9,290.3 1121.5,287.1 1118.2,283.6 1113.7,279.2 1109.8,276.4 1107.0,272.5 1103.7,268.6 1102.6,263.5 1098.6,261.9 1094.5,260.4 1094.5,264.2 1095.0,268.0 1097.1,271.5 1100.3,273.8 1103.8,277.0 1105.7,281.4 1108.4,285.4 1111.5,289.0 1114.6,294.8 1118.2,298.4 1115.1,299.3 1110.8,295.7 1107.0,291.7 1105.7,285.9 1101.5,283.2 1097.2,280.5 1095.9,274.7 1092.4,271.9 1090.1,268.0 1086.8,262.7 1084.7,256.8 1081.4,253.4 1078.0,250.1 1073.6,248.0 1068.7,247.9 1064.5,243.4 1062.4,237.6 1060.2,233.2 1056.8,228.3 1053.5,223.3 1053.7,218.8 1052.6,214.4 1054.4,208.9 1053.5,203.2 1052.8,199.2 1053.5,195.2 1051.0,190.8 1050.4,185.8 1055.1,187.8 1060.2,187.6 1058.8,183.1 1054.5,179.7 1049.0,178.7 1043.4,176.5 1037.9,174.2 1036.0,171.1 1035.6,167.5 1031.9,163.2 1026.7,160.8 1024.3,157.6 1022.2,154.1 1019.5,150.5 1015.5,148.3 1012.4,145.0 1008.8,142.0 1003.4,140.4 997.7,140.7 994.1,140.2 991.0,138.5 986.8,136.2 982.1,135.3 977.5,135.3 973.1,134.0 966.4,133.7 959.7,132.7 953.2,130.3 946.3,130.4 942.0,128.8 937.4,128.6 934.3,130.8 930.7,131.8 930.7,137.1 926.3,137.8 921.8,137.1 919.6,142.9 914.1,145.5 908.4,147.4 903.9,149.6 899.5,151.9 894.0,154.0 888.3,155.4 884.1,157.4 879.4,157.7 875.4,158.4 871.4,158.1 877.9,156.4 883.9,153.2 888.7,152.3 892.8,149.6 896.6,145.9 901.7,144.3 903.9,139.4 897.2,140.3 891.0,139.8 884.7,139.8 883.9,134.9 878.5,132.6 872.7,131.8 868.7,129.9 866.0,126.4 868.7,123.9 870.5,120.6 875.8,118.4 881.6,118.4 885.1,116.5 888.3,114.3 883.9,114.0 879.4,113.9 875.5,113.4 871.6,112.9 867.7,112.1 863.8,113.0 860.2,111.3 857.1,109.0M1055.7,185.8 1049.0,184.0 1044.1,182.0 1040.1,178.7 1034.3,175.1 1039.5,175.4 1044.5,176.9 1047.9,179.1 1051.2,181.3 1055.7,185.8M1021.3,169.7 1018.2,167.3 1015.5,164.4 1013.3,160.4 1018.7,160.8 1020.0,166.2 1021.3,169.7M917.3,147.4 924.0,146.1 927.6,142.9 921.8,142.9 917.3,145.2 917.3,147.4M1342.3,189.4 1347.4,188.2 1352.6,189.4 1356.2,190.6 1359.3,193.0 1363.8,192.4 1368.2,193.4 1371.8,189.8 1368.2,185.4 1368.2,181.8 1364.0,179.7 1359.3,179.6 1357.0,175.1 1358.8,172.0 1352.6,174.2 1350.0,177.3 1348.1,180.9 1344.6,183.2 1342.3,186.7 1342.3,189.4M1319.1,179.1 1324.9,179.7 1330.2,182.2 1331.1,180.9 1326.4,179.1 1321.3,178.7 1319.1,179.1M1228.0,304.2 1231.8,300.9 1236.5,299.3 1241.0,299.1 1245.4,298.8 1249.8,300.5 1254.4,301.5 1259.0,303.4 1263.3,306.0 1267.4,308.6 1272.2,309.5 1275.8,311.8 1270.0,313.1 1265.5,313.0 1261.0,313.1 1258.8,309.5 1255.6,307.4 1252.1,305.5 1247.9,303.5 1243.2,303.3 1236.5,303.7 1232.3,304.8 1228.0,304.2M1274.9,319.8 1278.9,317.3 1281.1,313.1 1287.8,313.1 1291.5,314.7 1295.4,315.8 1301.7,318.9 1299.0,320.3 1292.3,320.3 1286.9,322.5 1281.1,320.7 1274.9,319.8M1257.5,320.3 1263.3,319.4 1266.9,321.6 1262.4,322.5 1257.5,320.3M1307.0,319.8 1313.7,319.8 1313.3,321.6 1307.0,321.6 1307.0,319.8M1258.8,283.6 1262.4,283.2 1262.4,285.9 1258.8,283.6M1257.9,291.2 1260.2,293.9 1259.7,290.3 1257.9,291.2M1331.1,354.2 1335.1,353.8 1334.7,356.9 1331.1,356.9 1331.1,354.2M910.6,317.1 915.1,314.9 914.2,311.8 910.6,312.7 910.6,317.1M907.5,308.6 910.6,309.1 909.3,310.0 907.5,308.6M900.8,306.0 903.0,306.4 901.7,306.9 900.8,306.0M894.1,303.3 895.9,303.3 895.0,304.2 894.1,303.3M1196.3,193.4 1200.7,191.4 1205.2,189.8 1208.9,188.6 1211.9,186.3 1217.6,186.2 1223.1,187.6 1225.4,190.6 1228.9,192.1 1228.9,194.3 1223.8,194.1 1218.6,194.3 1214.1,194.0 1209.7,193.0 1203.0,192.3 1196.3,193.4M1215.1,214.4 1220.9,214.4 1221.2,209.9 1221.8,205.5 1224.0,201.0 1227.6,197.4 1228.9,197.4 1223.1,199.7 1218.6,197.4 1214.2,201.9 1214.4,205.6 1215.5,209.0 1215.1,214.4M1229.8,196.5 1235.4,195.2 1241.0,196.5 1245.1,199.5 1249.9,201.0 1249.9,203.2 1246.4,206.4 1242.3,208.6 1238.7,209.9 1234.3,205.5 1235.2,200.1 1229.8,196.5M1234.3,215.7 1241.0,216.6 1245.5,215.4 1249.9,213.5 1254.8,210.8 1251.1,210.4 1247.7,211.7 1243.1,212.9 1238.7,214.4 1234.3,215.7M1250.8,208.6 1257.0,209.1 1263.3,208.6 1266.9,207.3 1265.5,204.6 1258.8,205.9 1254.9,207.6 1250.8,208.6M1167.3,176.4 1174.0,176.4 1174.3,172.8 1176.2,169.7 1171.9,166.5 1169.5,161.7 1165.1,164.4 1167.9,167.1 1169.5,170.6 1167.3,176.4M1057.9,110.8 1064.6,111.6 1071.3,111.7 1075.7,109.3 1080.3,107.2 1075.8,102.7 1071.3,103.8 1066.9,105.0 1059.9,104.7 1053.5,107.2 1057.9,110.8M1084.7,129.5 1089.2,128.7 1093.7,129.5 1098.9,126.5 1104.8,125.1 1111.7,123.8 1118.2,121.5 1111.5,121.0 1108.4,122.8 1105.1,124.0 1101.6,124.6 1098.1,123.7 1093.0,127.0 1087.0,127.3 1084.7,129.5M1249.9,72.8 1256.6,72.8 1263.3,73.7 1267.7,76.8 1272.4,77.4 1277.1,78.2 1280.9,81.2 1285.6,82.2 1289.8,84.4 1294.4,85.5 1299.1,86.1 1303.5,88.0 1305.6,91.0 1307.9,93.8 1313.5,96.8 1319.9,97.2 1325.9,99.4 1330.2,104.1 1325.6,106.5 1321.3,109.4 1319.1,113.9 1316.8,118.4 1310.4,121.2 1303.5,121.5 1307.5,124.3 1312.4,125.1 1306.7,124.8 1301.0,124.8 1295.4,123.4 1290.1,121.5 1285.7,120.9 1281.6,119.1 1277.4,117.3 1274.4,113.9 1270.4,114.2 1266.6,115.5 1262.5,115.7 1258.8,113.9 1261.0,109.4 1264.9,109.8 1268.9,110.0 1272.8,110.6 1276.7,109.4 1280.0,104.3 1281.1,98.3 1277.7,97.3 1274.8,95.1 1271.2,95.0 1267.7,93.8 1264.4,92.7 1260.9,91.9 1257.6,90.6 1254.4,89.3 1248.7,89.6 1243.2,90.7 1237.7,89.1 1232.0,89.3 1227.5,90.7 1222.8,90.5 1218.3,89.2 1214.2,87.1 1210.0,83.4 1205.2,80.4 1207.6,77.1 1209.7,73.7 1214.1,72.6 1218.6,72.3 1223.1,71.3 1227.6,72.4 1233.0,74.0 1238.7,73.4 1244.3,73.9 1249.9,72.8M1084.7,89.3 1089.4,89.7 1093.5,92.1 1098.1,92.1 1102.6,92.9 1108.4,92.7 1114.0,90.9 1119.2,93.4 1124.9,94.7 1129.3,96.2 1133.9,96.1 1138.4,95.6 1142.8,94.2 1146.2,93.2 1149.7,93.1 1153.0,91.7 1156.1,90.2 1152.7,89.1 1149.4,87.7 1146.3,85.8 1142.8,84.9 1141.0,80.6 1138.3,76.8 1131.6,76.1 1124.9,75.0 1120.5,76.2 1116.1,77.4 1111.6,77.9 1107.0,77.3 1100.1,77.3 1093.7,74.6 1087.2,77.3 1080.3,78.2 1084.7,83.5 1084.7,89.3M1049.0,81.7 1053.6,82.3 1057.8,84.0 1062.4,83.8 1066.9,84.9 1070.7,84.5 1074.4,83.1 1077.9,81.3 1080.3,78.2 1084.5,75.7 1089.2,74.6 1084.7,70.6 1080.5,68.8 1075.9,68.1 1071.4,69.1 1066.9,69.2 1062.8,70.0 1059.3,72.3 1055.3,72.3 1051.2,71.5 1049.0,76.8 1049.0,81.7M1205.2,61.2 1210.9,60.8 1216.4,59.7 1222.2,59.2 1227.6,61.2 1232.8,63.7 1238.7,63.8 1244.1,61.7 1249.9,61.6 1253.0,59.3 1256.8,58.7 1259.7,56.2 1263.3,54.9 1267.0,54.6 1270.3,52.7 1273.3,50.7 1276.7,49.1 1283.3,47.0 1290.3,47.4 1293.7,46.1 1296.4,43.7 1300.0,44.3 1303.5,43.3 1308.2,42.0 1313.1,42.9 1317.4,40.8 1321.3,38.0 1325.7,35.7 1330.2,33.5 1326.2,31.1 1321.6,30.7 1316.9,30.9 1312.6,29.2 1308.0,30.0 1303.4,29.3 1299.2,31.2 1294.5,31.3 1289.9,31.3 1285.7,29.2 1281.2,28.5 1276.7,29.4 1272.1,30.2 1268.0,32.4 1263.4,31.5 1258.8,31.3 1253.9,29.6 1248.7,29.7 1243.6,29.0 1238.4,29.1 1233.8,31.3 1228.7,32.4 1223.9,34.5 1218.6,34.4 1214.0,34.7 1209.8,36.5 1205.2,36.5 1200.8,38.0 1203.6,40.5 1207.1,41.7 1210.9,41.9 1214.2,43.8 1220.8,45.6 1227.6,46.9 1223.4,50.2 1218.6,52.7 1214.2,57.2 1210.0,59.9 1205.2,61.2M1196.3,68.3 1200.7,66.5 1205.3,66.9 1209.9,67.5 1214.2,69.2 1218.7,70.1 1223.2,69.3 1227.6,70.6 1232.1,71.4 1236.6,70.1 1241.1,71.1 1245.5,69.7 1249.9,68.8 1249.9,64.8 1244.3,65.7 1238.6,65.8 1233.0,65.1 1227.6,63.4 1221.9,62.4 1216.4,64.0 1210.8,63.3 1205.2,62.5 1200.8,63.8 1196.3,64.8 1196.3,68.3M1178.5,46.9 1183.0,48.2 1187.5,49.3 1192.1,50.1 1196.3,52.3 1200.7,53.5 1205.3,53.1 1209.6,51.3 1214.2,51.4 1218.6,46.0 1214.2,44.1 1209.5,43.8 1204.8,42.8 1200.8,40.2 1196.3,41.2 1191.8,39.9 1187.5,41.4 1182.9,41.5 1178.5,46.9M1084.7,66.1 1090.2,67.6 1095.7,69.2 1101.4,70.1 1107.0,69.2 1112.9,69.1 1118.5,70.9 1123.9,68.9 1129.4,67.0 1133.8,62.5 1129.3,63.7 1124.7,64.2 1120.6,61.9 1116.0,61.2 1109.3,62.2 1102.6,61.5 1095.9,60.0 1089.2,61.6 1084.7,66.1M1180.7,79.5 1186.3,79.3 1191.9,80.4 1194.7,78.1 1198.2,77.2 1201.8,76.8 1205.2,75.9 1200.8,71.5 1196.2,72.0 1191.9,70.5 1187.3,70.3 1182.9,71.5 1181.8,75.5 1180.7,79.5M1151.7,82.6 1156.2,82.9 1160.6,83.5 1165.0,82.8 1169.5,82.6 1172.3,79.6 1174.0,75.9 1167.4,73.7 1160.6,72.4 1156.3,74.5 1151.7,75.9 1151.7,82.6M1218.6,118.4 1222.0,119.8 1224.9,122.0 1228.4,123.1 1232.0,122.8 1235.7,120.9 1239.4,118.9 1243.5,118.4 1247.7,118.4 1243.2,113.9 1238.1,110.5 1232.0,109.4 1227.4,109.9 1223.1,108.1 1221.7,113.6 1218.6,118.4M1142.8,66.1 1149.4,67.8 1156.1,69.2 1162.9,69.0 1169.5,67.0 1174.0,62.5 1167.1,61.9 1160.6,59.4 1156.1,59.4 1151.7,60.5 1147.2,60.5 1142.8,61.2 1142.8,66.1M1406.1,134.4 1410.5,133.4 1415.1,133.1 1416.9,128.9 1419.5,125.1 1422.1,120.0 1426.2,116.1 1432.4,113.8 1437.4,109.4 1440.8,108.1 1444.5,107.7 1447.8,106.2 1451.2,105.0 1454.1,102.6 1457.0,100.3 1460.6,99.5 1464.2,98.3 1469.8,97.5 1475.5,98.6 1480.9,97.0 1486.5,96.0 1490.6,92.3 1495.9,91.0 1501.2,89.9 1506.6,89.3 1503.1,87.2 1499.9,84.9 1504.6,83.3 1508.8,80.4 1504.4,78.0 1499.9,75.9 1504.4,74.0 1508.1,70.8 1513.0,70.5 1517.7,69.2 1519.9,65.8 1522.2,62.5 1518.2,59.4 1513.3,58.1 1516.5,56.5 1519.6,54.9 1523.2,54.5 1526.6,53.6 1523.7,49.5 1522.2,44.7 1525.9,43.2 1529.8,42.0 1533.7,41.2 1537.5,39.7 1541.6,39.4 1545.3,37.3 1549.4,37.0 1553.4,38.0 1549.1,36.6 1544.6,36.0 1540.2,34.8 1535.7,35.0 1531.2,35.6 1526.7,35.8 1522.2,35.8 1517.7,35.7 1513.1,31.9 1507.3,30.7 1501.4,30.9 1496.0,28.4 1490.3,27.2 1484.5,26.3 1479.0,28.7 1473.1,29.0 1467.4,29.6 1462.1,31.8 1456.3,31.5 1450.9,33.7 1445.3,32.6 1439.7,31.6 1434.0,32.2 1428.4,30.4 1422.7,30.8 1417.1,31.7 1411.7,33.7 1406.4,35.9 1400.8,34.9 1395.1,35.2 1389.4,34.3 1383.8,33.5 1378.3,34.9 1373.0,37.1 1367.3,36.3 1361.6,37.5 1356.1,36.4 1350.5,35.3 1344.8,35.8 1339.2,35.7 1333.4,36.3 1328.2,39.0 1322.4,38.8 1316.8,40.2 1312.4,42.4 1307.9,44.7 1314.8,44.6 1321.3,46.9 1316.7,46.3 1312.3,47.9 1308.2,50.0 1303.7,50.7 1299.2,49.6 1294.6,49.4 1290.1,50.6 1285.6,51.4 1285.6,55.8 1290.2,57.2 1295.1,57.7 1299.1,60.4 1303.5,62.5 1307.8,64.1 1312.4,64.5 1317.1,64.9 1321.3,66.9 1326.1,66.5 1330.0,63.9 1334.5,62.9 1339.2,62.5 1343.4,65.3 1348.1,67.0 1351.9,69.4 1355.9,71.2 1359.4,74.1 1361.5,78.2 1361.5,82.9 1363.7,87.1 1367.9,87.2 1372.0,87.7 1375.4,90.2 1379.3,91.6 1374.0,95.3 1368.2,98.3 1368.2,103.0 1370.4,107.2 1373.1,112.2 1377.1,116.1 1379.2,119.5 1382.0,122.4 1385.0,125.1 1388.3,127.3 1392.8,128.9 1397.2,130.9 1401.9,132.0 1406.1,134.4M1261.9,364.0 1267.7,361.8 1268.1,358.2 1270.0,355.1 1274.4,352.9 1278.6,350.1 1283.4,348.4 1287.8,346.6 1286.5,352.9 1288.7,353.8 1288.9,357.3 1288.7,360.9 1290.1,355.1 1294.5,350.6 1294.5,347.5 1298.4,348.7 1301.2,351.5 1304.6,352.9 1307.9,354.7 1313.5,355.3 1319.1,356.4 1324.8,355.9 1330.2,354.2 1328.0,358.2 1334.7,359.6 1339.2,364.0 1342.8,367.1 1345.9,370.7 1349.5,372.6 1352.6,375.2 1357.0,374.6 1361.5,375.2 1365.8,376.9 1370.4,377.4 1373.3,380.4 1377.1,381.9 1379.3,387.5 1381.6,393.1 1383.2,396.3 1383.8,399.8 1379.3,402.0 1386.0,402.9 1389.2,404.8 1392.7,405.6 1397.2,406.2 1401.7,407.4 1406.6,410.0 1410.6,414.1 1416.3,413.4 1421.7,415.0 1427.1,417.5 1432.9,418.5 1436.9,421.9 1441.8,423.9 1445.6,425.0 1449.4,425.7 1450.6,430.6 1451.7,435.5 1450.4,439.9 1449.4,444.4 1446.3,449.4 1441.8,453.4 1437.7,455.9 1435.1,460.1 1434.4,464.6 1432.9,469.0 1432.1,474.6 1432.0,480.2 1429.9,484.4 1429.3,489.1 1425.9,493.1 1424.0,498.0 1421.8,501.4 1419.5,504.7 1415.1,505.7 1410.6,505.6 1405.0,507.7 1399.4,510.1 1395.7,515.0 1390.5,518.1 1389.3,522.5 1389.6,527.1 1386.5,532.9 1382.5,538.2 1377.5,541.3 1374.0,545.8 1371.6,550.2 1368.2,553.9 1365.0,556.1 1361.5,557.9 1356.9,557.6 1352.6,556.1 1346.3,553.9 1349.2,558.2 1351.7,562.8 1351.4,567.9 1349.4,572.6 1344.7,575.5 1339.2,575.8 1334.3,575.2 1329.3,575.8 1329.5,579.4 1328.9,582.9 1323.0,584.8 1316.8,585.1 1319.4,588.3 1321.3,591.8 1318.4,594.1 1315.5,596.3 1314.6,603.0 1310.2,605.4 1305.7,607.5 1308.8,611.1 1312.4,614.2 1308.7,617.9 1305.7,622.2 1302.5,625.1 1299.0,627.6 1299.2,631.8 1301.2,635.6 1296.6,635.7 1292.3,637.4 1296.8,641.0 1301.7,642.2 1305.7,645.4 1310.7,646.8 1316.0,646.3 1310.2,648.6 1304.5,647.6 1299.0,649.0 1293.8,645.3 1287.8,643.2 1283.0,641.8 1278.9,638.7 1276.1,634.8 1272.2,632.0 1271.5,626.4 1270.0,620.9 1268.7,616.0 1270.0,611.0 1272.3,606.2 1276.7,603.0 1280.2,597.9 1281.1,591.8 1279.8,588.4 1278.0,585.1 1277.9,580.6 1278.9,576.2 1278.6,571.6 1280.2,567.3 1281.0,562.5 1283.4,558.3 1284.8,552.4 1287.8,547.2 1288.6,541.6 1287.8,536.0 1288.6,531.4 1290.1,527.1 1290.0,520.2 1292.3,513.7 1294.4,507.1 1293.6,500.3 1294.5,496.4 1294.6,492.4 1294.0,488.5 1293.2,484.6 1290.0,482.4 1287.8,479.3 1283.8,476.1 1278.9,474.8 1274.6,471.7 1270.0,469.0 1266.4,463.6 1265.0,459.3 1262.4,455.6 1259.9,450.9 1256.6,446.7 1255.3,441.7 1252.1,437.7 1250.5,433.6 1247.7,430.1 1244.1,424.3 1245.4,419.9 1249.9,416.7 1246.8,412.3 1247.7,406.5 1249.4,403.3 1249.9,399.8 1254.4,395.3 1256.6,390.8 1261.0,386.4 1260.8,381.8 1261.9,377.4 1261.0,370.7 1259.3,369.8 1261.9,364.0M1334.7,632.0 1341.4,631.1 1345.1,632.3 1349.0,632.5 1343.6,635.6 1339.6,635.1 1335.6,634.3 1334.7,632.0M1300.8,636.9 1302.1,640.1 1310.2,645.0 1316.0,646.3M1437.4,643.2 1444.1,644.1 1447.2,646.8 1441.8,645.0 1437.4,643.2M307.1,620.9 313.8,621.3 312.5,623.5 308.0,623.5 307.1,620.9M1199.4,403.3 1201.7,404.7 1199.9,406.5 1199.4,403.3M246.9,495.4 249.1,496.2 247.7,497.1 246.9,495.4M256.2,491.3 258.0,492.2 256.7,493.6 256.2,491.3M237.9,345.7 243.3,346.2 240.2,347.1 237.9,345.7M144.2,245.7 149.5,244.3 154.5,243.0 151.8,245.7 147.3,247.5 144.2,245.7M104.9,243.4 111.6,243.9 117.4,244.8 111.6,245.7 104.9,244.8 104.9,243.4M55.8,232.3 59.4,232.2 62.8,233.2 66.1,231.6 69.6,231.4 68.4,234.7 67.4,238.1 61.4,236.8 55.8,234.1 55.8,232.3M36.6,218.9 43.3,218.9 43.1,222.9 42.9,226.9 37.9,227.8 36.2,223.5 36.6,218.9M38.8,212.2 42.0,209.9 42.4,216.6 39.3,216.6 38.8,212.2M10.7,225.6 14.3,223.8 14.3,226.0 10.7,225.6M1532.0,275.6 1534.7,274.7 1533.3,276.9 1532.0,275.6M1543.6,274.3 1546.3,272.5 1545.0,276.0 1543.6,274.3M1491.8,233.2 1494.5,233.2 1493.2,233.6 1491.8,233.2M1501.2,334.1 1502.5,335.0 1501.7,335.4 1501.2,334.1M1566.8,84.9 1571.3,84.4 1569.1,85.3 1566.8,84.9M1574.9,124.2 1578.0,124.2 1576.6,126.0 1574.9,124.2M1600.3,131.8 1602.5,132.2 1601.2,134.0 1600.3,131.8M81.2,146.5 84.8,143.4 83.9,146.1 81.2,146.5M137.5,134.0 141.3,133.5 145.1,133.1 146.4,129.5 142.2,128.9 138.4,126.9 133.9,129.5 137.5,134.0M154.0,129.5 160.7,129.5 160.7,125.1 156.2,122.8 154.0,126.0 154.0,129.5M215.6,93.8 221.0,94.7 222.3,92.5 217.8,91.6 215.6,93.8M854.8,163.9 861.5,162.6 863.8,160.8 860.4,161.9 857.1,163.0 854.8,163.9M828.1,169.3 837.0,168.4 830.3,169.7 828.1,169.3M813.3,171.1 819.1,170.2 816.9,171.5 813.3,171.1M770.0,165.7 774.5,166.2 772.3,165.3 770.0,165.7M840.1,118.8 846.4,119.3 852.6,119.7 853.5,118.8 849.7,118.1 845.9,117.5 840.1,118.8M860.2,134.0 866.0,134.9 867.3,132.7 862.4,132.7 860.2,134.0M651.7,203.2 655.4,202.3 658.4,200.1 662.9,198.8 659.9,201.2 656.2,201.9 651.7,203.2M669.6,196.5 673.2,195.3 676.3,193.0 678.5,191.2 675.2,193.0 671.8,194.7 669.6,196.5M687.4,183.1 690.9,180.6 694.1,177.8 696.4,176.0 691.0,180.5 687.4,183.1M680.7,189.8 684.3,186.7 682.1,188.9 680.7,189.8M570.0,285.4 572.7,282.3 570.9,284.5 570.0,285.4M413.8,350.6 415.1,342.6 414.7,348.4 413.8,350.6M470.9,409.6 475.4,413.2 473.2,415.4 470.9,409.6M673.2,414.1 678.5,416.7 683.0,422.1 680.7,419.9 677.2,416.6 673.2,414.1M690.6,426.6 695.5,431.0 693.2,431.5 690.6,426.6M836.1,462.3 839.2,463.6 837.0,463.6 836.1,462.3M939.2,480.2 941.0,481.1 939.6,481.5 939.2,480.2M817.8,597.6 820.5,598.5 818.7,599.0 817.8,597.6M747.7,611.0 750.8,611.9 748.6,613.3 747.7,611.0M609.8,561.5 615.1,561.9 612.4,562.8 609.8,561.5M581.6,452.5 587.0,452.9 583.9,454.7 581.6,452.5M1275.8,589.6 1278.9,590.9 1278.0,595.9 1275.3,594.1 1275.8,589.6M142.8,400.7 146.9,401.4 150.9,400.7 152.7,406.5 151.3,409.9 149.5,413.2 142.8,413.2 141.5,406.5 142.8,400.7M130.3,417.6 132.6,422.1 134.6,426.5 136.1,431.0 136.2,435.8 138.4,440.0 136.1,440.9 133.3,436.3 132.6,431.0 131.8,426.5 130.3,422.1 130.3,417.6M151.8,444.4 152.9,447.9 154.5,451.1 156.4,455.4 156.2,460.1 157.1,465.9 154.9,464.5 154.3,460.0 153.1,455.6 151.8,448.9 151.8,444.4M0.0,713.8 5.4,715.4 11.1,715.7 16.7,714.9 22.3,715.6 27.8,717.3 33.6,717.6 38.9,715.2 44.6,714.7 49.9,712.3 55.7,712.6 61.3,713.3 67.0,712.4 72.2,715.0 77.8,716.3 83.7,716.6 89.3,714.7 94.8,715.7 100.4,715.4 106.1,714.5 111.6,716.0 117.2,715.2 122.7,713.7 128.4,713.2 133.9,711.5 140.9,711.6 147.3,708.9 152.1,709.1 156.2,711.5 162.8,713.4 169.6,713.8 174.2,712.3 178.6,710.2 184.0,708.3 189.5,706.6 195.4,707.0 200.9,704.8 206.7,703.7 212.6,704.0 218.5,702.8 223.2,699.0 229.8,697.2 236.6,696.4 241.0,697.7 245.5,698.0 250.2,697.8 254.4,699.9 261.1,701.6 267.8,703.1 273.6,702.7 278.9,705.1 284.6,704.9 290.2,703.9 296.9,703.4 303.5,704.8 308.1,706.3 312.5,708.0 317.0,710.0 321.4,712.4 316.9,716.9 321.4,715.9 325.9,714.7 330.5,714.3 334.8,712.4 338.3,711.5 341.2,709.5 344.5,708.0 348.2,708.0 352.9,707.2 357.1,704.8 362.5,702.9 368.2,702.0 373.9,701.9 379.4,700.4 385.0,699.3 390.6,700.2 396.2,701.1 401.8,699.9 407.3,699.0 412.9,698.2 418.6,697.3 424.1,699.0 429.6,697.9 435.2,697.5 440.8,696.9 446.4,695.9 451.8,697.9 457.2,700.2 463.0,700.2 468.7,699.0 474.3,698.1 479.9,699.3 485.6,699.3 491.0,697.7 496.6,698.5 502.1,700.1 507.8,700.0 513.3,699.0 519.0,699.3 524.6,698.7 530.2,699.3 535.7,700.4 541.2,699.2 546.8,698.6 552.3,699.7 558.0,699.0 563.7,699.4 569.1,697.2 574.7,698.3 580.3,697.7 585.9,697.9 591.5,697.7 597.0,696.7 602.6,696.8 608.4,696.7 613.7,699.1 619.2,700.9 624.9,699.9 630.3,702.0 635.9,702.9 641.6,703.7 647.3,702.6 653.1,701.9 659.0,702.2 664.1,704.9 669.6,707.1 675.3,710.1 681.7,710.1 687.9,711.2 694.1,710.2 697.7,712.9 702.0,713.8 706.0,715.7 710.3,716.5 714.7,716.6 718.9,715.4 723.2,716.7 727.6,716.0 732.0,716.1 736.1,717.3 740.6,717.3 744.5,719.3 748.9,720.2 752.8,722.3 757.1,721.3 761.5,721.8 757.5,724.7 753.1,727.1 748.1,727.1 743.2,728.1 738.7,732.4 733.4,735.7 731.9,742.0 727.6,746.8 725.0,749.3 722.7,752.0 719.2,753.0 716.5,755.3 714.2,759.3 713.8,763.8 716.9,766.0 720.5,767.1 724.2,768.0 727.6,769.6 734.1,767.7 740.8,768.7 747.5,770.2 752.8,774.4 759.3,773.9 765.7,773.1 771.9,775.3 778.5,775.0 789.1,776.6 799.6,778.7 809.3,783.9 820.2,784.2 831.0,786.1 841.6,783.5 851.9,779.7 862.9,780.8 869.3,784.3 876.1,787.2 883.5,787.7 890.7,789.0 898.2,788.1 905.5,790.0 913.1,789.3 919.6,785.2 924.0,783.6 928.8,783.1 933.3,784.4 937.9,785.4 942.5,786.1 947.2,786.0 952.0,785.8 956.2,783.5 953.1,780.6 949.3,778.8 945.9,776.2 941.9,775.0 936.4,773.7 930.8,772.9 925.1,773.3 919.6,772.3 921.3,768.2 922.2,763.8 926.5,764.8 930.8,765.1 935.0,764.0 939.3,763.3 943.6,763.3 947.9,763.6 951.8,761.6 956.2,761.1 950.1,758.5 943.7,757.0 937.4,754.8 930.7,755.3 927.1,754.6 923.5,755.6 920.0,754.2 916.3,754.7 912.5,754.8 908.9,753.8 905.3,752.6 902.6,750.0 908.0,746.8 911.5,746.4 915.0,747.0 918.6,746.6 922.1,746.7 925.7,747.4 929.3,746.5 932.9,746.0 936.1,744.1 940.2,742.7 944.5,742.6 948.9,742.6 953.0,741.5 958.7,743.1 964.5,742.1 970.0,740.1 975.8,739.7 980.9,739.3 985.6,737.2 989.9,734.3 995.0,733.6 999.9,735.3 1005.0,735.6 1010.0,736.2 1015.1,735.7 1021.7,735.9 1028.3,736.5 1034.8,738.0 1040.5,741.5 1044.2,736.8 1049.0,733.3 1054.8,732.3 1060.2,729.9 1063.3,731.7 1066.7,733.1 1070.1,734.6 1073.9,734.3 1077.5,733.5 1081.1,734.4 1084.7,733.9 1088.3,734.8 1094.3,734.3 1099.9,736.3 1105.7,735.5 1111.1,733.0 1114.3,734.5 1117.9,735.2 1121.4,736.1 1125.0,735.5 1128.6,735.3 1132.1,734.6 1135.7,734.7 1139.2,735.7 1144.7,733.4 1150.1,730.7 1156.1,730.1 1161.5,727.2 1165.8,728.1 1170.2,727.3 1174.4,725.9 1178.5,724.5 1184.1,725.9 1189.6,727.5 1195.4,727.6 1201.2,727.2 1205.5,727.1 1209.7,726.5 1213.7,728.1 1217.9,728.6 1222.0,727.2 1226.4,727.4 1230.6,727.8 1234.7,729.0 1240.2,726.9 1246.0,726.6 1251.7,727.5 1257.5,727.2 1262.7,727.8 1267.7,729.4 1272.1,728.1 1276.6,727.5 1281.1,727.0 1285.6,726.3 1290.5,725.3 1295.4,724.9 1300.3,725.2 1305.2,725.4 1308.0,720.6 1311.0,716.0 1307.0,711.5 1310.5,709.8 1313.7,707.5 1310.2,702.6 1315.2,701.9 1319.5,699.0 1323.5,693.7 1329.4,690.7 1336.0,690.5 1339.9,688.4 1343.6,686.1 1347.1,684.1 1351.0,683.4 1355.0,682.9 1358.8,684.3 1355.0,687.4 1350.3,688.8 1345.8,689.6 1341.8,691.9 1337.1,693.7 1332.5,695.9 1328.0,699.0 1323.5,699.5 1319.5,701.7 1323.4,704.3 1327.1,707.1 1329.7,709.7 1330.7,713.3 1329.3,719.1 1332.9,721.6 1336.0,724.5 1333.0,727.3 1330.2,730.3 1327.0,732.4 1324.9,735.7 1319.0,737.3 1314.6,741.5 1310.0,743.8 1305.2,745.9 1310.0,746.6 1314.4,748.4 1318.8,746.4 1323.6,746.2 1328.2,746.4 1332.8,746.6 1337.4,746.6 1341.8,748.2 1348.5,745.0 1355.9,743.7 1363.3,743.0 1370.5,745.0 1377.0,748.3 1384.0,750.2 1391.5,750.1 1398.1,753.5 1402.9,755.2 1407.9,755.8 1412.9,754.6 1418.0,755.0 1422.5,752.6 1427.8,752.5 1432.7,754.1 1437.8,753.5 1443.2,752.0 1448.5,749.9 1454.1,749.2 1459.7,749.5 1465.3,747.2 1470.8,744.7 1476.8,742.9 1482.9,744.1 1487.2,740.0 1492.8,738.3 1498.6,739.6 1504.3,737.9 1510.4,735.7 1515.3,731.5 1521.6,731.3 1528.0,731.2 1531.7,730.3 1535.4,729.2 1538.6,727.1 1542.3,725.8 1545.8,724.6 1548.8,722.5 1552.4,722.0 1556.1,721.8 1560.4,722.6 1564.6,721.4 1568.5,719.1 1573.1,718.7 1578.8,720.0 1584.7,719.1 1588.8,716.7 1593.6,716.0 1600.0,713.2 1607.0,713.8M1267.7,718.2 1271.8,714.5 1276.7,712.0 1281.3,712.3 1285.9,712.9 1290.1,711.0 1294.5,709.8 1297.4,712.8 1301.2,714.7 1299.4,718.0 1299.0,721.8 1292.5,724.4 1285.6,724.5 1278.9,723.8 1272.2,722.7 1276.2,722.0 1279.8,720.0 1283.8,720.2 1287.8,720.5 1291.3,718.7 1293.6,715.6 1287.4,714.2 1281.1,715.1 1274.3,716.2 1267.7,718.2M888.3,754.9 893.9,754.6 899.5,753.5 903.9,755.8 899.6,757.5 895.0,757.5 891.5,756.7 888.3,754.9M741.0,746.8 754.4,747.3 749.9,749.5 741.0,746.8M1057.9,62.5 1062.6,62.8 1067.1,61.4 1071.6,62.3 1075.8,64.3 1079.2,63.5 1082.7,63.1 1085.7,61.1 1089.2,60.3 1084.8,58.4 1080.3,56.7 1076.1,58.6 1071.5,59.5 1067.0,58.4 1062.4,59.0 1057.9,62.5M1098.1,55.8 1102.6,55.5 1107.1,55.3 1111.6,55.4 1116.0,56.3 1120.4,52.3 1115.8,51.9 1111.4,53.4 1106.8,53.2 1102.6,51.4 1098.1,55.8M1138.3,54.5 1143.8,56.4 1149.5,57.3 1154.8,55.0 1160.6,54.5 1165.1,50.0 1160.5,50.6 1155.9,51.0 1151.4,49.9 1147.2,47.8 1143.7,48.4 1140.2,48.2 1137.2,50.3 1133.8,51.4 1138.3,54.5M1169.5,54.5 1176.2,54.0 1182.9,54.5 1180.7,50.5 1175.1,49.3 1169.5,50.9 1169.5,54.5M1176.2,68.8 1182.9,70.5 1189.6,68.8 1189.6,64.8 1184.1,63.3 1178.5,64.3 1176.2,68.8M1162.8,95.1 1166.7,93.6 1170.7,94.0 1174.5,95.4 1178.5,96.0 1180.7,91.6 1176.1,91.2 1171.8,89.8 1167.0,90.2 1162.8,92.5 1162.8,95.1M1261.0,101.4 1265.5,100.9 1270.0,101.4 1270.0,98.3 1265.5,97.2 1261.0,98.3 1261.0,101.4M1245.4,77.3 1249.7,75.4 1254.4,75.2 1259.2,75.3 1263.3,77.7 1267.7,75.0 1261.2,72.9 1254.4,72.8 1250.0,74.1 1245.4,74.6 1245.4,77.3M1236.5,123.7 1243.2,125.1 1249.9,124.2 1252.1,121.0 1245.4,120.7 1238.7,120.6 1236.5,123.7M1247.7,127.3 1252.1,126.9 1252.1,123.7 1248.5,123.7 1247.7,127.3M1241.0,165.7 1247.7,165.7 1247.7,164.4 1241.0,164.4 1241.0,165.7M1249.9,151.9 1254.4,151.9 1254.4,148.3 1249.9,148.3 1249.9,151.9M1363.7,92.5 1369.3,91.5 1374.9,92.5 1374.9,88.0 1369.3,88.4 1363.7,88.4 1363.7,92.5M1320.0,193.9 1325.0,195.4 1330.2,194.7 1328.0,196.5 1321.3,195.6 1320.0,193.9M1071.3,64.8 1077.0,64.4 1082.5,65.7 1082.5,62.5 1078.0,62.4 1073.6,62.5 1071.3,64.8M1131.6,75.0 1136.1,74.6 1140.5,75.9 1140.5,72.8 1133.8,72.4 1131.6,75.0M1277.6,220.7 1285.6,218.9 1283.4,220.2 1277.6,220.7M73.2,151.0 76.3,146.1 74.1,149.2 73.2,151.0M49.1,153.2 52.6,151.9 56.2,151.9 55.8,156.3 50.0,155.4 49.1,153.2M103.6,228.2 109.4,231.8 107.1,230.0 103.6,228.2M123.6,240.8 125.9,239.4 125.0,241.2 123.6,240.8M115.6,226.9 118.7,226.5 117.4,227.8 115.6,226.9M563.3,253.3 566.5,252.4 565.1,253.7 563.3,253.3M616.9,232.3 618.2,230.9 618.2,232.7 616.9,232.3M584.3,266.2 584.8,264.4 584.3,265.8M531.2,444.4 539.2,446.7 535.7,448.0 531.2,444.4M562.4,416.3 567.8,416.7 566.0,419.0 562.4,417.6 562.4,416.3M604.9,405.6 608.4,406.9 606.2,407.4 604.9,405.6M599.1,426.6 601.7,428.8 600.4,432.4 598.6,429.7 599.1,426.6M585.7,434.6 588.3,436.8 586.1,437.7 585.7,434.6M433.9,395.7 437.0,398.9 435.2,398.0 433.9,395.7M440.6,406.5 443.3,409.6 441.5,409.1 440.6,406.5M480.3,413.6 483.4,415.0 481.7,416.3 480.3,413.6M503.1,433.3 508.9,432.8 508.0,434.2 503.1,434.2 503.1,433.3M537.5,342.1 541.5,342.1 541.0,347.1 539.2,345.7 537.5,342.1M554.9,346.2 559.3,346.2 561.1,352.0 558.0,352.0 554.9,346.2M546.4,357.3 550.0,353.3 549.7,356.9 550.4,360.5 547.3,360.0 546.4,357.3M544.1,349.3 549.5,350.6 546.8,355.1 544.1,354.2 544.1,349.3M175.0,427.9 176.3,429.7 175.4,430.6 175.0,427.9M193.3,453.4 194.2,455.2 193.3,454.7 193.3,453.4M37.9,385.5 39.7,385.9 38.8,387.3 37.9,385.5M60.3,343.9 64.7,342.6 64.7,345.3 61.6,346.2 60.3,343.9M160.7,381.9 162.5,386.4 161.6,390.4 160.3,386.4 160.7,381.9M340.1,212.6 349.5,211.7 346.0,213.5 340.1,212.6M189.7,230.0 194.2,228.7 192.8,230.9 189.7,230.0M418.3,369.8 419.2,371.6 418.3,370.7M1292.3,642.3 1288.8,643.1 1285.6,644.5 1289.6,645.5 1293.2,647.7 1297.2,646.6 1301.2,647.2 1296.2,645.7 1292.3,642.3M1272.2,621.8 1275.8,625.3 1271.3,626.7 1272.2,621.8M1332.5,681.2 1338.1,680.4 1343.6,678.9 1348.1,679.8 1343.6,681.2 1339.2,682.5 1332.5,681.2M879.4,754.9 883.7,753.4 888.3,753.1 890.5,756.7 886.2,757.8 881.6,757.5 879.4,754.9M1062.4,731.6 1068.0,731.5 1073.6,730.7 1071.3,733.4 1066.9,732.9 1062.4,733.4 1062.4,731.6"/>
</g>
<rect x="6" y="1187.5" width="1607" height="804" fill="none" stroke="#000" stroke-width="2"/>
<g transform="translate(6,2200)" clip-path="url(#mc)">
<g fill-rule="evenodd" stroke="none">
<rect x="0" y="0" width="1607" height="804" fill="#b3cdff"/>
<path fill="#d9ecff" d="M2,0 1606,0 1606,804 0,804 0,0ZM749,734 734,736 731,738 730,740 730,742 734,744 746,746 756,746 774,744 780,742 782,740 781,737 766,733 754,733ZM807,744 801,746 800,748 802,750 806,750 820,750 850,750 858,748 857,746 846,743 814,743Z"/>
<path fill="#ffecd9" d="M2,0 1606,0 1606,95 1602,93 1594,94 1578,95 1570,98 1568,100 1569,102 1572,104 1590,106 1602,106 1606,104 1606,146 1604,143 1600,142 1592,143 1580,145 1542,156 1526,159 1500,170 1488,176 1446,188 1433,190 1424,193 1418,197 1413,204 1414,207 1416,209 1428,212 1440,213 1448,214 1462,213 1474,214 1476,216 1478,219 1478,224 1474,234 1475,240 1482,245 1492,248 1506,249 1516,250 1536,250 1562,246 1578,241 1594,239 1606,238 1606,316 1584,311 1570,311 1552,313 1536,319 1532,322 1528,329 1524,334 1510,340 1444,341 1430,344 1426,346 1424,350 1426,354 1436,358 1450,359 1466,362 1478,363 1492,368 1524,373 1546,378 1564,380 1604,380 1606,382 1606,403 1604,404 1562,404 1532,399 1384,398 1380,397 1375,390 1364,380 1346,371 1324,365 1318,365 1288,371 1278,375 1268,385 1264,392 1266,395 1286,391 1292,391 1308,393 1313,396 1316,400 1317,410 1320,416 1330,426 1344,439 1358,456 1366,468 1368,474 1366,480 1362,482 1352,481 1318,480 1306,478 1294,474 1281,466 1276,460 1271,448 1266,440 1259,416 1259,410 1260,402 1259,400 1251,398 1250,396 1256,380 1256,374 1252,368 1249,365 1240,363 1202,341 1168,325 1152,319 1142,317 1118,316 1114,315 1111,310 1112,302 1110,296 1107,286 1100,272 1086,256 1076,248 1070,242 1056,223 1044,213 1032,207 1016,203 986,200 962,201 946,206 934,208 906,221 903,228 904,232 908,234 932,235 938,237 941,242 945,252 953,262 956,264 986,274 998,275 1016,281 1020,283 1022,288 1022,292 1020,296 1012,305 1005,316 1003,322 1005,328 1008,329 1026,336 1066,343 1096,355 1106,364 1112,376 1114,386 1118,391 1124,392 1136,391 1174,390 1188,385 1196,385 1200,386 1212,394 1230,395 1239,400 1240,402 1238,406 1232,410 1228,412 1216,414 1200,415 1190,416 1152,417 1140,418 1118,418 1078,414 1076,415 1075,418 1074,444 1074,448 1072,449 1066,445 1056,443 1048,443 1026,447 1012,453 1005,458 1004,461 1006,464 1028,474 1042,488 1060,493 1064,493 1072,490 1074,491 1075,512 1078,516 1112,530 1134,541 1140,542 1160,542 1162,542 1166,536 1168,535 1178,536 1204,536 1228,525 1236,523 1244,523 1256,529 1270,546 1276,560 1278,575 1280,576 1297,554 1306,547 1320,543 1334,545 1342,549 1348,560 1348,563 1341,576 1342,578 1368,590 1390,604 1412,608 1428,609 1442,612 1452,613 1486,622 1518,622 1526,618 1527,616 1527,610 1530,607 1540,608 1594,609 1606,613 1606,656 1602,660 1584,662 1566,663 1554,664 1500,665 1446,673 1430,678 1408,682 1394,683 1384,684 1364,682 1336,675 1314,674 1302,672 1292,668 1289,664 1291,660 1294,657 1304,651 1304,648 1302,646 1288,644 1276,640 1262,644 1246,644 1234,642 1212,633 1194,624 1189,620 1187,614 1190,602 1190,598 1188,594 1186,592 1160,583 1150,582 1130,578 1114,573 1088,570 1086,568 1086,564 1095,550 1094,546 1090,543 1084,541 1074,539 1069,536 1066,534 1058,536 1046,536 1030,531 1016,524 1004,516 992,505 978,495 958,487 944,480 937,473 933,466 934,460 941,448 941,444 938,438 934,433 922,426 900,410 864,403 770,403 742,407 728,412 726,412 728,406 726,402 718,397 708,395 678,394 672,394 671,392 669,386 667,374 666,364 664,356 660,352 648,349 610,349 566,354 554,355 538,359 528,366 523,374 523,386 527,396 526,398 524,398 286,398 278,398 276,396 277,392 277,370 279,364 288,359 316,352 324,346 330,341 337,330 341,326 364,312 384,298 388,290 387,282 388,278 390,275 396,273 402,271 408,271 418,273 422,276 432,286 438,288 442,289 452,287 460,287 478,291 490,296 508,300 512,300 530,295 535,286 539,274 542,271 554,268 564,263 580,259 608,246 618,240 624,234 627,228 630,220 632,208 634,206 640,212 654,220 668,223 694,236 714,240 722,240 744,237 764,236 774,235 808,235 818,236 822,235 834,223 852,214 864,205 876,198 881,194 882,188 878,184 854,170 849,166 842,156 836,151 822,145 808,144 800,142 794,139 788,135 782,133 758,133 738,139 730,143 704,160 698,162 692,162 688,160 678,147 670,141 660,137 654,138 651,140 651,144 659,154 674,164 678,170 678,176 673,182 660,187 648,193 636,201 634,201 631,198 630,189 628,186 626,185 622,185 612,190 602,190 586,188 578,184 569,176 567,172 566,164 564,160 556,153 548,151 542,151 538,152 526,163 514,160 476,160 470,159 463,154 456,138 444,121 434,115 410,107 390,105 376,106 352,107 274,116 226,116 180,109 166,109 154,111 144,115 138,121 135,128 135,138 137,144 142,148 156,154 172,154 194,151 230,151 242,152 262,153 286,156 306,157 316,158 328,159 344,162 348,166 348,172 346,176 338,182 330,186 318,189 308,196 304,200 294,218 288,222 284,222 260,222 246,221 232,223 218,227 204,233 178,247 170,253 164,260 152,270 125,284 110,290 88,296 66,299 14,311 4,316 0,317 0,238 6,237 12,237 32,242 38,240 42,237 44,234 45,208 46,204 50,199 60,195 70,195 84,199 96,204 100,204 109,199 114,196 121,184 122,180 120,174 112,170 92,167 52,167 46,169 40,175 34,176 18,175 4,177 0,175 0,138 2,140 6,141 38,141 50,142 68,142 84,140 86,139 87,136 86,132 84,129 74,123 64,121 38,121 14,124 2,125 0,126 0,0ZM51,62 46,64 45,66 47,70 52,73 62,76 84,76 90,74 94,70 94,68 93,66 86,63 72,61 56,61ZM205,62 190,65 186,68 185,70 187,74 192,80 196,83 204,86 214,86 226,84 234,78 238,72 238,65 235,64 230,61 212,61ZM1356,118 1348,124 1345,128 1346,134 1350,138 1358,144 1366,146 1384,148 1389,146 1390,142 1389,138 1376,122 1366,117ZM1079,136 1076,138 1074,142 1074,146 1078,149 1086,154 1104,159 1120,165 1130,171 1140,175 1156,185 1163,192 1170,194 1182,196 1204,194 1214,192 1232,185 1248,182 1250,180 1249,176 1240,171 1212,163 1194,160 1162,149 1152,148 1128,139 1104,135 1084,135ZM1359,184 1349,188 1345,192 1346,195 1347,198 1356,202 1362,202 1368,202 1382,196 1385,194 1385,192 1384,188 1378,186 1368,183ZM1335,224 1331,228 1324,230 1300,234 1288,235 1258,239 1236,243 1232,245 1229,248 1230,251 1240,255 1247,264 1248,270 1246,276 1240,282 1236,284 1228,286 1212,287 1196,289 1188,292 1185,296 1183,302 1187,314 1192,318 1200,322 1210,324 1222,325 1254,336 1276,340 1292,340 1308,336 1312,332 1314,326 1309,304 1310,300 1314,295 1330,285 1346,282 1358,277 1374,274 1390,269 1398,262 1402,252 1402,248 1399,244 1392,239 1382,235 1374,234 1354,230 1348,228 1340,222ZM783,244 758,253 752,257 745,264 738,274 734,276 730,276 718,273 688,267 682,267 672,269 665,274 661,278 657,286 657,292 662,296 698,320 712,324 726,322 760,307 784,301 802,301 818,304 830,302 840,298 858,286 861,282 862,278 860,272 856,269 848,267 840,266 822,268 806,268 801,264 801,260 802,252 800,246 792,243ZM617,268 608,272 600,273 588,277 570,290 566,294 565,298 565,302 568,306 574,310 582,313 586,313 600,309 614,300 622,293 636,272 635,268 632,266ZM922,268 912,276 912,278 913,280 926,282 944,282 954,280 959,276 958,274 956,271 942,267 928,267ZM794,334 788,335 782,339 777,346 778,350 782,352 786,352 814,352 826,349 829,344 828,339 820,335 804,332ZM1027,414 1021,416 1020,418 1021,420 1030,422 1042,422 1048,420 1049,418 1048,415 1040,413ZM374,159 378,159 382,162 385,168 384,172 382,175 378,178 374,178 368,178 361,174 359,168 361,164 364,162ZM414,169 418,169 422,170 428,176 429,180 428,184 426,185 420,188 416,188 405,182 403,178 404,174ZM490,203 500,203 510,203 515,206 516,210 513,216 504,218 488,218 479,216 476,214 475,210 476,208ZM331,219 340,219 344,221 345,226 343,230 340,232 336,232 332,232 328,230 325,228 325,224ZM362,237 370,236 377,240 378,244 378,248 377,252 374,255 370,257 364,256 356,253 352,250 351,246 352,242ZM444,249 448,249 452,250 456,256 455,262 453,266 450,268 446,268 442,267 437,262 437,258 438,254ZM342,269 348,269 351,272 352,276 350,280 342,282 338,281 335,280 334,278 335,274ZM236,383 240,384 242,386 243,390 241,396 236,398 232,398 230,396 229,391 232,386ZM0,388 2,390 15,396 14,398 4,399 0,400ZM536,399 596,399 605,400 606,402 588,408 576,412 566,414 554,415 538,418 534,418 533,414 533,402ZM18,409 28,409 40,413 46,420 52,428 56,438 56,460 55,470 58,472 60,472 91,448 100,443 116,437 126,435 144,434 160,426 167,418 172,415 188,411 208,411 238,415 272,423 283,428 285,430 284,434 262,447 260,450 257,458 254,462 238,469 228,477 223,478 224,468 222,462 220,458 218,457 214,458 206,464 195,476 191,486 191,498 198,509 201,512 204,512 210,507 212,507 218,514 224,520 230,524 246,530 264,532 274,532 290,529 294,529 334,540 344,541 366,549 377,556 389,570 410,586 416,592 416,596 415,598 412,599 402,598 391,594 376,584 354,575 324,567 292,563 266,563 262,564 259,566 255,574 255,586 261,598 260,602 258,604 254,605 240,604 204,594 178,584 152,570 142,562 136,559 128,557 98,556 90,554 85,552 81,548 68,518 62,505 46,500 20,484 4,482 0,480 0,418 4,414ZM608,409 620,409 640,416 648,417 658,421 664,426 668,430 669,434 669,438 665,442 658,442 652,441 640,435 626,432 611,424 605,414 606,410ZM372,413 408,413 436,417 458,426 482,434 500,438 512,439 530,446 540,446 550,445 580,445 604,448 622,447 646,447 654,448 666,448 686,444 692,442 695,438 695,426 700,420 713,415 722,414 723,416 714,434 696,452 686,458 676,459 670,461 654,474 651,478 651,482 652,485 653,488 664,492 690,495 712,501 734,512 748,521 776,532 786,533 812,538 830,538 846,533 860,531 868,531 880,533 904,541 940,557 950,564 964,576 980,580 1008,585 1018,590 1030,594 1036,595 1056,594 1064,590 1072,582 1074,583 1075,592 1078,594 1086,596 1106,599 1134,605 1144,611 1145,616 1142,620 1134,627 1118,632 1078,632 1075,636 1074,642 1072,643 1064,630 1060,625 1056,624 1028,628 992,629 982,630 962,631 948,636 934,638 909,638 872,629 854,627 842,630 839,632 839,636 844,640 880,662 881,664 879,666 872,666 806,667 790,670 787,672 782,678 772,680 756,681 746,682 636,682 624,681 596,680 593,678 596,673 612,668 618,664 622,660 625,654 625,650 624,646 620,642 606,635 574,623 546,618 542,619 536,625 534,624 532,612 530,608 506,603 492,596 474,584 454,575 440,571 418,560 397,548 388,540 379,532 363,512 356,498 347,476 343,454 343,436 348,423 354,418ZM581,492 560,493 546,497 536,502 534,501 532,494 530,492 520,494 514,497 509,502 507,506 508,514 505,518 500,520 488,523 480,526 477,530 478,536 482,540 494,548 528,565 530,566 532,564 533,558 536,556 546,560 572,566 584,566 594,564 606,554 609,550 610,546 608,540 593,522 591,518 592,514 596,509 608,506 614,502 616,500 616,498 614,495 608,493 594,491ZM763,566 753,570 751,572 749,576 750,579 751,582 758,586 790,594 804,594 808,593 810,592 810,588 808,584 804,579 796,573 772,565ZM627,592 623,594 621,598 623,602 628,605 632,606 640,606 646,604 648,602 649,600 648,596 644,593 636,591ZM1606,426 1606,428 1606,472 1602,468 1592,464 1581,456 1575,448 1573,442 1574,438 1578,433 1592,429 1604,428ZM1150,429 1158,429 1164,430 1169,434 1169,438 1166,440 1160,442 1150,442 1146,442 1143,439 1142,436 1144,433ZM1195,443 1204,443 1212,448 1213,450 1214,453 1210,460 1200,464 1188,464 1179,462 1173,456 1173,452 1178,448ZM710,461 716,461 722,461 729,465 738,471 744,478 746,482 746,488 744,491 740,494 732,496 718,496 708,493 700,488 698,484 697,482 696,476 697,472 702,465ZM1144,467 1152,467 1158,467 1164,472 1167,476 1168,482 1168,490 1164,496 1160,500 1154,502 1150,502 1136,496 1129,490 1124,484 1123,478 1126,472 1134,469ZM840,489 846,489 854,491 858,495 860,500 860,506 858,514 854,518 850,521 846,522 828,518 822,515 819,512 819,506 824,499 828,495ZM1462,493 1472,493 1486,495 1520,503 1546,515 1550,518 1555,526 1568,533 1602,545 1606,544 1606,588 1602,590 1592,590 1542,581 1502,581 1490,582 1476,582 1460,579 1450,579 1442,579 1412,590 1408,590 1404,589 1399,584 1398,578 1400,568 1408,559 1418,553 1456,542 1460,540 1464,536 1465,530 1459,514 1456,502 1458,496ZM1336,495 1344,495 1349,500 1351,504 1351,508 1348,513 1340,516 1336,515 1332,512 1329,506 1329,501 1332,498ZM2,541 12,541 18,541 22,544 23,548 22,551 18,553 2,557 0,559 0,542ZM290,607 312,607 340,611 352,618 370,624 392,629 408,635 420,641 422,644 422,646 419,650 412,654 390,660 354,661 340,663 334,665 324,674 312,680 292,682 212,682 200,681 174,680 166,678 162,674 161,671 164,669 180,660 204,656 214,652 216,648 213,640 213,636 217,630 224,625 242,617 252,616 268,611ZM2,614 20,617 68,629 74,632 76,634 76,636 72,638 66,638 52,636 40,631 16,627 4,627 0,629 0,614ZM548,705 568,704 612,705 624,706 638,707 646,708 658,709 668,710 680,711 706,717 711,720 711,722 704,724 692,723 652,723 640,724 624,725 616,726 588,727 578,728 560,729 550,730 538,731 534,730 529,724 529,720 530,715 536,709ZM218,707 230,707 240,708 262,709 276,711 288,716 290,717 292,721 288,726 278,730 256,731 246,732 226,732 186,726 178,723 175,720 178,717 192,711ZM1568,725 1590,724 1602,725 1606,726 1605,756 1602,759 1598,760 1584,761 1574,762 1528,762 1520,761 1504,760 1488,755 1484,753 1481,750 1481,746 1484,744 1494,739 1530,731 1544,730ZM2,727 46,727 58,728 72,729 98,733 103,736 105,740 102,742 92,744 70,745 60,746 52,746 42,745 16,744 6,743 2,743 0,745 0,727ZM1270,727 1310,727 1316,730 1318,732 1318,734 1311,740 1294,742 1266,740 1256,736 1253,734 1255,732 1258,730ZM1176,739 1186,739 1204,743 1208,748 1208,754 1204,760 1190,770 1166,775 1138,774 1122,772 1108,766 1104,763 1102,760 1103,756 1106,753 1114,749 1126,745 1158,742ZM1072,742 1074,743 1074,748 1075,788 1076,791 1078,792 1134,783 1154,782 1164,780 1184,780 1194,779 1218,779 1230,780 1282,781 1292,782 1310,783 1320,784 1362,785 1372,786 1408,786 1420,785 1460,784 1494,779 1514,778 1524,777 1542,776 1552,775 1594,775 1602,776 1606,779 1606,803 1602,801 1591,804 532,804 532,799 528,798 511,804 0,804 0,791 2,792 6,792 40,787 66,786 76,785 98,784 110,783 280,782 290,781 306,780 316,779 330,778 338,777 354,776 364,775 380,774 414,769 434,768 444,767 462,766 472,765 494,765 504,766 518,767 530,769 532,768 534,756 536,755 543,766 556,773 570,772 580,771 596,770 604,769 638,766 648,765 716,765 728,766 750,767 768,771 778,774 794,775 818,778 870,779 882,780 918,781 930,782 958,782 1014,775 1040,774 1046,774 1060,764Z"/>
<path fill="#ffcdb3" d="M1316,23 1342,22 1462,23 1470,24 1486,25 1534,31 1543,34 1545,36 1543,38 1540,38 1514,38 1502,37 1484,36 1476,35 1426,34 1414,33 1362,33 1346,34 1332,33 1328,33 1316,40 1272,55 1268,57 1266,60 1266,66 1274,74 1282,79 1300,87 1314,92 1322,97 1325,102 1326,108 1324,112 1322,114 1312,120 1298,124 1254,118 1242,113 1232,111 1202,97 1170,97 1158,98 1116,98 1092,96 1078,92 1054,82 1047,76 1044,68 1044,64 1048,59 1054,55 1060,53 1080,52 1092,49 1102,48 1126,43 1138,42 1200,29 1214,28 1222,27 1236,26 1248,25 1298,25 1308,26ZM258,33 278,33 285,36 287,38 287,40 282,44 266,46 256,44 247,40 246,38 248,36ZM418,33 430,33 446,37 494,56 508,59 522,64 544,69 554,69 566,69 576,73 584,78 606,78 627,74 629,72 618,68 614,66 613,64 615,62 620,59 658,59 666,61 668,64 666,66 659,68 648,70 632,72 630,74 650,78 670,79 718,89 770,89 804,93 824,96 834,97 839,99 841,102 841,104 836,106 824,106 808,104 786,99 760,96 752,94 722,94 702,90 686,90 676,89 602,88 554,82 532,75 516,73 500,72 486,70 452,59 426,54 413,48 411,46 409,42 409,37ZM98,37 106,37 116,39 119,42 119,44 117,46 114,46 96,46 90,45 87,42 88,40ZM290,55 296,55 300,56 302,58 303,60 302,62 300,64 284,70 262,74 258,74 250,72 246,70 245,68 246,66 248,64 270,57Z"/>
<path fill="#ffab86" d="M1196,39 1224,39 1244,43 1248,45 1248,50 1240,62 1239,68 1241,74 1252,90 1251,96 1248,100 1242,102 1232,100 1202,83 1184,79 1174,78 1162,76 1153,70 1146,62 1145,56 1148,52 1152,49 1180,41Z"/>
</g>
<path class="coast" d="M1580.7,242.1 1598.1,245.2 1607.0,242.1M0.0,242.1 0.0,242.1 3.6,241.4 6.5,239.2 9.9,238.4 13.4,237.6 19.0,236.9 24.5,235.2 30.3,234.7 35.7,236.7 40.2,236.4 44.6,235.4 49.1,237.6 46.9,243.4 44.6,248.8 49.1,253.7 53.7,253.4 58.0,255.0 63.1,256.5 68.3,257.7 71.4,262.2 76.0,263.7 80.4,265.8 87.0,265.8 89.3,261.3 89.7,256.8 93.8,255.0 98.2,255.0 101.4,256.7 104.9,257.8 108.1,259.3 111.6,260.4 116.3,261.3 120.9,259.8 124.9,262.4 129.5,263.5 133.9,262.3 138.4,261.3 144.2,262.6 145.1,268.0 148.3,272.0 149.5,276.9 152.7,280.9 154.0,285.9 156.4,290.2 158.5,294.8 161.1,299.8 165.2,303.7 166.9,309.2 166.5,314.9 169.7,317.9 171.9,321.6 173.7,327.3 176.3,332.8 178.9,336.9 183.0,339.5 187.3,343.0 191.9,346.2 192.8,350.2 196.4,355.1 203.0,353.2 209.8,352.0 214.7,351.9 219.5,353.0 223.9,350.9 228.6,349.3 227.7,355.1 226.0,359.4 225.0,364.0 222.7,368.1 218.7,370.7 215.5,375.9 214.3,381.9 210.3,386.9 205.3,390.8 201.5,395.0 196.4,397.5 192.8,402.9 187.5,406.5 184.5,410.2 180.8,413.2 177.8,417.3 176.3,422.1 175.9,426.8 174.1,431.0 175.0,435.5 176.3,440.0 178.2,444.6 180.8,448.9 181.2,454.5 180.8,460.1 181.3,464.5 182.1,469.0 179.1,474.4 174.1,477.9 170.1,481.2 165.2,482.4 161.4,487.5 156.2,491.3 156.9,495.9 158.5,500.3 158.6,504.7 158.5,509.2 153.2,513.1 147.3,515.9 146.4,522.6 144.4,527.0 142.8,531.5 139.6,536.1 136.1,540.5 133.6,543.0 131.0,545.5 128.3,548.0 125.0,549.4 119.5,550.8 114.7,553.9 110.5,554.6 106.4,553.7 102.5,555.4 98.2,555.2 93.9,556.9 89.3,557.4 85.8,556.0 82.1,554.8 81.3,551.0 80.4,547.2 80.3,541.4 78.1,536.0 76.3,532.4 73.7,529.3 69.7,524.1 67.0,518.1 67.7,514.7 67.5,511.2 65.5,508.2 64.7,504.7 61.6,500.7 60.3,495.8 58.0,492.8 56.6,489.2 54.9,485.9 53.6,482.4 53.7,477.9 52.7,473.5 53.2,467.6 55.8,462.3 58.4,456.7 61.2,451.1 59.0,446.9 58.9,442.2 58.9,438.6 57.5,435.3 55.5,432.3 54.9,428.8 54.3,425.3 52.7,422.1 48.8,417.5 44.6,413.2 43.2,408.7 40.2,405.1 40.9,401.2 42.4,397.5 43.3,393.1 43.3,388.6 40.2,382.8 35.7,381.9 29.0,382.8 25.8,379.3 22.3,376.1 19.0,374.6 15.6,373.4 11.2,374.0 6.7,374.3 3.2,374.8 0.0,376.5 0.0,376.5M1607.0,376.5 1602.6,378.7 1598.1,380.6 1593.6,379.6 1589.1,378.8 1585.1,379.1 1581.0,379.0 1577.4,380.9 1573.5,382.3 1570.4,380.5 1566.8,379.7 1563.1,375.0 1557.9,372.1 1553.0,368.6 1549.0,364.0 1546.7,358.7 1543.3,355.9 1540.0,352.9 1536.0,349.8 1532.5,346.2 1532.1,341.0 1529.8,336.3 1533.3,330.5 1535.4,323.9 1534.2,317.1 1531.9,313.0 1531.1,308.2 1532.4,302.2 1535.6,297.0 1537.6,292.2 1540.9,288.1 1544.3,282.6 1549.0,278.3 1553.4,275.8 1557.9,273.4 1563.3,268.9 1563.7,265.1 1563.7,261.3 1565.9,256.9 1569.1,253.3 1572.8,249.4 1578.0,247.9 1580.7,242.1M220.1,455.6 221.9,459.3 222.0,463.5 223.0,467.5 224.5,471.2 221.7,475.3 221.0,480.2 218.2,485.5 216.5,491.3 216.1,494.9 214.2,498.0 213.9,501.6 212.0,504.7 210.6,509.1 209.8,513.7 206.4,514.5 203.1,515.9 199.2,514.4 196.4,511.4 196.2,506.7 194.2,502.5 196.1,497.1 196.4,491.3 198.8,484.9 198.6,477.9 200.9,473.5 205.7,471.9 209.8,469.0 211.8,465.5 214.3,462.3 217.0,458.8 220.1,455.6M145.5,268.4 148.2,274.7 152.7,278.3 153.1,276.9 153.7,273.4 155.3,270.2 156.2,275.6 160.3,279.0 162.9,283.6 165.0,286.8 166.5,290.3 170.0,293.1 171.9,297.0 174.1,301.2 174.1,306.0 178.0,308.7 180.8,312.7 183.7,315.6 185.3,319.4 188.2,323.6 190.6,328.3 190.6,335.0 192.6,338.1 192.8,341.7 194.2,345.3 200.9,344.8 205.6,344.1 209.8,341.7 214.4,340.2 218.7,338.1 222.4,336.1 225.2,333.0 228.9,331.3 233.0,330.5 236.7,327.8 241.0,326.1 246.9,323.8 250.4,320.6 254.4,318.0 257.6,317.1 259.3,313.6 261.6,310.4 263.4,305.4 266.9,301.5 262.0,297.0 256.7,295.7 252.2,291.2 251.8,284.5 250.0,286.8 246.1,289.3 243.3,293.0 236.6,294.4 229.9,293.5 230.3,290.3 228.6,285.9 226.3,290.3 224.1,284.5 221.0,281.4 219.6,277.5 216.5,274.7 214.3,268.9 218.7,266.2 224.1,268.0 227.7,273.4 231.1,276.2 234.4,279.2 238.8,281.1 243.3,283.2 247.0,281.0 251.3,280.5 254.4,282.3 258.9,287.7 262.8,286.6 266.9,286.9 270.4,289.0 274.5,289.4 281.2,288.7 287.9,289.0 292.9,289.1 297.7,290.3 301.3,294.8 305.8,297.0 308.9,299.2 312.5,300.2 308.0,302.8 311.9,305.2 314.7,308.6 318.4,304.6 323.6,302.8 324.5,308.2 323.7,312.7 325.0,317.1 326.0,321.6 327.2,326.1 329.6,330.2 330.3,335.0 332.0,339.5 333.9,343.9 337.1,347.2 338.4,351.5 339.9,356.7 341.5,361.8 346.0,365.8 349.1,362.2 352.6,360.5 356.2,356.0 357.2,352.2 356.2,348.4 358.5,343.9 359.1,339.4 358.0,335.0 361.6,331.4 364.7,329.5 367.4,327.0 369.7,323.9 372.7,321.6 375.9,318.0 379.4,314.9 383.1,312.4 387.5,311.3 388.4,306.0 392.9,305.9 397.3,304.6 404.0,302.8 408.4,300.6 410.7,306.0 412.9,309.5 416.2,313.4 419.6,317.1 420.2,320.6 421.8,323.8 420.9,330.5 425.4,331.4 428.5,327.0 435.2,328.3 436.6,335.0 438.5,339.3 439.7,343.9 440.8,348.3 440.6,352.9 438.8,359.6 439.7,366.3 441.9,369.4 445.0,371.6 447.7,373.9 448.6,379.7 449.3,384.6 452.2,388.6 455.3,391.7 458.3,394.6 462.0,396.2 465.1,395.7 462.0,389.5 462.4,385.7 461.6,381.9 460.1,378.2 457.5,375.2 453.1,371.6 448.6,369.8 447.7,364.9 442.8,360.5 444.0,356.7 444.2,352.9 444.8,349.4 446.4,346.2 448.6,341.7 450.9,345.3 454.2,346.9 457.5,348.4 460.0,351.1 462.0,354.2 465.7,354.9 468.7,357.3 468.7,363.1 471.6,360.5 475.4,359.6 477.6,355.5 481.8,352.6 486.6,350.6 487.9,346.2 486.7,341.8 486.6,337.2 483.7,332.4 479.9,328.3 477.3,324.2 473.2,321.6 473.2,314.9 475.3,311.5 477.6,308.2 481.3,307.4 484.3,305.1 490.1,306.4 492.8,311.3 492.8,306.9 495.5,306.4 500.3,306.2 504.4,303.7 508.9,302.4 513.3,300.6 518.2,300.1 522.3,297.5 526.7,293.0 531.2,289.0 535.7,283.6 538.7,279.4 542.4,275.6 543.0,272.1 544.6,268.9 540.1,266.7 544.6,264.4 543.7,260.0 540.3,256.6 537.9,252.4 534.7,249.4 532.5,245.7 534.8,242.6 537.9,240.3 542.4,239.3 546.8,237.6 546.8,235.8 540.1,234.1 535.5,233.8 531.2,235.4 529.0,232.3 525.8,227.8 531.2,225.6 536.2,223.2 540.1,219.3 544.6,221.1 543.5,224.9 542.4,228.7 544.6,227.8 549.9,226.0 554.9,223.3 558.9,225.6 558.0,232.3 562.4,233.2 565.6,236.7 563.8,243.4 564.7,248.3 569.4,247.7 573.6,245.7 577.6,243.4 577.6,236.7 573.6,233.4 571.4,228.7 569.1,224.7 574.3,222.6 579.0,219.8 579.0,216.6 582.5,213.1 584.8,211.3 589.3,212.0 593.7,210.8 599.7,209.0 604.9,205.5 608.6,202.6 611.6,198.8 616.0,195.4 620.5,192.1 623.3,188.2 627.2,185.4 628.0,179.8 627.2,174.2 628.6,169.6 630.7,165.3 627.1,162.4 622.7,160.8 618.2,159.7 613.8,160.8 609.2,159.5 604.9,157.7 610.2,153.4 616.0,149.6 619.9,148.3 623.8,146.7 626.9,144.0 629.4,140.7 634.1,139.4 638.3,137.1 643.7,135.0 649.5,135.2 655.3,134.9 660.7,137.1 665.2,137.0 669.7,136.1 674.2,137.1 678.5,138.5 685.0,136.1 691.9,136.2 697.3,132.7 700.8,127.3 707.6,127.9 714.2,126.4 717.8,124.5 721.9,124.3 725.8,125.6 729.8,125.1 724.8,127.7 720.9,131.8 715.9,132.9 712.0,136.2 706.1,139.6 700.8,143.8 698.2,148.1 695.0,151.9 695.5,158.6 696.4,165.3 698.8,169.4 699.5,174.2 702.4,168.9 707.5,165.7 714.2,164.4 719.7,161.4 723.1,156.3 725.6,153.6 727.6,150.5 723.1,145.2 727.6,142.9 728.8,138.9 729.8,134.9 735.5,135.7 741.0,134.0 745.5,134.2 749.9,133.7 754.4,134.5 758.9,134.0 763.8,132.6 767.8,129.5 771.2,128.5 774.8,128.9 778.3,128.0 781.2,126.0 785.8,123.5 791.1,123.3 796.1,124.5 801.3,123.7 796.8,118.4 792.3,113.0 799.0,113.0 803.3,110.6 808.0,109.4 811.5,110.1 814.9,110.9 818.3,112.2 821.4,113.9 827.9,111.9 834.7,111.7 838.5,110.8 842.2,109.8 846.1,109.3 849.5,107.2 844.2,106.7 839.2,105.0 834.6,104.6 830.2,103.1 825.5,102.7 821.4,100.5 816.6,99.6 811.8,98.9 807.3,96.9 803.5,93.8 798.9,92.9 794.9,90.3 790.3,91.3 785.6,90.7 780.1,92.1 774.4,90.9 768.8,91.0 763.3,89.3 761.1,93.8 755.5,91.7 749.9,89.3 743.2,90.2 736.5,91.6 730.9,90.7 725.5,88.8 719.9,90.3 714.2,90.7 709.6,88.2 705.3,85.3 698.8,83.0 691.9,82.4 685.4,84.6 678.5,85.3 674.0,84.0 669.6,82.6 664.0,81.6 658.5,80.7 652.7,80.8 647.3,79.1 641.7,79.2 636.1,78.5 630.5,79.7 624.9,78.2 622.1,80.5 618.8,82.1 615.3,83.3 611.6,82.6 607.1,82.2 602.6,82.9 598.2,82.7 593.7,82.6 589.4,84.5 584.8,84.9 580.0,84.9 575.8,82.6 571.7,79.7 566.9,78.2 564.2,75.6 562.4,72.4 555.8,73.1 549.1,73.7 543.4,73.9 537.9,72.4 532.3,73.1 526.7,73.7 521.3,71.9 515.6,72.7 510.0,73.7 504.4,72.4 497.6,71.8 491.0,70.1 495.2,69.5 498.9,67.5 502.7,66.0 506.7,64.8 503.4,62.4 500.0,60.3 494.5,58.9 489.0,57.5 483.3,56.8 477.6,58.1 474.1,58.2 470.6,57.9 467.4,56.4 464.2,54.9 457.4,55.6 450.8,57.6 447.2,58.3 443.7,57.8 440.6,59.6 437.5,61.2 432.0,62.7 426.4,63.3 420.8,62.0 415.1,62.5 408.4,63.7 402.0,66.3 395.2,66.2 388.4,67.0 383.9,72.4 377.7,72.1 371.5,71.3 365.5,73.0 359.3,73.7 358.2,77.0 357.1,80.4 352.7,79.6 348.2,79.1 341.4,78.8 334.8,80.4 331.6,84.4 330.3,89.3 330.5,94.9 330.3,100.5 326.9,101.4 323.6,102.7 324.8,98.3 325.9,93.8 324.8,89.3 323.6,84.9 322.9,80.7 321.4,76.8 314.7,76.5 308.0,75.9 303.5,79.2 299.1,82.6 299.1,89.3 303.6,91.5 308.0,93.8 305.8,97.4 302.7,95.3 299.1,94.7 293.6,93.0 287.9,92.5 283.8,91.8 280.4,89.4 276.4,90.1 272.3,89.3 267.8,91.6 270.1,93.8 266.4,94.4 263.4,96.5 258.8,96.6 254.4,95.6 248.8,96.1 243.3,96.9 240.2,95.0 236.6,94.7 233.1,95.8 229.6,95.3 226.2,96.4 223.2,98.3 218.9,100.2 214.3,100.5 211.2,102.7 207.6,103.6 205.3,98.3 200.4,97.3 195.5,96.0 197.4,99.1 197.8,102.7 196.4,106.3 191.9,106.5 187.5,105.4 184.6,108.2 180.8,109.4 178.6,113.5 174.1,113.3 169.6,113.9 165.2,116.1 160.8,114.8 156.2,114.8 154.0,109.4 150.3,104.9 145.1,102.3 149.5,104.1 154.7,103.3 159.9,103.8 165.0,104.7 169.6,107.2 176.4,107.5 183.0,106.3 184.4,101.8 178.6,99.6 173.8,98.7 169.9,96.0 165.5,94.1 160.7,93.8 153.9,94.4 147.3,92.5 140.8,90.2 133.9,90.7 138.4,88.0 135.5,85.8 132.1,84.8 128.5,84.5 125.0,84.9 119.8,85.4 114.7,84.4 110.4,84.6 106.1,83.8 102.4,86.0 98.2,87.1 91.6,88.6 84.8,89.3 80.4,91.1 75.9,92.9 70.9,93.8 67.0,96.9 62.0,99.1 58.0,102.7 56.4,106.5 53.6,109.4 50.3,111.8 46.9,113.9 42.4,116.1 37.9,118.4 34.7,119.8 31.2,120.6 27.1,123.5 22.3,125.1 22.3,131.8 23.8,135.0 24.6,138.5 29.0,142.5 35.7,142.5 39.2,141.3 42.4,139.4 47.3,134.9 49.1,138.5 52.7,144.3 55.6,147.3 56.7,151.4 58.0,154.5 63.4,154.5 64.7,151.9 71.4,151.0 73.7,147.4 73.7,140.7 77.1,139.0 80.4,137.1 83.9,134.0 78.1,131.8 76.8,129.5 78.4,125.5 80.4,121.5 82.9,118.4 86.1,116.0 89.9,114.9 93.7,113.9 98.2,108.5 102.6,107.9 107.1,108.1 112.9,110.8 107.1,113.9 101.3,116.9 96.0,120.6 95.1,125.1 96.0,131.8 99.3,133.1 102.7,134.4 109.1,131.8 116.1,132.2 121.8,133.2 127.2,131.3 130.4,133.2 133.9,134.0 129.2,134.0 125.0,136.2 118.3,137.6 111.6,136.2 104.9,137.6 108.9,141.6 108.5,143.8 104.9,147.4 101.4,146.5 98.2,144.7 93.7,147.4 94.7,151.4 93.7,155.4 88.4,159.0 82.6,157.7 76.9,157.8 71.4,159.5 67.5,160.8 63.4,161.2 60.3,158.6 53.6,159.9 49.1,160.8 43.7,157.2 44.6,154.1 46.0,149.6 46.9,144.3 42.0,146.8 36.6,147.4 37.1,154.1 38.4,159.5 35.7,162.6 29.0,163.0 25.3,164.3 21.4,165.3 17.9,169.7 13.4,172.9 7.6,174.6 6.7,178.2 3.0,179.1 0.0,181.3 0.0,181.3M1607.0,181.3 1602.9,181.4 1599.0,180.5 1599.9,184.9 1593.6,184.0 1589.4,184.0 1585.6,185.8 1586.9,188.5 1591.6,191.5 1597.2,192.1 1601.6,196.5 1601.6,201.0 1600.2,204.5 1599.0,208.1 1595.4,209.1 1591.8,208.9 1588.2,208.3 1584.7,207.7 1578.1,205.6 1571.3,206.8 1565.9,209.9 1567.3,214.3 1567.7,218.9 1566.5,224.1 1564.6,229.1 1566.7,232.6 1566.8,236.7 1570.9,236.6 1574.6,238.5 1578.4,239.4 1582.0,241.2 1587.4,238.1 1592.7,237.8 1598.1,237.6 1601.0,235.6 1603.9,233.6 1607.0,229.8M0.0,229.8 0.9,228.7 0.0,227.1M1607.0,227.1 1606.1,225.6 1607.0,224.4M0.0,224.4 3.6,219.8 9.8,217.5 14.3,214.8 13.4,212.2 15.6,208.6 21.4,208.1 26.8,209.5 29.8,207.2 33.5,206.4 39.3,203.7 43.7,205.0 46.0,207.7 49.1,212.2 54.5,215.3 58.0,217.5 63.8,220.2 68.3,222.9 71.4,225.6 70.5,228.7 70.1,232.5 73.7,230.5 76.3,227.8 74.1,224.2 75.9,221.1 81.2,224.2 82.6,222.9 80.4,220.7 76.5,219.3 72.8,217.5 71.4,215.3 67.8,215.0 64.7,213.1 60.7,207.7 55.4,204.1 55.4,199.7 60.7,197.9 61.2,201.4 63.8,199.7 67.0,203.2 70.9,204.6 73.7,207.7 78.3,209.5 82.6,212.2 87.0,215.3 86.6,221.1 91.5,225.6 94.6,230.9 96.4,236.7 99.1,238.5 103.1,239.0 102.7,234.5 107.1,233.6 107.1,232.3 104.0,228.7 101.3,225.6 101.8,221.1 106.2,222.4 109.4,219.3 116.1,220.2 118.3,220.7 122.8,218.9 129.5,218.0 125.4,216.2 123.6,212.2 125.0,209.9 128.1,204.6 132.6,199.7 134.7,196.6 137.5,194.3 142.8,194.7 149.5,196.1 146.0,198.8 150.4,203.7 156.2,201.9 162.9,200.1 158.5,199.7 156.2,195.6 161.9,194.1 167.4,192.1 174.1,191.2 171.9,196.5 167.4,201.0 171.9,203.7 175.2,205.7 178.6,207.7 181.6,210.4 185.3,212.2 185.7,216.2 182.0,217.2 178.6,218.9 171.9,218.9 167.5,217.7 162.9,217.5 159.9,215.3 156.2,214.4 149.5,214.4 145.2,216.4 140.6,218.0 135.1,218.7 129.5,218.4 129.5,221.1 122.8,221.5 117.0,223.3 120.5,225.6 118.3,230.0 121.9,234.5 125.0,238.1 128.1,240.0 131.7,240.3 136.6,237.6 142.8,239.0 147.3,240.3 150.5,238.6 154.0,238.1 157.8,238.7 161.6,238.5 160.3,243.4 159.1,246.9 158.5,250.6 155.8,256.8 152.7,262.2 148.5,263.4 144.2,262.6 145.5,268.4M209.8,198.8 214.7,197.3 218.7,194.3 223.3,194.5 227.7,193.0 232.1,193.9 236.6,194.3 236.6,201.0 232.0,201.6 227.7,203.2 224.5,205.5 229.9,209.9 235.7,212.2 234.4,216.6 240.2,218.9 237.8,221.9 236.6,225.6 240.2,230.0 240.2,236.7 236.3,238.2 232.1,238.1 228.8,236.9 225.4,235.8 222.1,234.5 218.7,233.2 218.7,227.8 221.0,222.0 219.3,218.3 216.5,215.3 212.0,209.9 211.4,206.4 209.8,203.2 209.8,198.8M261.1,194.3 267.8,194.3 270.8,197.1 274.5,198.8 273.3,202.1 272.3,205.5 268.7,205.9 265.6,207.7 260.2,203.2 261.1,198.8 261.1,194.3M328.1,198.8 331.7,196.6 334.8,193.9 339.2,193.0 343.7,193.4 348.2,192.5 352.6,193.9 350.4,195.6 344.9,197.2 339.3,196.5 336.0,197.9 332.6,198.8 328.1,198.8M463.4,172.0 466.9,170.1 470.9,169.7 475.9,167.8 479.9,164.4 484.5,160.5 488.8,156.3 490.1,153.2 487.1,155.7 484.3,158.6 479.6,161.6 475.4,165.3 470.7,167.5 466.5,170.6 463.4,172.0M1582.4,178.2 1591.4,177.3 1602.5,175.5 1607.0,174.8M0.0,174.8 5.8,173.8 4.5,170.6 7.6,166.6 1.3,165.3 0.0,162.6 0.0,162.6M1607.0,162.6 1605.7,158.6 1600.3,155.4 1598.1,151.9 1592.7,151.9 1597.2,148.3 1598.1,144.3 1593.6,144.5 1589.1,144.7 1592.7,140.7 1588.6,141.5 1584.7,140.3 1581.1,145.2 1582.4,151.0 1583.3,154.1 1585.6,157.2 1591.4,156.8 1593.6,160.8 1593.6,163.9 1586.9,163.9 1587.8,167.5 1583.8,170.6 1588.1,172.2 1592.7,172.4 1588.3,173.8 1585.1,175.6 1582.4,178.2M1580.2,168.8 1579.3,163.9 1582.0,158.6 1578.0,155.4 1574.2,155.7 1570.4,155.9 1569.1,159.5 1562.4,159.9 1564.6,164.4 1561.5,169.7 1564.6,172.0 1571.3,170.6 1575.8,169.8 1580.2,168.8M1506.6,117.0 1512.1,118.2 1517.7,118.4 1522.2,117.6 1526.6,118.8 1530.1,118.0 1533.6,117.6 1536.8,116.2 1540.0,114.8 1545.8,111.7 1543.0,109.3 1540.9,106.3 1537.0,106.7 1533.3,105.4 1529.0,106.9 1524.4,107.2 1519.9,107.3 1515.5,108.5 1511.9,107.7 1508.8,105.9 1502.1,107.2 1499.9,109.4 1504.2,110.7 1508.8,110.8 1504.1,110.6 1499.9,112.6 1504.3,113.7 1508.8,114.8 1506.6,117.0M49.1,49.1 52.9,50.9 55.4,54.2 59.4,55.3 62.5,58.1 69.1,59.7 75.9,59.4 80.5,56.8 84.8,53.6 91.6,53.4 98.2,52.3 94.7,52.6 91.2,52.2 88.1,50.4 84.8,49.1 88.1,47.7 91.1,45.7 94.7,45.5 98.2,44.7 102.6,43.4 107.1,43.1 111.6,43.5 116.1,43.8 109.4,42.6 102.8,41.2 96.0,41.7 89.3,42.0 85.1,44.1 80.5,44.5 75.9,43.9 71.4,45.1 65.9,46.8 60.2,46.7 54.3,46.6 49.1,49.1M229.9,84.0 234.4,80.4 238.2,78.9 241.0,75.9 244.8,71.9 250.0,70.1 253.3,68.8 256.6,67.3 260.3,66.8 263.4,64.8 268.0,63.7 272.6,64.5 277.2,63.5 281.2,61.2 285.9,61.6 290.5,62.0 295.1,61.1 299.1,58.5 303.5,58.4 308.0,58.5 303.5,61.2 299.0,62.2 294.8,64.1 290.3,65.0 285.7,64.8 281.6,65.5 278.1,67.7 274.1,68.1 270.1,68.3 263.9,69.7 258.9,73.7 256.0,76.9 252.2,79.1 256.7,84.0 254.4,86.7 248.9,86.2 243.3,86.2 238.7,86.4 234.4,84.9 229.9,84.0M209.8,42.4 215.5,41.1 221.2,40.8 226.9,42.2 232.1,44.7 237.9,43.9 243.1,41.1 249.1,40.8 254.4,43.3 260.1,43.6 265.6,42.4 271.3,42.9 276.8,41.5 272.2,41.9 267.8,40.4 263.5,38.7 258.9,38.9 252.1,39.1 245.6,40.9 238.9,39.1 232.1,40.2 226.8,42.4 221.2,43.4 215.5,43.3 209.8,42.4M424.1,49.1 429.9,48.8 435.4,50.7 440.6,53.1 446.4,53.6 452.2,54.1 457.7,55.8 463.6,55.3 468.7,52.3 464.4,49.4 459.8,46.9 455.1,46.7 450.7,45.3 446.1,44.4 441.9,42.4 435.2,41.6 428.5,40.2 425.3,41.7 422.1,43.2 418.7,44.5 415.1,44.7 420.1,45.9 424.1,49.1M611.6,67.0 617.0,69.0 622.9,68.5 628.3,70.1 633.9,71.5 638.6,71.9 643.3,71.4 647.0,68.2 651.7,67.0 656.2,68.2 660.7,68.3 665.1,67.1 669.6,66.1 665.4,63.6 660.7,62.5 654.0,61.2 647.3,61.6 640.5,61.6 633.9,62.5 628.0,63.1 622.2,62.4 617.4,65.9 611.6,67.0M796.8,84.9 802.3,86.6 808.0,85.8 814.7,84.0 808.0,82.2 803.5,83.3 799.0,82.6 796.8,84.9M633.9,196.5 637.2,194.7 640.6,193.0 639.1,188.1 638.3,183.1 645.0,182.2 641.9,178.5 639.7,174.2 639.2,167.5 638.6,163.3 637.0,159.5 633.9,163.0 632.3,167.4 633.0,172.0 634.6,177.4 634.8,183.1 633.9,189.8 633.9,196.5M624.9,216.6 629.4,212.2 633.8,213.6 638.3,214.4 643.6,210.9 649.5,208.6 647.3,204.6 643.7,203.6 640.7,201.5 637.1,200.6 633.9,198.8 633.0,203.3 631.6,207.7 626.3,209.0 626.3,213.0 624.9,216.6M631.6,217.5 631.9,221.8 633.9,225.6 631.6,228.9 629.4,232.3 629.4,239.0 626.3,244.8 620.5,245.7 616.1,247.2 611.6,247.5 609.3,252.4 602.6,251.5 602.6,247.5 598.0,247.2 593.7,248.8 589.1,248.3 584.8,250.1 584.3,247.9 587.8,245.6 591.5,243.4 598.2,243.0 602.5,241.7 607.1,242.1 608.8,238.4 611.6,235.4 618.2,235.4 622.7,230.0 623.1,226.4 624.9,223.3 626.3,218.9 631.6,217.5M584.8,250.6 588.3,254.6 587.0,261.3 583.0,262.6 581.2,258.2 579.0,253.7 582.5,251.0 584.8,250.6M591.5,250.1 595.9,249.3 600.4,249.2 599.5,251.9 595.0,253.7 591.5,254.6 591.5,250.1M542.4,289.4 544.6,292.6 543.3,297.5 540.1,301.5 536.6,299.3 537.9,292.6 542.4,289.4M485.2,316.2 491.0,312.7 495.5,314.5 493.7,317.7 491.0,320.3 485.7,319.4 485.2,316.2M357.1,358.7 360.1,361.0 362.5,364.0 363.7,367.4 365.1,370.7 360.7,375.2 357.1,374.3 357.5,370.2 356.2,366.3 357.2,362.5 357.1,358.7M537.9,319.4 544.6,319.8 545.5,324.0 545.9,328.3 544.3,331.7 542.4,335.0 546.8,339.5 550.1,341.7 553.5,343.9 551.3,344.8 546.8,341.7 540.1,340.8 537.9,336.3 535.7,330.5 536.4,324.9 537.9,319.4M544.6,370.7 547.6,366.9 551.3,363.6 555.2,360.1 560.2,358.7 562.9,362.2 564.7,366.3 563.3,373.0 560.2,376.1 557.3,373.7 553.5,373.0 551.3,368.5 548.2,370.3 544.6,370.7M544.6,355.1 549.1,350.6 553.5,348.4 558.0,346.2 558.9,349.6 560.2,352.9 556.4,354.5 553.5,357.3 550.0,360.5 546.8,358.2 544.6,355.1M523.6,364.0 525.2,360.3 527.6,357.1 530.4,354.1 533.4,351.5 532.5,356.4 529.6,360.4 525.8,363.6 523.6,364.0M486.6,395.3 491.0,394.4 496.8,390.8 500.6,389.2 504.4,387.7 509.8,384.7 513.3,379.7 518.0,375.9 520.9,370.7 525.4,373.9 527.8,376.9 531.2,378.8 526.7,382.8 525.4,388.6 526.7,393.1 531.2,397.5 525.8,398.4 526.1,402.2 524.5,405.6 520.0,408.7 520.5,413.3 518.7,417.6 515.2,418.4 512.0,419.9 508.6,417.3 504.4,416.3 497.7,415.4 494.8,412.5 491.9,409.6 489.4,406.8 486.6,404.2 485.4,399.8 486.6,395.3M425.4,377.0 430.4,377.6 435.2,378.8 437.2,382.5 440.6,385.0 444.0,389.3 448.6,392.2 453.5,397.0 459.8,399.8 460.7,403.6 463.4,406.5 466.4,409.0 468.7,412.3 473.2,416.3 473.9,422.2 472.3,427.9 466.5,427.5 461.4,424.9 457.5,420.8 454.2,416.9 450.9,413.2 448.6,408.4 445.5,404.2 444.1,399.2 440.6,395.3 437.3,390.8 433.0,387.3 429.6,381.8 425.4,377.0M470.0,431.9 473.6,430.8 476.7,428.8 480.6,430.3 484.3,431.9 489.5,431.6 494.6,431.0 499.1,431.1 503.1,433.3 506.9,435.4 511.1,436.4 510.7,440.9 505.2,440.7 500.0,439.1 493.5,436.5 486.6,436.8 481.1,435.5 475.4,435.1 470.0,431.9M533.4,426.6 534.7,420.8 537.0,415.4 533.2,411.5 531.2,406.5 532.9,402.2 535.7,398.4 540.2,398.3 544.6,397.5 550.2,397.4 555.8,396.2 558.0,394.9 555.2,398.2 551.3,400.2 545.3,401.6 539.2,400.2 540.1,406.5 544.6,406.1 549.1,405.6 544.6,410.9 546.2,415.5 548.2,419.9 543.7,422.1 541.7,418.4 540.1,414.5 539.7,420.7 537.5,426.6 533.4,426.6M551.3,448.0 554.8,445.3 558.0,442.2 562.1,439.7 566.9,439.5 562.4,443.5 558.2,446.0 553.5,447.6 551.3,448.0M515.6,439.1 522.3,439.1 526.7,439.4 531.2,440.0 535.7,441.0 540.1,440.0 544.2,439.8 548.2,439.1 544.6,441.8 539.0,440.9 533.4,442.2 527.9,442.3 522.3,442.2 518.7,441.1 515.6,439.1M569.1,394.0 573.6,397.5 572.9,401.0 571.4,404.2 570.0,399.8 569.1,394.0M571.4,415.4 577.0,416.7 582.5,415.4 583.9,418.1 578.8,417.3 573.6,417.6 571.4,415.4M584.8,405.6 591.5,403.8 598.2,405.6 601.0,410.9 602.6,416.7 606.3,412.3 611.6,410.0 616.0,410.5 620.5,410.9 624.8,412.7 629.4,413.6 633.0,414.3 636.2,416.0 639.7,417.0 642.8,419.0 647.2,421.1 650.8,424.3 655.1,427.0 659.8,428.8 656.2,432.4 658.7,436.9 662.9,440.0 668.0,443.8 671.8,448.9 666.1,449.6 660.7,447.6 655.9,444.1 651.7,440.0 647.2,438.4 642.8,436.4 640.3,439.1 638.3,442.2 633.9,443.3 629.4,443.1 625.4,439.7 620.5,437.7 616.0,439.1 617.5,435.9 618.2,432.4 616.0,429.5 613.8,426.6 609.0,425.0 604.9,422.1 599.5,419.6 593.7,419.9 592.8,414.5 598.2,411.8 593.7,412.3 589.2,411.8 587.5,408.3 584.8,405.6M662.9,427.5 666.4,426.4 669.6,424.3 673.9,422.1 678.5,420.8 679.9,424.3 675.2,426.1 671.8,429.7 667.3,428.6 662.9,427.5M691.9,428.8 696.9,431.4 700.8,435.5 706.7,436.5 712.0,439.1 715.5,442.3 718.7,445.8 714.2,444.4 708.9,441.3 703.1,439.1 700.3,436.3 698.7,432.6 695.2,430.9 691.9,428.8M743.7,469.0 746.8,472.6 748.6,475.7 746.4,474.8 743.7,469.0M732.1,492.2 735.7,493.5 738.8,495.8 741.4,499.5 745.5,501.6 741.0,501.2 737.2,499.1 734.3,495.8 732.1,492.2M791.4,480.2 797.3,479.7 797.3,483.3 791.9,482.8 791.4,480.2M506.7,500.3 509.8,499.4 513.3,496.2 517.8,494.9 522.0,492.8 526.7,492.7 533.4,491.3 537.8,488.9 542.4,486.9 544.8,483.9 545.9,480.2 551.3,479.3 554.1,476.8 555.8,473.5 559.6,469.4 562.4,464.5 569.1,464.5 573.6,469.0 579.0,468.6 582.1,463.7 582.5,457.8 586.5,455.9 589.2,452.5 593.7,454.3 598.3,455.0 602.6,456.5 606.6,455.4 610.7,455.6 608.1,458.5 607.1,462.3 605.5,465.5 604.9,469.0 608.7,470.4 611.6,473.5 615.7,477.2 620.5,480.2 627.2,480.2 629.1,474.4 631.6,469.0 631.8,464.5 632.5,460.1 633.9,455.0 636.1,450.2 639.0,453.7 640.6,457.8 641.6,461.9 640.6,465.9 644.8,467.0 648.6,469.0 650.6,474.5 651.7,480.2 652.1,483.8 654.0,486.9 658.9,488.7 662.9,492.2 664.1,496.8 667.4,500.3 670.8,503.2 673.2,507.0 677.2,510.0 680.7,513.7 681.6,518.4 683.9,522.6 683.8,527.2 685.2,531.5 683.8,537.2 682.1,542.7 680.2,547.8 676.3,551.6 674.1,556.1 671.8,560.6 671.0,564.7 669.6,568.6 664.8,569.0 660.7,571.3 657.3,574.3 653.1,576.2 649.6,574.6 646.4,572.6 640.6,575.3 635.4,572.4 629.4,571.7 625.0,568.1 622.7,562.8 617.4,558.3 615.8,553.9 614.7,549.4 612.9,556.1 607.1,557.4 604.9,553.0 601.9,550.2 598.2,548.5 593.0,544.8 587.0,542.7 581.5,544.3 575.8,543.1 572.5,544.3 569.5,546.1 565.9,546.3 562.4,545.8 558.4,548.6 553.5,549.4 551.3,553.4 547.3,553.0 543.5,551.7 539.8,553.6 535.7,553.4 531.5,556.4 526.7,558.3 522.3,557.3 517.8,557.4 513.3,555.2 516.0,550.4 516.5,544.9 514.5,540.6 513.3,536.0 510.5,530.7 508.9,524.8 507.9,521.1 505.3,518.1 508.9,515.9 508.0,512.5 506.7,509.2 506.1,504.7 506.7,500.3M645.9,584.2 649.9,585.4 654.0,585.6 657.9,585.7 661.5,584.2 661.5,590.5 657.5,595.4 651.7,596.3 648.2,590.9 647.3,587.5 645.9,584.2M770.9,555.7 773.9,558.9 778.1,560.6 781.3,562.4 783.4,565.5 787.9,570.4 791.9,569.8 795.9,570.4 794.8,573.8 793.7,577.1 790.1,578.4 787.4,582.0 786.5,586.5 780.3,586.5 781.2,580.7 775.8,577.5 778.5,575.1 779.8,571.7 778.9,565.9 775.8,562.7 773.1,559.2 770.9,555.7M770.9,582.9 774.6,585.1 777.6,588.3 774.6,592.4 771.4,596.3 767.8,598.1 764.2,599.9 762.4,603.0 762.0,606.6 758.5,609.0 754.4,610.1 747.7,608.4 743.2,606.6 747.9,603.2 751.3,598.5 756.5,596.5 761.1,593.2 764.4,591.0 766.9,587.8 770.9,582.9M857.1,109.0 861.7,108.4 866.3,108.2 870.7,106.8 874.9,105.0 879.4,104.3 883.9,103.2 880.4,102.1 877.2,100.5 871.4,98.8 866.0,96.0 869.2,94.5 872.5,93.3 876.0,92.7 879.4,91.6 884.0,90.6 888.7,90.0 892.9,87.7 897.2,85.8 902.6,83.4 908.4,83.5 913.5,82.0 918.6,83.1 923.5,84.7 928.5,85.8 932.9,86.9 937.3,88.1 941.8,87.4 946.3,88.0 952.0,88.4 957.6,87.2 963.0,89.1 968.7,89.3 975.6,88.7 982.1,91.1 986.7,90.6 991.3,90.3 995.9,91.3 999.9,93.8 1006.6,92.9 1013.3,91.6 1017.7,90.5 1022.1,89.6 1026.6,88.6 1031.2,89.3 1035.8,89.8 1040.1,88.0 1043.6,89.1 1046.4,91.3 1049.9,91.5 1053.5,92.0 1060.3,93.0 1066.9,90.7 1071.5,90.1 1076.0,91.4 1080.4,92.7 1084.7,94.2 1088.2,94.3 1091.8,94.4 1095.3,95.1 1098.1,97.4 1093.7,99.2 1099.3,98.3 1104.8,96.6 1110.6,96.4 1116.0,98.7 1120.4,97.1 1124.9,95.6 1131.6,96.5 1138.3,96.0 1145.0,97.4 1151.7,99.2 1156.2,99.1 1160.6,97.9 1165.0,99.2 1169.5,99.2 1174.0,96.0 1177.4,97.0 1180.7,98.3 1179.8,94.8 1178.5,91.6 1183.4,86.8 1187.4,81.3 1191.5,84.8 1196.3,87.1 1200.2,91.3 1205.2,93.8 1209.6,95.3 1214.2,96.0 1219.1,97.4 1223.1,100.5 1228.0,99.1 1232.8,97.6 1236.2,93.6 1241.0,91.6 1245.4,96.0 1243.6,99.6 1241.0,102.7 1234.2,104.1 1227.6,105.9 1223.3,108.4 1218.6,110.3 1216.1,113.0 1214.2,116.1 1207.6,117.9 1200.8,117.5 1196.8,121.4 1191.9,124.2 1189.0,128.4 1185.2,131.8 1185.8,135.6 1185.2,139.4 1188.8,144.3 1194.1,147.4 1199.7,147.6 1205.2,147.4 1209.8,148.3 1214.4,149.3 1218.9,150.7 1223.1,152.8 1226.9,154.1 1231.0,153.7 1235.0,153.8 1238.7,155.4 1238.6,160.6 1241.0,165.3 1244.3,168.6 1247.7,172.0 1254.4,172.0 1253.6,166.4 1254.4,160.8 1257.5,158.9 1259.7,155.9 1262.3,153.2 1263.3,149.6 1260.3,144.5 1256.6,139.8 1259.6,137.5 1261.0,134.0 1258.9,129.1 1258.8,123.7 1263.3,124.2 1267.7,123.6 1272.2,124.4 1276.7,123.7 1281.2,125.2 1285.1,128.1 1289.6,130.0 1294.5,129.5 1294.9,134.2 1296.8,138.5 1302.0,141.2 1307.9,141.6 1311.5,136.7 1316.8,134.0 1321.1,137.1 1325.4,140.3 1328.0,145.1 1332.5,148.3 1335.3,150.4 1338.8,151.2 1341.7,153.4 1343.6,156.3 1347.1,158.6 1351.0,159.7 1353.4,163.2 1357.0,165.3 1358.4,172.0 1353.0,171.8 1348.1,174.2 1343.6,175.8 1339.2,177.8 1334.5,177.7 1330.3,175.6 1325.9,176.8 1321.3,177.3 1317.9,178.1 1314.7,179.8 1311.5,181.2 1307.9,181.3 1302.9,183.6 1299.0,187.6 1302.6,187.1 1305.6,185.2 1308.9,183.8 1312.4,183.1 1319.1,183.1 1314.6,188.5 1317.3,191.6 1319.1,195.2 1324.5,196.9 1330.2,197.0 1334.8,197.8 1339.2,196.5 1334.7,199.7 1331.3,200.7 1328.4,202.8 1324.9,203.7 1321.3,203.2 1316.8,204.8 1312.4,206.8 1312.4,202.3 1315.8,201.0 1319.1,199.2 1313.6,200.9 1307.9,201.0 1303.6,203.5 1299.0,205.5 1295.9,207.7 1292.3,208.6 1291.0,214.4 1294.5,215.7 1287.8,217.5 1282.5,219.9 1276.7,220.7 1275.8,225.6 1273.2,228.2 1270.0,230.0 1268.7,233.3 1267.7,236.7 1269.1,243.4 1266.0,245.4 1263.3,247.9 1259.2,250.8 1254.4,252.4 1250.7,256.9 1245.4,259.1 1244.6,262.5 1243.2,265.8 1244.9,271.6 1247.7,276.9 1249.5,281.2 1249.9,285.9 1247.7,289.4 1243.2,286.8 1239.9,282.6 1237.4,277.8 1237.8,272.5 1234.6,270.7 1232.0,268.0 1225.3,269.3 1220.0,267.1 1214.2,266.7 1207.5,267.1 1208.8,272.0 1204.8,271.5 1200.8,271.1 1193.9,272.0 1187.4,269.8 1182.4,273.8 1176.2,275.6 1172.7,281.4 1172.5,285.9 1171.8,290.3 1171.0,295.9 1170.4,301.5 1171.9,306.1 1174.0,310.4 1176.9,313.3 1178.5,317.1 1182.1,318.3 1185.2,320.7 1190.8,320.4 1196.3,318.9 1199.1,316.8 1202.1,314.9 1203.5,308.2 1208.7,306.5 1214.2,306.0 1218.6,306.9 1217.9,311.0 1216.4,314.9 1214.2,319.4 1212.0,323.6 1211.9,328.3 1211.1,331.4 1217.1,330.6 1223.1,331.0 1227.5,332.0 1232.0,332.8 1235.2,335.9 1235.1,341.1 1234.3,346.2 1233.4,352.9 1235.5,355.7 1237.4,358.7 1241.0,361.8 1246.3,362.7 1252.1,359.6 1258.8,360.5 1261.9,364.0 1259.3,369.8 1257.5,365.4 1252.1,362.2 1248.5,365.4 1249.9,368.9 1245.4,369.4 1241.0,365.4 1236.5,364.9 1233.4,362.7 1228.5,358.2 1224.0,356.4 1224.0,352.0 1221.9,348.3 1218.6,345.7 1215.1,343.0 1211.4,341.4 1207.5,341.7 1202.9,340.9 1198.6,339.5 1193.5,336.4 1189.6,331.9 1185.2,329.6 1181.7,330.4 1178.5,331.9 1173.8,331.2 1169.5,329.2 1164.7,328.8 1160.6,326.1 1156.6,322.9 1151.7,321.6 1147.1,319.5 1142.8,317.1 1139.9,313.7 1136.1,311.3 1137.0,305.1 1134.1,301.2 1131.6,297.0 1128.9,293.0 1124.9,290.3 1121.5,287.1 1118.2,283.6 1113.7,279.2 1109.8,276.4 1107.0,272.5 1103.7,268.6 1102.6,263.5 1098.6,261.9 1094.5,260.4 1094.5,264.2 1095.0,268.0 1097.1,271.5 1100.3,273.8 1103.8,277.0 1105.7,281.4 1108.4,285.4 1111.5,289.0 1114.6,294.8 1118.2,298.4 1115.1,299.3 1110.8,295.7 1107.0,291.7 1105.7,285.9 1101.5,283.2 1097.2,280.5 1095.9,274.7 1092.4,271.9 1090.1,268.0 1086.8,262.7 1084.7,256.8 1081.4,253.4 1078.0,250.1 1073.6,248.0 1068.7,247.9 1064.5,243.4 1062.4,237.6 1060.2,233.2 1056.8,228.3 1053.5,223.3 1053.7,218.8 1052.6,214.4 1054.4,208.9 1053.5,203.2 1052.8,199.2 1053.5,195.2 1051.0,190.8 1050.4,185.8 1055.1,187.8 1060.2,187.6 1058.8,183.1 1054.5,179.7 1049.0,178.7 1043.4,176.5 1037.9,174.2 1036.0,171.1 1035.6,167.5 1031.9,163.2 1026.7,160.8 1024.3,157.6 1022.2,154.1 1019.5,150.5 1015.5,148.3 1012.4,145.0 1008.8,142.0 1003.4,140.4 997.7,140.7 994.1,140.2 991.0,138.5 986.8,136.2 982.1,135.3 977.5,135.3 973.1,134.0 966.4,133.7 959.7,132.7 953.2,130.3 946.3,130.4 942.0,128.8 937.4,128.6 934.3,130.8 930.7,131.8 930.7,137.1 926.3,137.8 921.8,137.1 919.6,142.9 914.1,145.5 908.4,147.4 903.9,149.6 899.5,151.9 894.0,154.0 888.3,155.4 884.1,157.4 879.4,157.7 875.4,158.4 871.4,158.1 877.9,156.4 883.9,153.2 888.7,152.3 892.8,149.6 896.6,145.9 901.7,144.3 903.9,139.4 897.2,140.3 891.0,139.8 884.7,139.8 883.9,134.9 878.5,132.6 872.7,131.8 868.7,129.9 866.0,126.4 868.7,123.9 870.5,120.6 875.8,118.4 881.6,118.4 885.1,116.5 888.3,114.3 883.9,114.0 879.4,113.9 875.5,113.4 871.6,112.9 867.7,112.1 863.8,113.0 860.2,111.3 857.1,109.0M1055.7,185.8 1049.0,184.0 1044.1,182.0 1040.1,178.7 1034.3,175.1 1039.5,175.4 1044.5,176.9 1047.9,179.1 1051.2,181.3 1055.7,185.8M1021.3,169.7 1018.2,167.3 1015.5,164.4 1013.3,160.4 1018.7,160.8 1020.0,166.2 1021.3,169.7M917.3,147.4 924.0,146.1 927.6,142.9 921.8,142.9 917.3,145.2 917.3,147.4M1342.3,189.4 1347.4,188.2 1352.6,189.4 1356.2,190.6 1359.3,193.0 1363.8,192.4 1368.2,193.4 1371.8,189.8 1368.2,185.4 1368.2,181.8 1364.0,179.7 1359.3,179.6 1357.0,175.1 1358.8,172.0 1352.6,174.2 1350.0,177.3 1348.1,180.9 1344.6,183.2 1342.3,186.7 1342.3,189.4M1319.1,179.1 1324.9,179.7 1330.2,182.2 1331.1,180.9 1326.4,179.1 1321.3,178.7 1319.1,179.1M1228.0,304.2 1231.8,300.9 1236.5,299.3 1241.0,299.1 1245.4,298.8 1249.8,300.5 1254.4,301.5 1259.0,303.4 1263.3,306.0 1267.4,308.6 1272.2,309.5 1275.8,311.8 1270.0,313.1 1265.5,313.0 1261.0,313.1 1258.8,309.5 1255.6,307.4 1252.1,305.5 1247.9,303.5 1243.2,303.3 1236.5,303.7 1232.3,304.8 1228.0,304.2M1274.9,319.8 1278.9,317.3 1281.1,313.1 1287.8,313.1 1291.5,314.7 1295.4,315.8 1301.7,318.9 1299.0,320.3 1292.3,320.3 1286.9,322.5 1281.1,320.7 1274.9,319.8M1257.5,320.3 1263.3,319.4 1266.9,321.6 1262.4,322.5 1257.5,320.3M1307.0,319.8 1313.7,319.8 1313.3,321.6 1307.0,321.6 1307.0,319.8M1258.8,283.6 1262.4,283.2 1262.4,285.9 1258.8,283.6M1257.9,291.2 1260.2,293.9 1259.7,290.3 1257.9,291.2M1331.1,354.2 1335.1,353.8 1334.7,356.9 1331.1,356.9 1331.1,354.2M910.6,317.1 915.1,314.9 914.2,311.8 910.6,312.7 910.6,317.1M907.5,308.6 910.6,309.1 909.3,310.0 907.5,308.6M900.8,306.0 903.0,306.4 901.7,306.9 900.8,306.0M894.1,303.3 895.9,303.3 895.0,304.2 894.1,303.3M1196.3,193.4 1200.7,191.4 1205.2,189.8 1208.9,188.6 1211.9,186.3 1217.6,186.2 1223.1,187.6 1225.4,190.6 1228.9,192.1 1228.9,194.3 1223.8,194.1 1218.6,194.3 1214.1,194.0 1209.7,193.0 1203.0,192.3 1196.3,193.4M1215.1,214.4 1220.9,214.4 1221.2,209.9 1221.8,205.5 1224.0,201.0 1227.6,197.4 1228.9,197.4 1223.1,199.7 1218.6,197.4 1214.2,201.9 1214.4,205.6 1215.5,209.0 1215.1,214.4M1229.8,196.5 1235.4,195.2 1241.0,196.5 1245.1,199.5 1249.9,201.0 1249.9,203.2 1246.4,206.4 1242.3,208.6 1238.7,209.9 1234.3,205.5 1235.2,200.1 1229.8,196.5M1234.3,215.7 1241.0,216.6 1245.5,215.4 1249.9,213.5 1254.8,210.8 1251.1,210.4 1247.7,211.7 1243.1,212.9 1238.7,214.4 1234.3,215.7M1250.8,208.6 1257.0,209.1 1263.3,208.6 1266.9,207.3 1265.5,204.6 1258.8,205.9 1254.9,207.6 1250.8,208.6M1167.3,176.4 1174.0,176.4 1174.3,172.8 1176.2,169.7 1171.9,166.5 1169.5,161.7 1165.1,164.4 1167.9,167.1 1169.5,170.6 1167.3,176.4M1057.9,110.8 1064.6,111.6 1071.3,111.7 1075.7,109.3 1080.3,107.2 1075.8,102.7 1071.3,103.8 1066.9,105.0 1059.9,104.7 1053.5,107.2 1057.9,110.8M1084.7,129.5 1089.2,128.7 1093.7,129.5 1098.9,126.5 1104.8,125.1 1111.7,123.8 1118.2,121.5 1111.5,121.0 1108.4,122.8 1105.1,124.0 1101.6,124.6 1098.1,123.7 1093.0,127.0 1087.0,127.3 1084.7,129.5M1249.9,72.8 1256.6,72.8 1263.3,73.7 1267.7,76.8 1272.4,77.4 1277.1,78.2 1280.9,81.2 1285.6,82.2 1289.8,84.4 1294.4,85.5 1299.1,86.1 1303.5,88.0 1305.6,91.0 1307.9,93.8 1313.5,96.8 1319.9,97.2 1325.9,99.4 1330.2,104.1 1325.6,106.5 1321.3,109.4 1319.1,113.9 1316.8,118.4 1310.4,121.2 1303.5,121.5 1307.5,124.3 1312.4,125.1 1306.7,124.8 1301.0,124.8 1295.4,123.4 1290.1,121.5 1285.7,120.9 1281.6,119.1 1277.4,117.3 1274.4,113.9 1270.4,114.2 1266.6,115.5 1262.5,115.7 1258.8,113.9 1261.0,109.4 1264.9,109.8 1268.9,110.0 1272.8,110.6 1276.7,109.4 1280.0,104.3 1281.1,98.3 1277.7,97.3 1274.8,95.1 1271.2,95.0 1267.7,93.8 1264.4,92.7 1260.9,91.9 1257.6,90.6 1254.4,89.3 1248.7,89.6 1243.2,90.7 1237.7,89.1 1232.0,89.3 1227.5,90.7 1222.8,90.5 1218.3,89.2 1214.2,87.1 1210.0,83.4 1205.2,80.4 1207.6,77.1 1209.7,73.7 1214.1,72.6 1218.6,72.3 1223.1,71.3 1227.6,72.4 1233.0,74.0 1238.7,73.4 1244.3,73.9 1249.9,72.8M1084.7,89.3 1089.4,89.7 1093.5,92.1 1098.1,92.1 1102.6,92.9 1108.4,92.7 1114.0,90.9 1119.2,93.4 1124.9,94.7 1129.3,96.2 1133.9,96.1 1138.4,95.6 1142.8,94.2 1146.2,93.2 1149.7,93.1 1153.0,91.7 1156.1,90.2 1152.7,89.1 1149.4,87.7 1146.3,85.8 1142.8,84.9 1141.0,80.6 1138.3,76.8 1131.6,76.1 1124.9,75.0 1120.5,76.2 1116.1,77.4 1111.6,77.9 1107.0,77.3 1100.1,77.3 1093.7,74.6 1087.2,77.3 1080.3,78.2 1084.7,83.5 1084.7,89.3M1049.0,81.7 1053.6,82.3 1057.8,84.0 1062.4,83.8 1066.9,84.9 1070.7,84.5 1074.4,83.1 1077.9,81.3 1080.3,78.2 1084.5,75.7 1089.2,74.6 1084.7,70.6 1080.5,68.8 1075.9,68.1 1071.4,69.1 1066.9,69.2 1062.8,70.0 1059.3,72.3 1055.3,72.3 1051.2,71.5 1049.0,76.8 1049.0,81.7M1205.2,61.2 1210.9,60.8 1216.4,59.7 1222.2,59.2 1227.6,61.2 1232.8,63.7 1238.7,63.8 1244.1,61.7 1249.9,61.6 1253.0,59.3 1256.8,58.7 1259.7,56.2 1263.3,54.9 1267.0,54.6 1270.3,52.7 1273.3,50.7 1276.7,49.1 1283.3,47.0 1290.3,47.4 1293.7,46.1 1296.4,43.7 1300.0,44.3 1303.5,43.3 1308.2,42.0 1313.1,42.9 1317.4,40.8 1321.3,38.0 1325.7,35.7 1330.2,33.5 1326.2,31.1 1321.6,30.7 1316.9,30.9 1312.6,29.2 1308.0,30.0 1303.4,29.3 1299.2,31.2 1294.5,31.3 1289.9,31.3 1285.7,29.2 1281.2,28.5 1276.7,29.4 1272.1,30.2 1268.0,32.4 1263.4,31.5 1258.8,31.3 1253.9,29.6 1248.7,29.7 1243.6,29.0 1238.4,29.1 1233.8,31.3 1228.7,32.4 1223.9,34.5 1218.6,34.4 1214.0,34.7 1209.8,36.5 1205.2,36.5 1200.8,38.0 1203.6,40.5 1207.1,41.7 1210.9,41.9 1214.2,43.8 1220.8,45.6 1227.6,46.9 1223.4,50.2 1218.6,52.7 1214.2,57.2 1210.0,59.9 1205.2,61.2M1196.3,68.3 1200.7,66.5 1205.3,66.9 1209.9,67.5 1214.2,69.2 1218.7,70.1 1223.2,69.3 1227.6,70.6 1232.1,71.4 1236.6,70.1 1241.1,71.1 1245.5,69.7 1249.9,68.8 1249.9,64.8 1244.3,65.7 1238.6,65.8 1233.0,65.1 1227.6,63.4 1221.9,62.4 1216.4,64.0 1210.8,63.3 1205.2,62.5 1200.8,63.8 1196.3,64.8 1196.3,68.3M1178.5,46.9 1183.0,48.2 1187.5,49.3 1192.1,50.1 1196.3,52.3 1200.7,53.5 1205.3,53.1 1209.6,51.3 1214.2,51.4 1218.6,46.0 1214.2,44.1 1209.5,43.8 1204.8,42.8 1200.8,40.2 1196.3,41.2 1191.8,39.9 1187.5,41.4 1182.9,41.5 1178.5,46.9M1084.7,66.1 1090.2,67.6 1095.7,69.2 1101.4,70.1 1107.0,69.2 1112.9,69.1 1118.5,70.9 1123.9,68.9 1129.4,67.0 1133.8,62.5 1129.3,63.7 1124.7,64.2 1120.6,61.9 1116.0,61.2 1109.3,62.2 1102.6,61.5 1095.9,60.0 1089.2,61.6 1084.7,66.1M1180.7,79.5 1186.3,79.3 1191.9,80.4 1194.7,78.1 1198.2,77.2 1201.8,76.8 1205.2,75.9 1200.8,71.5 1196.2,72.0 1191.9,70.5 1187.3,70.3 1182.9,71.5 1181.8,75.5 1180.7,79.5M1151.7,82.6 1156.2,82.9 1160.6,83.5 1165.0,82.8 1169.5,82.6 1172.3,79.6 1174.0,75.9 1167.4,73.7 1160.6,72.4 1156.3,74.5 1151.7,75.9 1151.7,82.6M1218.6,118.4 1222.0,119.8 1224.9,122.0 1228.4,123.1 1232.0,122.8 1235.7,120.9 1239.4,118.9 1243.5,118.4 1247.7,118.4 1243.2,113.9 1238.1,110.5 1232.0,109.4 1227.4,109.9 1223.1,108.1 1221.7,113.6 1218.6,118.4M1142.8,66.1 1149.4,67.8 1156.1,69.2 1162.9,69.0 1169.5,67.0 1174.0,62.5 1167.1,61.9 1160.6,59.4 1156.1,59.4 1151.7,60.5 1147.2,60.5 1142.8,61.2 1142.8,66.1M1406.1,134.4 1410.5,133.4 1415.1,133.1 1416.9,128.9 1419.5,125.1 1422.1,120.0 1426.2,116.1 1432.4,113.8 1437.4,109.4 1440.8,108.1 1444.5,107.7 1447.8,106.2 1451.2,105.0 1454.1,102.6 1457.0,100.3 1460.6,99.5 1464.2,98.3 1469.8,97.5 1475.5,98.6 1480.9,97.0 1486.5,96.0 1490.6,92.3 1495.9,91.0 1501.2,89.9 1506.6,89.3 1503.1,87.2 1499.9,84.9 1504.6,83.3 1508.8,80.4 1504.4,78.0 1499.9,75.9 1504.4,74.0 1508.1,70.8 1513.0,70.5 1517.7,69.2 1519.9,65.8 1522.2,62.5 1518.2,59.4 1513.3,58.1 1516.5,56.5 1519.6,54.9 1523.2,54.5 1526.6,53.6 1523.7,49.5 1522.2,44.7 1525.9,43.2 1529.8,42.0 1533.7,41.2 1537.5,39.7 1541.6,39.4 1545.3,37.3 1549.4,37.0 1553.4,38.0 1549.1,36.6 1544.6,36.0 1540.2,34.8 1535.7,35.0 1531.2,35.6 1526.7,35.8 1522.2,35.8 1517.7,35.7 1513.1,31.9 1507.3,30.7 1501.4,30.9 1496.0,28.4 1490.3,27.2 1484.5,26.3 1479.0,28.7 1473.1,29.0 1467.4,29.6 1462.1,31.8 1456.3,31.5 1450.9,33.7 1445.3,32.6 1439.7,31.6 1434.0,32.2 1428.4,30.4 1422.7,30.8 1417.1,31.7 1411.7,33.7 1406.4,35.9 1400.8,34.9 1395.1,35.2 1389.4,34.3 1383.8,33.5 1378.3,34.9 1373.0,37.1 1367.3,36.3 1361.6,37.5 1356.1,36.4 1350.5,35.3 1344.8,35.8 1339.2,35.7 1333.4,36.3 1328.2,39.0 1322.4,38.8 1316.8,40.2 1312.4,42.4 1307.9,44.7 1314.8,44.6 1321.3,46.9 1316.7,46.3 1312.3,47.9 1308.2,50.0 1303.7,50.7 1299.2,49.6 1294.6,49.4 1290.1,50.6 1285.6,51.4 1285.6,55.8 1290.2,57.2 1295.1,57.7 1299.1,60.4 1303.5,62.5 1307.8,64.1 1312.4,64.5 1317.1,64.9 1321.3,66.9 1326.1,66.5 1330.0,63.9 1334.5,62.9 1339.2,62.5 1343.4,65.3 1348.1,67.0 1351.9,69.4 1355.9,71.2 1359.4,74.1 1361.5,78.2 1361.5,82.9 1363.7,87.1 1367.9,87.2 1372.0,87.7 1375.4,90.2 1379.3,91.6 1374.0,95.3 1368.2,98.3 1368.2,103.0 1370.4,107.2 1373.1,112.2 1377.1,116.1 1379.2,119.5 1382.0,122.4 1385.0,125.1 1388.3,127.3 1392.8,128.9 1397.2,130.9 1401.9,132.0 1406.1,134.4M1261.9,364.0 1267.7,361.8 1268.1,358.2 1270.0,355.1 1274.4,352.9 1278.6,350.1 1283.4,348.4 1287.8,346.6 1286.5,352.9 1288.7,353.8 1288.9,357.3 1288.7,360.9 1290.1,355.1 1294.5,350.6 1294.5,347.5 1298.4,348.7 1301.2,351.5 1304.6,352.9 1307.9,354.7 1313.5,355.3 1319.1,356.4 1324.8,355.9 1330.2,354.2 1328.0,358.2 1334.7,359.6 1339.2,364.0 1342.8,367.1 1345.9,370.7 1349.5,372.6 1352.6,375.2 1357.0,374.6 1361.5,375.2 1365.8,376.9 1370.4,377.4 1373.3,380.4 1377.1,381.9 1379.3,387.5 1381.6,393.1 1383.2,396.3 1383.8,399.8 1379.3,402.0 1386.0,402.9 1389.2,404.8 1392.7,405.6 1397.2,406.2 1401.7,407.4 1406.6,410.0 1410.6,414.1 1416.3,413.4 1421.7,415.0 1427.1,417.5 1432.9,418.5 1436.9,421.9 1441.8,423.9 1445.6,425.0 1449.4,425.7 1450.6,430.6 1451.7,435.5 1450.4,439.9 1449.4,444.4 1446.3,449.4 1441.8,453.4 1437.7,455.9 1435.1,460.1 1434.4,464.6 1432.9,469.0 1432.1,474.6 1432.0,480.2 1429.9,484.4 1429.3,489.1 1425.9,493.1 1424.0,498.0 1421.8,501.4 1419.5,504.7 1415.1,505.7 1410.6,505.6 1405.0,507.7 1399.4,510.1 1395.7,515.0 1390.5,518.1 1389.3,522.5 1389.6,527.1 1386.5,532.9 1382.5,538.2 1377.5,541.3 1374.0,545.8 1371.6,550.2 1368.2,553.9 1365.0,556.1 1361.5,557.9 1356.9,557.6 1352.6,556.1 1346.3,553.9 1349.2,558.2 1351.7,562.8 1351.4,567.9 1349.4,572.6 1344.7,575.5 1339.2,575.8 1334.3,575.2 1329.3,575.8 1329.5,579.4 1328.9,582.9 1323.0,584.8 1316.8,585.1 1319.4,588.3 1321.3,591.8 1318.4,594.1 1315.5,596.3 1314.6,603.0 1310.2,605.4 1305.7,607.5 1308.8,611.1 1312.4,614.2 1308.7,617.9 1305.7,622.2 1302.5,625.1 1299.0,627.6 1299.2,631.8 1301.2,635.6 1296.6,635.7 1292.3,637.4 1296.8,641.0 1301.7,642.2 1305.7,645.4 1310.7,646.8 1316.0,646.3 1310.2,648.6 1304.5,647.6 1299.0,649.0 1293.8,645.3 1287.8,643.2 1283.0,641.8 1278.9,638.7 1276.1,634.8 1272.2,632.0 1271.5,626.4 1270.0,620.9 1268.7,616.0 1270.0,611.0 1272.3,606.2 1276.7,603.0 1280.2,597.9 1281.1,591.8 1279.8,588.4 1278.0,585.1 1277.9,580.6 1278.9,576.2 1278.6,571.6 1280.2,567.3 1281.0,562.5 1283.4,558.3 1284.8,552.4 1287.8,547.2 1288.6,541.6 1287.8,536.0 1288.6,531.4 1290.1,527.1 1290.0,520.2 1292.3,513.7 1294.4,507.1 1293.6,500.3 1294.5,496.4 1294.6,492.4 1294.0,488.5 1293.2,484.6 1290.0,482.4 1287.8,479.3 1283.8,476.1 1278.9,474.8 1274.6,471.7 1270.0,469.0 1266.4,463.6 1265.0,459.3 1262.4,455.6 1259.9,450.9 1256.6,446.7 1255.3,441.7 1252.1,437.7 1250.5,433.6 1247.7,430.1 1244.1,424.3 1245.4,419.9 1249.9,416.7 1246.8,412.3 1247.7,406.5 1249.4,403.3 1249.9,399.8 1254.4,395.3 1256.6,390.8 1261.0,386.4 1260.8,381.8 1261.9,377.4 1261.0,370.7 1259.3,369.8 1261.9,364.0M1334.7,632.0 1341.4,631.1 1345.1,632.3 1349.0,632.5 1343.6,635.6 1339.6,635.1 1335.6,634.3 1334.7,632.0M1300.8,636.9 1302.1,640.1 1310.2,645.0 1316.0,646.3M1437.4,643.2 1444.1,644.1 1447.2,646.8 1441.8,645.0 1437.4,643.2M307.1,620.9 313.8,621.3 312.5,623.5 308.0,623.5 307.1,620.9M1199.4,403.3 1201.7,404.7 1199.9,406.5 1199.4,403.3M246.9,495.4 249.1,496.2 247.7,497.1 246.9,495.4M256.2,491.3 258.0,492.2 256.7,493.6 256.2,491.3M237.9,345.7 243.3,346.2 240.2,347.1 237.9,345.7M144.2,245.7 149.5,244.3 154.5,243.0 151.8,245.7 147.3,247.5 144.2,245.7M104.9,243.4 111.6,243.9 117.4,244.8 111.6,245.7 104.9,244.8 104.9,243.4M55.8,232.3 59.4,232.2 62.8,233.2 66.1,231.6 69.6,231.4 68.4,234.7 67.4,238.1 61.4,236.8 55.8,234.1 55.8,232.3M36.6,218.9 43.3,218.9 43.1,222.9 42.9,226.9 37.9,227.8 36.2,223.5 36.6,218.9M38.8,212.2 42.0,209.9 42.4,216.6 39.3,216.6 38.8,212.2M10.7,225.6 14.3,223.8 14.3,226.0 10.7,225.6M1532.0,275.6 1534.7,274.7 1533.3,276.9 1532.0,275.6M1543.6,274.3 1546.3,272.5 1545.0,276.0 1543.6,274.3M1491.8,233.2 1494.5,233.2 1493.2,233.6 1491.8,233.2M1501.2,334.1 1502.5,335.0 1501.7,335.4 1501.2,334.1M1566.8,84.9 1571.3,84.4 1569.1,85.3 1566.8,84.9M1574.9,124.2 1578.0,124.2 1576.6,126.0 1574.9,124.2M1600.3,131.8 1602.5,132.2 1601.2,134.0 1600.3,131.8M81.2,146.5 84.8,143.4 83.9,146.1 81.2,146.5M137.5,134.0 141.3,133.5 145.1,133.1 146.4,129.5 142.2,128.9 138.4,126.9 133.9,129.5 137.5,134.0M154.0,129.5 160.7,129.5 160.7,125.1 156.2,122.8 154.0,126.0 154.0,129.5M215.6,93.8 221.0,94.7 222.3,92.5 217.8,91.6 215.6,93.8M854.8,163.9 861.5,162.6 863.8,160.8 860.4,161.9 857.1,163.0 854.8,163.9M828.1,169.3 837.0,168.4 830.3,169.7 828.1,169.3M813.3,171.1 819.1,170.2 816.9,171.5 813.3,171.1M770.0,165.7 774.5,166.2 772.3,165.3 770.0,165.7M840.1,118.8 846.4,119.3 852.6,119.7 853.5,118.8 849.7,118.1 845.9,117.5 840.1,118.8M860.2,134.0 866.0,134.9 867.3,132.7 862.4,132.7 860.2,134.0M651.7,203.2 655.4,202.3 658.4,200.1 662.9,198.8 659.9,201.2 656.2,201.9 651.7,203.2M669.6,196.5 673.2,195.3 676.3,193.0 678.5,191.2 675.2,193.0 671.8,194.7 669.6,196.5M687.4,183.1 690.9,180.6 694.1,177.8 696.4,176.0 691.0,180.5 687.4,183.1M680.7,189.8 684.3,186.7 682.1,188.9 680.7,189.8M570.0,285.4 572.7,282.3 570.9,284.5 570.0,285.4M413.8,350.6 415.1,342.6 414.7,348.4 413.8,350.6M470.9,409.6 475.4,413.2 473.2,415.4 470.9,409.6M673.2,414.1 678.5,416.7 683.0,422.1 680.7,419.9 677.2,416.6 673.2,414.1M690.6,426.6 695.5,431.0 693.2,431.5 690.6,426.6M836.1,462.3 839.2,463.6 837.0,463.6 836.1,462.3M939.2,480.2 941.0,481.1 939.6,481.5 939.2,480.2M817.8,597.6 820.5,598.5 818.7,599.0 817.8,597.6M747.7,611.0 750.8,611.9 748.6,613.3 747.7,611.0M609.8,561.5 615.1,561.9 612.4,562.8 609.8,561.5M581.6,452.5 587.0,452.9 583.9,454.7 581.6,452.5M1275.8,589.6 1278.9,590.9 1278.0,595.9 1275.3,594.1 1275.8,589.6M142.8,400.7 146.9,401.4 150.9,400.7 152.7,406.5 151.3,409.9 149.5,413.2 142.8,413.2 141.5,406.5 142.8,400.7M130.3,417.6 132.6,422.1 134.6,426.5 136.1,431.0 136.2,435.8 138.4,440.0 136.1,440.9 133.3,436.3 132.6,431.0 131.8,426.5 130.3,422.1 130.3,417.6M151.8,444.4 152.9,447.9 154.5,451.1 156.4,455.4 156.2,460.1 157.1,465.9 154.9,464.5 154.3,460.0 153.1,455.6 151.8,448.9 151.8,444.4M0.0,713.8 5.4,715.4 11.1,715.7 16.7,714.9 22.3,715.6 27.8,717.3 33.6,717.6 38.9,715.2 44.6,714.7 49.9,712.3 55.7,712.6 61.3,713.3 67.0,712.4 72.2,715.0 77.8,716.3 83.7,716.6 89.3,714.7 94.8,715.7 100.4,715.4 106.1,714.5 111.6,716.0 117.2,715.2 122.7,713.7 128.4,713.2 133.9,711.5 140.9,711.6 147.3,708.9 152.1,709.1 156.2,711.5 162.8,713.4 169.6,713.8 174.2,712.3 178.6,710.2 184.0,708.3 189.5,706.6 195.4,707.0 200.9,704.8 206.7,703.7 212.6,704.0 218.5,702.8 223.2,699.0 229.8,697.2 236.6,696.4 241.0,697.7 245.5,698.0 250.2,697.8 254.4,699.9 261.1,701.6 267.8,703.1 273.6,702.7 278.9,705.1 284.6,704.9 290.2,703.9 296.9,703.4 303.5,704.8 308.1,706.3 312.5,708.0 317.0,710.0 321.4,712.4 316.9,716.9 321.4,715.9 325.9,714.7 330.5,714.3 334.8,712.4 338.3,711.5 341.2,709.5 344.5,708.0 348.2,708.0 352.9,707.2 357.1,704.8 362.5,702.9 368.2,702.0 373.9,701.9 379.4,700.4 385.0,699.3 390.6,700.2 396.2,701.1 401.8,699.9 407.3,699.0 412.9,698.2 418.6,697.3 424.1,699.0 429.6,697.9 435.2,697.5 440.8,696.9 446.4,695.9 451.8,697.9 457.2,700.2 463.0,700.2 468.7,699.0 474.3,698.1 479.9,699.3 485.6,699.3 491.0,697.7 496.6,698.5 502.1,700.1 507.8,700.0 513.3,699.0 519.0,699.3 524.6,698.7 530.2,699.3 535.7,700.4 541.2,699.2 546.8,698.6 552.3,699.7 558.0,699.0 563.7,699.4 569.1,697.2 574.7,698.3 580.3,697.7 585.9,697.9 591.5,697.7 597.0,696.7 602.6,696.8 608.4,696.7 613.7,699.1 619.2,700.9 624.9,699.9 630.3,702.0 635.9,702.9 641.6,703.7 647.3,702.6 653.1,701.9 659.0,702.2 664.1,704.9 669.6,707.1 675.3,710.1 681.7,710.1 687.9,711.2 694.1,710.2 697.7,712.9 702.0,713.8 706.0,715.7 710.3,716.5 714.7,716.6 718.9,715.4 723.2,716.7 727.6,716.0 732.0,716.1 736.1,717.3 740.6,717.3 744.5,719.3 748.9,720.2 752.8,722.3 757.1,721.3 761.5,721.8 757.5,724.7 753.1,727.1 748.1,727.1 743.2,728.1 738.7,732.4 733.4,735.7 731.9,742.0 727.6,746.8 725.0,749.3 722.7,752.0 719.2,753.0 716.5,755.3 714.2,759.3 713.8,763.8 716.9,766.0 720.5,767.1 724.2,768.0 727.6,769.6 734.1,767.7 740.8,768.7 747.5,770.2 752.8,774.4 759.3,773.9 765.7,773.1 771.9,775.3 778.5,775.0 789.1,776.6 799.6,778.7 809.3,783.9 820.2,784.2 831.0,786.1 841.6,783.5 851.9,779.7 862.9,780.8 869.3,784.3 876.1,787.2 883.5,787.7 890.7,789.0 898.2,788.1 905.5,790.0 913.1,789.3 919.6,785.2 924.0,783.6 928.8,783.1 933.3,784.4 937.9,785.4 942.5,786.1 947.2,786.0 952.0,785.8 956.2,783.5 953.1,780.6 949.3,778.8 945.9,776.2 941.9,775.0 936.4,773.7 930.8,772.9 925.1,773.3 919.6,772.3 921.3,768.2 922.2,763.8 926.5,764.8 930.8,765.1 935.0,764.0 939.3,763.3 943.6,763.3 947.9,763.6 951.8,761.6 956.2,761.1 950.1,758.5 943.7,757.0 937.4,754.8 930.7,755.3 927.1,754.6 923.5,755.6 920.0,754.2 916.3,754.7 912.5,754.8 908.9,753.8 905.3,752.6 902.6,750.0 908.0,746.8 911.5,746.4 915.0,747.0 918.6,746.6 922.1,746.7 925.7,747.4 929.3,746.5 932.9,746.0 936.1,744.1 940.2,742.7 944.5,742.6 948.9,742.6 953.0,741.5 958.7,743.1 964.5,742.1 970.0,740.1 975.8,739.7 980.9,739.3 985.6,737.2 989.9,734.3 995.0,733.6 999.9,735.3 1005.0,735.6 1010.0,736.2 1015.1,735.7 1021.7,735.9 1028.3,736.5 1034.8,738.0 1040.5,741.5 1044.2,736.8 1049.0,733.3 1054.8,732.3 1060.2,729.9 1063.3,731.7 1066.7,733.1 1070.1,734.6 1073.9,734.3 1077.5,733.5 1081.1,734.4 1084.7,733.9 1088.3,734.8 1094.3,734.3 1099.9,736.3 1105.7,735.5 1111.1,733.0 1114.3,734.5 1117.9,735.2 1121.4,736.1 1125.0,735.5 1128.6,735.3 1132.1,734.6 1135.7,734.7 1139.2,735.7 1144.7,733.4 1150.1,730.7 1156.1,730.1 1161.5,727.2 1165.8,728.1 1170.2,727.3 1174.4,725.9 1178.5,724.5 1184.1,725.9 1189.6,727.5 1195.4,727.6 1201.2,727.2 1205.5,727.1 1209.7,726.5 1213.7,728.1 1217.9,728.6 1222.0,727.2 1226.4,727.4 1230.6,727.8 1234.7,729.0 1240.2,726.9 1246.0,726.6 1251.7,727.5 1257.5,727.2 1262.7,727.8 1267.7,729.4 1272.1,728.1 1276.6,727.5 1281.1,727.0 1285.6,726.3 1290.5,725.3 1295.4,724.9 1300.3,725.2 1305.2,725.4 1308.0,720.6 1311.0,716.0 1307.0,711.5 1310.5,709.8 1313.7,707.5 1310.2,702.6 1315.2,701.9 1319.5,699.0 1323.5,693.7 1329.4,690.7 1336.0,690.5 1339.9,688.4 1343.6,686.1 1347.1,684.1 1351.0,683.4 1355.0,682.9 1358.8,684.3 1355.0,687.4 1350.3,688.8 1345.8,689.6 1341.8,691.9 1337.1,693.7 1332.5,695.9 1328.0,699.0 1323.5,699.5 1319.5,701.7 1323.4,704.3 1327.1,707.1 1329.7,709.7 1330.7,713.3 1329.3,719.1 1332.9,721.6 1336.0,724.5 1333.0,727.3 1330.2,730.3 1327.0,732.4 1324.9,735.7 1319.0,737.3 1314.6,741.5 1310.0,743.8 1305.2,745.9 1310.0,746.6 1314.4,748.4 1318.8,746.4 1323.6,746.2 1328.2,746.4 1332.8,746.6 1337.4,746.6 1341.8,748.2 1348.5,745.0 1355.9,743.7 1363.3,743.0 1370.5,745.0 1377.0,748.3 1384.0,750.2 1391.5,750.1 1398.1,753.5 1402.9,755.2 1407.9,755.8 1412.9,754.6 1418.0,755.0 1422.5,752.6 1427.8,752.5 1432.7,754.1 1437.8,753.5 1443.2,752.0 1448.5,749.9 1454.1,749.2 1459.7,749.5 1465.3,747.2 1470.8,744.7 1476.8,742.9 1482.9,744.1 1487.2,740.0 1492.8,738.3 1498.6,739.6 1504.3,737.9 1510.4,735.7 1515.3,731.5 1521.6,731.3 1528.0,731.2 1531.7,730.3 1535.4,729.2 1538.6,727.1 1542.3,725.8 1545.8,724.6 1548.8,722.5 1552.4,722.0 1556.1,721.8 1560.4,722.6 1564.6,721.4 1568.5,719.1 1573.1,718.7 1578.8,720.0 1584.7,719.1 1588.8,716.7 1593.6,716.0 1600.0,713.2 1607.0,713.8M1267.7,718.2 1271.8,714.5 1276.7,712.0 1281.3,712.3 1285.9,712.9 1290.1,711.0 1294.5,709.8 1297.4,712.8 1301.2,714.7 1299.4,718.0 1299.0,721.8 1292.5,724.4 1285.6,724.5 1278.9,723.8 1272.2,722.7 1276.2,722.0 1279.8,720.0 1283.8,720.2 1287.8,720.5 1291.3,718.7 1293.6,715.6 1287.4,714.2 1281.1,715.1 1274.3,716.2 1267.7,718.2M888.3,754.9 893.9,754.6 899.5,753.5 903.9,755.8 899.6,757.5 895.0,757.5 891.5,756.7 888.3,754.9M741.0,746.8 754.4,747.3 749.9,749.5 741.0,746.8M1057.9,62.5 1062.6,62.8 1067.1,61.4 1071.6,62.3 1075.8,64.3 1079.2,63.5 1082.7,63.1 1085.7,61.1 1089.2,60.3 1084.8,58.4 1080.3,56.7 1076.1,58.6 1071.5,59.5 1067.0,58.4 1062.4,59.0 1057.9,62.5M1098.1,55.8 1102.6,55.5 1107.1,55.3 1111.6,55.4 1116.0,56.3 1120.4,52.3 1115.8,51.9 1111.4,53.4 1106.8,53.2 1102.6,51.4 1098.1,55.8M1138.3,54.5 1143.8,56.4 1149.5,57.3 1154.8,55.0 1160.6,54.5 1165.1,50.0 1160.5,50.6 1155.9,51.0 1151.4,49.9 1147.2,47.8 1143.7,48.4 1140.2,48.2 1137.2,50.3 1133.8,51.4 1138.3,54.5M1169.5,54.5 1176.2,54.0 1182.9,54.5 1180.7,50.5 1175.1,49.3 1169.5,50.9 1169.5,54.5M1176.2,68.8 1182.9,70.5 1189.6,68.8 1189.6,64.8 1184.1,63.3 1178.5,64.3 1176.2,68.8M1162.8,95.1 1166.7,93.6 1170.7,94.0 1174.5,95.4 1178.5,96.0 1180.7,91.6 1176.1,91.2 1171.8,89.8 1167.0,90.2 1162.8,92.5 1162.8,95.1M1261.0,101.4 1265.5,100.9 1270.0,101.4 1270.0,98.3 1265.5,97.2 1261.0,98.3 1261.0,101.4M1245.4,77.3 1249.7,75.4 1254.4,75.2 1259.2,75.3 1263.3,77.7 1267.7,75.0 1261.2,72.9 1254.4,72.8 1250.0,74.1 1245.4,74.6 1245.4,77.3M1236.5,123.7 1243.2,125.1 1249.9,124.2 1252.1,121.0 1245.4,120.7 1238.7,120.6 1236.5,123.7M1247.7,127.3 1252.1,126.9 1252.1,123.7 1248.5,123.7 1247.7,127.3M1241.0,165.7 1247.7,165.7 1247.7,164.4 1241.0,164.4 1241.0,165.7M1249.9,151.9 1254.4,151.9 1254.4,148.3 1249.9,148.3 1249.9,151.9M1363.7,92.5 1369.3,91.5 1374.9,92.5 1374.9,88.0 1369.3,88.4 1363.7,88.4 1363.7,92.5M1320.0,193.9 1325.0,195.4 1330.2,194.7 1328.0,196.5 1321.3,195.6 1320.0,193.9M1071.3,64.8 1077.0,64.4 1082.5,65.7 1082.5,62.5 1078.0,62.4 1073.6,62.5 1071.3,64.8M1131.6,75.0 1136.1,74.6 1140.5,75.9 1140.5,72.8 1133.8,72.4 1131.6,75.0M1277.6,220.7 1285.6,218.9 1283.4,220.2 1277.6,220.7M73.2,151.0 76.3,146.1 74.1,149.2 73.2,151.0M49.1,153.2 52.6,151.9 56.2,151.9 55.8,156.3 50.0,155.4 49.1,153.2M103.6,228.2 109.4,231.8 107.1,230.0 103.6,228.2M123.6,240.8 125.9,239.4 125.0,241.2 123.6,240.8M115.6,226.9 118.7,226.5 117.4,227.8 115.6,226.9M563.3,253.3 566.5,252.4 565.1,253.7 563.3,253.3M616.9,232.3 618.2,230.9 618.2,232.7 616.9,232.3M584.3,266.2 584.8,264.4 584.3,265.8M531.2,444.4 539.2,446.7 535.7,448.0 531.2,444.4M562.4,416.3 567.8,416.7 566.0,419.0 562.4,417.6 562.4,416.3M604.9,405.6 608.4,406.9 606.2,407.4 604.9,405.6M599.1,426.6 601.7,428.8 600.4,432.4 598.6,429.7 599.1,426.6M585.7,434.6 588.3,436.8 586.1,437.7 585.7,434.6M433.9,395.7 437.0,398.9 435.2,398.0 433.9,395.7M440.6,406.5 443.3,409.6 441.5,409.1 440.6,406.5M480.3,413.6 483.4,415.0 481.7,416.3 480.3,413.6M503.1,433.3 508.9,432.8 508.0,434.2 503.1,434.2 503.1,433.3M537.5,342.1 541.5,342.1 541.0,347.1 539.2,345.7 537.5,342.1M554.9,346.2 559.3,346.2 561.1,352.0 558.0,352.0 554.9,346.2M546.4,357.3 550.0,353.3 549.7,356.9 550.4,360.5 547.3,360.0 546.4,357.3M544.1,349.3 549.5,350.6 546.8,355.1 544.1,354.2 544.1,349.3M175.0,427.9 176.3,429.7 175.4,430.6 175.0,427.9M193.3,453.4 194.2,455.2 193.3,454.7 193.3,453.4M37.9,385.5 39.7,385.9 38.8,387.3 37.9,385.5M60.3,343.9 64.7,342.6 64.7,345.3 61.6,346.2 60.3,343.9M160.7,381.9 162.5,386.4 161.6,390.4 160.3,386.4 160.7,381.9M340.1,212.6 349.5,211.7 346.0,213.5 340.1,212.6M189.7,230.0 194.2,228.7 192.8,230.9 189.7,230.0M418.3,369.8 419.2,371.6 418.3,370.7M1292.3,642.3 1288.8,643.1 1285.6,644.5 1289.6,645.5 1293.2,647.7 1297.2,646.6 1301.2,647.2 1296.2,645.7 1292.3,642.3M1272.2,621.8 1275.8,625.3 1271.3,626.7 1272.2,621.8M1332.5,681.2 1338.1,680.4 1343.6,678.9 1348.1,679.8 1343.6,681.2 1339.2,682.5 1332.5,681.2M879.4,754.9 883.7,753.4 888.3,753.1 890.5,756.7 886.2,757.8 881.6,757.5 879.4,754.9M1062.4,731.6 1068.0,731.5 1073.6,730.7 1071.3,733.4 1066.9,732.9 1062.4,733.4 1062.4,731.6"/>
</g>
<rect x="6" y="2200" width="1607" height="804" fill="none" stroke="#000" stroke-width="2"/>
<text transform="translate(274.50,47.00) scale(0.9402,1)" font-size="58.7" xml:space="preserve">f09.F-hist.tn15.ACmip.ac02 (yrs 1865-1894)</text>
<text transform="translate(6.00,133.50) scale(0.9558,1)" font-size="46.4" font-weight="bold" xml:space="preserve">TOM net LW flux</text>
<text transform="translate(664.00,133.50) scale(0.9532,1)" font-size="46.4" font-weight="bold" xml:space="preserve">mean= 240.45</text>
<text transform="translate(1509.00,133.50) scale(0.9292,1)" font-size="46.4" font-weight="bold" xml:space="preserve">W/m<tspan dy="-20" font-size="28">2</tspan></text>
<text transform="translate(1674.00,263.00) scale(0.9548,1)" font-size="41.6" font-weight="bold" xml:space="preserve">Min = 122.83 Max = 304.82</text>
<text transform="translate(297.90,1059.50) scale(0.9400,1)" font-size="58.7" xml:space="preserve">f09.B-hist.tn15.cmip6.k32 (yrs 1865-1894)</text>
<text transform="translate(6.00,1146.00) scale(0.9558,1)" font-size="46.4" font-weight="bold" xml:space="preserve">TOM net LW flux</text>
<text transform="translate(664.00,1146.00) scale(0.9532,1)" font-size="46.4" font-weight="bold" xml:space="preserve">mean= 240.28</text>
<text transform="translate(1509.00,1146.00) scale(0.9292,1)" font-size="46.4" font-weight="bold" xml:space="preserve">W/m<tspan dy="-20" font-size="28">2</tspan></text>
<text transform="translate(1674.00,1275.50) scale(0.9548,1)" font-size="41.6" font-weight="bold" xml:space="preserve">Min = 122.91 Max = 306.66</text>
<text transform="translate(139.60,2072.00) scale(0.9424,1)" font-size="58.7" xml:space="preserve">f09.F-hist.tn15.ACmip.ac02 - f09.B-hist.tn15.cmip6.k32</text>
<text transform="translate(3.00,2158.50) scale(0.9474,1)" font-size="46.4" font-weight="bold" xml:space="preserve">mean =   0.17</text>
<text transform="translate(677.00,2158.50) scale(0.9491,1)" font-size="46.4" font-weight="bold" xml:space="preserve">rmse =   1.50</text>
<text transform="translate(1509.00,2158.50) scale(0.9292,1)" font-size="46.4" font-weight="bold" xml:space="preserve">W/m<tspan dy="-20" font-size="28">2</tspan></text>
<text transform="translate(1674.00,2288.00) scale(0.9643,1)" font-size="41.6" font-weight="bold" xml:space="preserve">Min = -18.66 Max =  25.94</text>
<text transform="translate(1783.20,112.90) scale(0.9163,1)" font-size="101.2" font-weight="bold" xml:space="preserve">ANN</text>
<rect x="1842" y="329.30" width="74" height="39.64" fill="#8b0000" stroke="#000" stroke-width="2"/>
<rect x="1842" y="368.94" width="74" height="39.64" fill="#b82400" stroke="#000" stroke-width="2"/>
<rect x="1842" y="408.59" width="74" height="39.64" fill="#e03300" stroke="#000" stroke-width="2"/>
<rect x="1842" y="448.23" width="74" height="39.64" fill="#ff531a" stroke="#000" stroke-width="2"/>
<rect x="1842" y="487.88" width="74" height="39.64" fill="#ff7a45" stroke="#000" stroke-width="2"/>
<rect x="1842" y="527.52" width="74" height="39.64" fill="#ffab86" stroke="#000" stroke-width="2"/>
<rect x="1842" y="567.16" width="74" height="39.64" fill="#ffcdb3" stroke="#000" stroke-width="2"/>
<rect x="1842" y="606.81" width="74" height="39.64" fill="#ffecd9" stroke="#000" stroke-width="2"/>
<rect x="1842" y="646.45" width="74" height="39.64" fill="#d9ecff" stroke="#000" stroke-width="2"/>
<rect x="1842" y="686.09" width="74" height="39.64" fill="#b3cdff" stroke="#000" stroke-width="2"/>
<rect x="1842" y="725.74" width="74" height="39.64" fill="#86aaff" stroke="#000" stroke-width="2"/>
<rect x="1842" y="765.38" width="74" height="39.64" fill="#4579ff" stroke="#000" stroke-width="2"/>
<rect x="1842" y="805.02" width="74" height="39.64" fill="#1a53ff" stroke="#000" stroke-width="2"/>
<rect x="1842" y="844.67" width="74" height="39.64" fill="#0033e0" stroke="#000" stroke-width="2"/>
<rect x="1842" y="884.31" width="74" height="39.64" fill="#0024b8" stroke="#000" stroke-width="2"/>
<rect x="1842" y="923.96" width="74" height="39.64" fill="#00008b" stroke="#000" stroke-width="2"/>
<text class="l" x="1970" y="380.4">310</text>
<text class="l" x="1970" y="420.1">295</text>
<text class="l" x="1970" y="459.7">280</text>
<text class="l" x="1970" y="499.4">265</text>
<text class="l" x="1970" y="539.0">250</text>
<text class="l" x="1970" y="578.7">235</text>
<text class="l" x="1970" y="618.3">220</text>
<text class="l" x="1970" y="658.0">205</text>
<text class="l" x="1970" y="697.6">190</text>
<text class="l" x="1970" y="737.2">175</text>
<text class="l" x="1970" y="776.9">160</text>
<text class="l" x="1970" y="816.5">145</text>
<text class="l" x="1970" y="856.2">130</text>
<text class="l" x="1970" y="895.8">115</text>
<text class="l" x="1970" y="935.5">100</text>
<rect x="1842" y="1341.80" width="74" height="39.64" fill="#8b0000" stroke="#000" stroke-width="2"/>
<rect x="1842" y="1381.44" width="74" height="39.64" fill="#b82400" stroke="#000" stroke-width="2"/>
<rect x="1842" y="1421.09" width="74" height="39.64" fill="#e03300" stroke="#000" stroke-width="2"/>
<rect x="1842" y="1460.73" width="74" height="39.64" fill="#ff531a" stroke="#000" stroke-width="2"/>
<rect x="1842" y="1500.38" width="74" height="39.64" fill="#ff7a45" stroke="#000" stroke-width="2"/>
<rect x="1842" y="1540.02" width="74" height="39.64" fill="#ffab86" stroke="#000" stroke-width="2"/>
<rect x="1842" y="1579.66" width="74" height="39.64" fill="#ffcdb3" stroke="#000" stroke-width="2"/>
<rect x="1842" y="1619.31" width="74" height="39.64" fill="#ffecd9" stroke="#000" stroke-width="2"/>
<rect x="1842" y="1658.95" width="74" height="39.64" fill="#d9ecff" stroke="#000" stroke-width="2"/>
<rect x="1842" y="1698.59" width="74" height="39.64" fill="#b3cdff" stroke="#000" stroke-width="2"/>
<rect x="1842" y="1738.24" width="74" height="39.64" fill="#86aaff" stroke="#000" stroke-width="2"/>
<rect x="1842" y="1777.88" width="74" height="39.64" fill="#4579ff" stroke="#000" stroke-width="2"/>
<rect x="1842" y="1817.52" width="74" height="39.64" fill="#1a53ff" stroke="#000" stroke-width="2"/>
<rect x="1842" y="1857.17" width="74" height="39.64" fill="#0033e0" stroke="#000" stroke-width="2"/>
<rect x="1842" y="1896.81" width="74" height="39.64" fill="#0024b8" stroke="#000" stroke-width="2"/>
<rect x="1842" y="1936.46" width="74" height="39.64" fill="#00008b" stroke="#000" stroke-width="2"/>
<text class="l" x="1970" y="1392.9">310</text>
<text class="l" x="1970" y="1432.6">295</text>
<text class="l" x="1970" y="1472.2">280</text>
<text class="l" x="1970" y="1511.9">265</text>
<text class="l" x="1970" y="1551.5">250</text>
<text class="l" x="1970" y="1591.2">235</text>
<text class="l" x="1970" y="1630.8">220</text>
<text class="l" x="1970" y="1670.4">205</text>
<text class="l" x="1970" y="1710.1">190</text>
<text class="l" x="1970" y="1749.7">175</text>
<text class="l" x="1970" y="1789.4">160</text>
<text class="l" x="1970" y="1829.0">145</text>
<text class="l" x="1970" y="1868.7">130</text>
<text class="l" x="1970" y="1908.3">115</text>
<text class="l" x="1970" y="1948.0">100</text>
<rect x="1837.5" y="2354.40" width="71.0" height="39.65" fill="#8b0000" stroke="#000" stroke-width="2"/>
<rect x="1837.5" y="2394.05" width="71.0" height="39.65" fill="#b82400" stroke="#000" stroke-width="2"/>
<rect x="1837.5" y="2433.70" width="71.0" height="39.65" fill="#e03300" stroke="#000" stroke-width="2"/>
<rect x="1837.5" y="2473.35" width="71.0" height="39.65" fill="#ff531a" stroke="#000" stroke-width="2"/>
<rect x="1837.5" y="2513.00" width="71.0" height="39.65" fill="#ff7a45" stroke="#000" stroke-width="2"/>
<rect x="1837.5" y="2552.65" width="71.0" height="39.65" fill="#ffab86" stroke="#000" stroke-width="2"/>
<rect x="1837.5" y="2592.30" width="71.0" height="39.65" fill="#ffcdb3" stroke="#000" stroke-width="2"/>
<rect x="1837.5" y="2631.95" width="71.0" height="39.65" fill="#ffecd9" stroke="#000" stroke-width="2"/>
<rect x="1837.5" y="2671.60" width="71.0" height="39.65" fill="#d9ecff" stroke="#000" stroke-width="2"/>
<rect x="1837.5" y="2711.25" width="71.0" height="39.65" fill="#b3cdff" stroke="#000" stroke-width="2"/>
<rect x="1837.5" y="2750.90" width="71.0" height="39.65" fill="#86aaff" stroke="#000" stroke-width="2"/>
<rect x="1837.5" y="2790.55" width="71.0" height="39.65" fill="#4579ff" stroke="#000" stroke-width="2"/>
<rect x="1837.5" y="2830.20" width="71.0" height="39.65" fill="#1a53ff" stroke="#000" stroke-width="2"/>
<rect x="1837.5" y="2869.85" width="71.0" height="39.65" fill="#0033e0" stroke="#000" stroke-width="2"/>
<rect x="1837.5" y="2909.50" width="71.0" height="39.65" fill="#0024b8" stroke="#000" stroke-width="2"/>
<rect x="1837.5" y="2949.15" width="71.0" height="39.65" fill="#00008b" stroke="#000" stroke-width="2"/>
<text class="l" x="1959" y="2405.6">60</text>
<text class="l" x="1959" y="2445.2">50</text>
<text class="l" x="1959" y="2484.8">40</text>
<text class="l" x="1959" y="2524.5">30</text>
<text class="l" x="1959" y="2564.2">20</text>
<text class="l" x="1959" y="2603.8">10</text>
<text class="l" x="1959" y="2643.5">5</text>
<text class="l" x="1959" y="2683.1">0</text>
<text class="l" x="1959" y="2722.8">-5</text>
<text class="l" x="1959" y="2762.4">-10</text>
<text class="l" x="1959" y="2802.1">-20</text>
<text class="l" x="1959" y="2841.7">-30</text>
<text class="l" x="1959" y="2881.4">-40</text>
<text class="l" x="1959" y="2921.0">-50</text>
<text class="l" x="1959" y="2960.7">-60</text>
</svg>
</body></html>
